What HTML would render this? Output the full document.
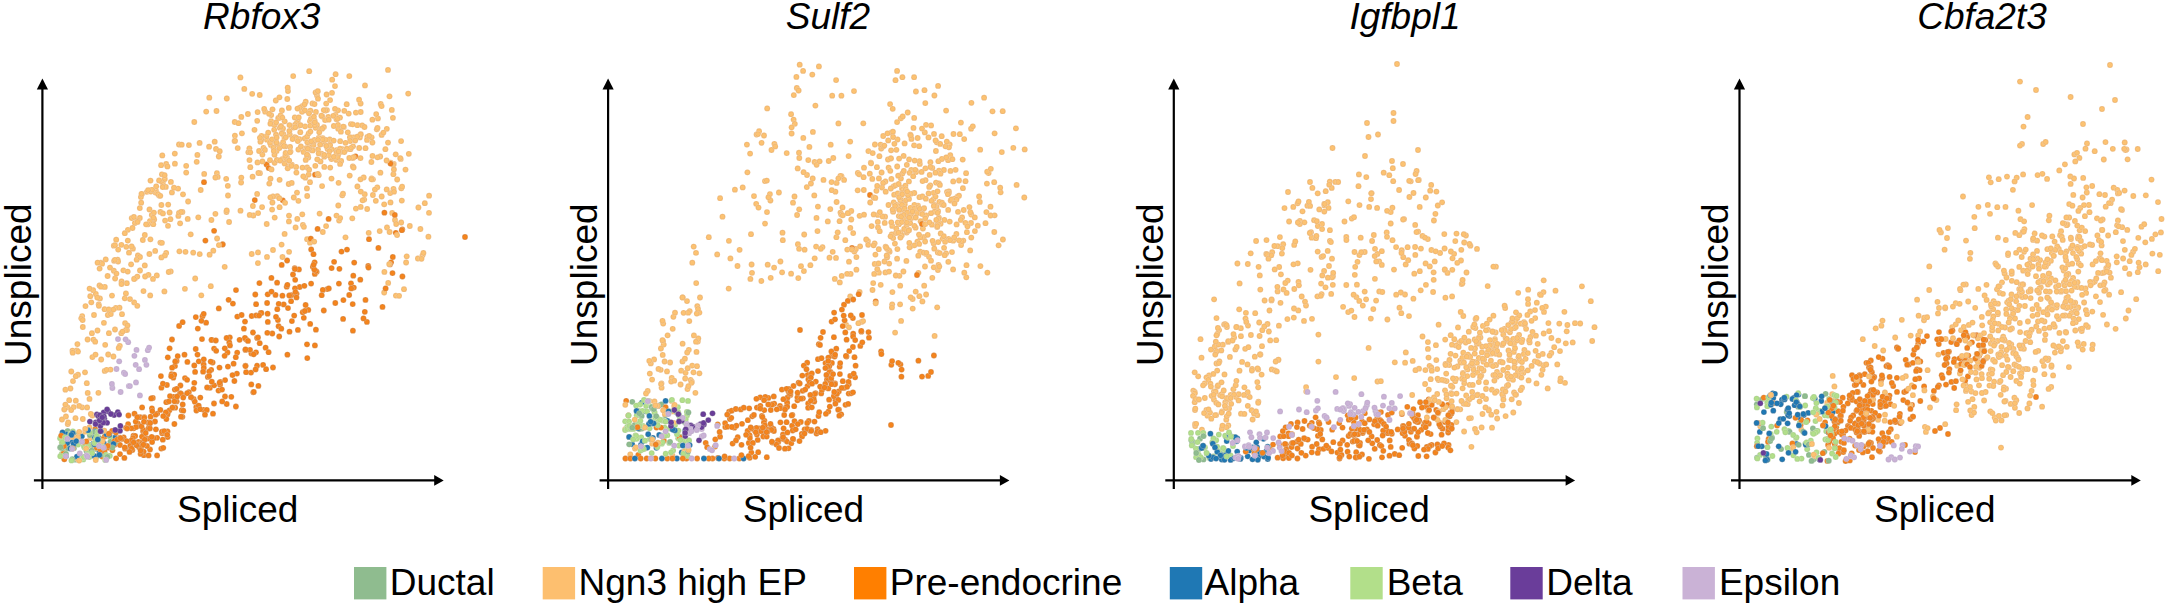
<!DOCTYPE html>
<html><head><meta charset="utf-8"><style>
html,body{margin:0;padding:0;background:#fff;width:2168px;height:606px;overflow:hidden}
svg{display:block}
text{font-family:"Liberation Sans",Arial,sans-serif;font-size:37px;fill:#000}
text.t{font-style:italic}
circle{r:2.9px;stroke:#fff;stroke-opacity:.55;stroke-width:.5px}
.D{fill:url(#gD)}.N{fill:url(#gN)}.P{fill:url(#gP)}.A{fill:url(#gA)}.B{fill:url(#gB)}.T{fill:url(#gT)}.E{fill:url(#gE)}
</style></head><body>
<svg width="2168" height="606" viewBox="0 0 2168 606">
<defs><radialGradient id="gD"><stop offset="0" stop-color="#8fbc8f"/><stop offset=".55" stop-color="#8fbc8f"/><stop offset="1" stop-color="#76a577"/></radialGradient><radialGradient id="gN"><stop offset="0" stop-color="#fcc272"/><stop offset=".55" stop-color="#fcc272"/><stop offset="1" stop-color="#e5a152"/></radialGradient><radialGradient id="gP"><stop offset="0" stop-color="#f5841c"/><stop offset=".55" stop-color="#f5841c"/><stop offset="1" stop-color="#cf6a12"/></radialGradient><radialGradient id="gA"><stop offset="0" stop-color="#1f78b4"/><stop offset=".55" stop-color="#1f78b4"/><stop offset="1" stop-color="#175d8c"/></radialGradient><radialGradient id="gB"><stop offset="0" stop-color="#b2df8a"/><stop offset=".55" stop-color="#b2df8a"/><stop offset="1" stop-color="#97c472"/></radialGradient><radialGradient id="gT"><stop offset="0" stop-color="#6a3d9a"/><stop offset=".55" stop-color="#6a3d9a"/><stop offset="1" stop-color="#52307a"/></radialGradient><radialGradient id="gE"><stop offset="0" stop-color="#cab2d6"/><stop offset=".55" stop-color="#cab2d6"/><stop offset="1" stop-color="#b098bf"/></radialGradient></defs>
<g><circle class="N" cx="284.5" cy="138.1" r="2.9"/>
<circle class="B" cx="1820.3" cy="410.8" r="2.9"/>
<circle class="P" cx="166.3" cy="402.2" r="2.9"/>
<circle class="A" cx="1782.0" cy="399.6" r="2.9"/>
<circle class="N" cx="2067.4" cy="224.5" r="2.9"/>
<circle class="N" cx="818.9" cy="66.4" r="2.9"/>
<circle class="P" cx="1448.6" cy="445.0" r="2.9"/>
<circle class="N" cx="281.9" cy="110.5" r="2.9"/>
<circle class="P" cx="786.6" cy="422.2" r="2.9"/>
<circle class="P" cx="800.0" cy="330.0" r="2.9"/>
<circle class="N" cx="835.4" cy="191.7" r="2.9"/>
<circle class="N" cx="904.7" cy="204.2" r="2.9"/>
<circle class="N" cx="1493.2" cy="341.8" r="2.9"/>
<circle class="N" cx="1480.4" cy="337.4" r="2.9"/>
<circle class="N" cx="2078.4" cy="236.5" r="2.9"/>
<circle class="N" cx="1425.1" cy="384.0" r="2.9"/>
<circle class="B" cx="661.8" cy="443.7" r="2.9"/>
<circle class="N" cx="1490.9" cy="364.5" r="2.9"/>
<circle class="N" cx="892.2" cy="225.9" r="2.9"/>
<circle class="P" cx="214.1" cy="230.8" r="2.9"/>
<circle class="N" cx="1957.2" cy="365.7" r="2.9"/>
<circle class="N" cx="699.4" cy="312.6" r="2.9"/>
<circle class="N" cx="1993.1" cy="359.9" r="2.9"/>
<circle class="N" cx="288.3" cy="166.1" r="2.9"/>
<circle class="N" cx="910.3" cy="134.7" r="2.9"/>
<circle class="N" cx="2068.2" cy="264.4" r="2.9"/>
<circle class="P" cx="717.9" cy="457.9" r="2.9"/>
<circle class="B" cx="657.1" cy="421.7" r="2.9"/>
<circle class="N" cx="348.7" cy="113.6" r="2.9"/>
<circle class="N" cx="127.0" cy="330.1" r="2.9"/>
<circle class="N" cx="1497.2" cy="418.5" r="2.9"/>
<circle class="N" cx="889.6" cy="251.7" r="2.9"/>
<circle class="N" cx="2027.7" cy="369.2" r="2.9"/>
<circle class="N" cx="934.0" cy="133.9" r="2.9"/>
<circle class="N" cx="338.2" cy="128.8" r="2.9"/>
<circle class="N" cx="2113.7" cy="187.7" r="2.9"/>
<circle class="N" cx="693.7" cy="246.6" r="2.9"/>
<circle class="N" cx="274.6" cy="162.8" r="2.9"/>
<circle class="N" cx="1250.7" cy="253.3" r="2.9"/>
<circle class="N" cx="1343.1" cy="306.8" r="2.9"/>
<circle class="N" cx="171.9" cy="192.4" r="2.9"/>
<circle class="P" cx="810.2" cy="376.5" r="2.9"/>
<circle class="N" cx="687.0" cy="301.1" r="2.9"/>
<circle class="P" cx="870.0" cy="195.0" r="2.9"/>
<circle class="N" cx="2006.2" cy="415.1" r="2.9"/>
<circle class="N" cx="897.1" cy="258.7" r="2.9"/>
<circle class="N" cx="1986.3" cy="358.3" r="2.9"/>
<circle class="N" cx="1971.6" cy="415.1" r="2.9"/>
<circle class="B" cx="96.0" cy="458.0" r="2.9"/>
<circle class="P" cx="768.4" cy="397.9" r="2.9"/>
<circle class="N" cx="2053.9" cy="305.7" r="2.9"/>
<circle class="N" cx="2058.8" cy="248.9" r="2.9"/>
<circle class="N" cx="2051.4" cy="366.8" r="2.9"/>
<circle class="N" cx="1324.5" cy="205.4" r="2.9"/>
<circle class="P" cx="1352.7" cy="441.6" r="2.9"/>
<circle class="N" cx="911.3" cy="170.0" r="2.9"/>
<circle class="N" cx="2005.5" cy="401.0" r="2.9"/>
<circle class="N" cx="916.0" cy="170.8" r="2.9"/>
<circle class="N" cx="1420.7" cy="290.3" r="2.9"/>
<circle class="P" cx="212.6" cy="362.5" r="2.9"/>
<circle class="N" cx="1392.4" cy="207.7" r="2.9"/>
<circle class="N" cx="2048.8" cy="220.3" r="2.9"/>
<circle class="N" cx="315.4" cy="123.6" r="2.9"/>
<circle class="N" cx="917.4" cy="241.6" r="2.9"/>
<circle class="N" cx="115.1" cy="278.5" r="2.9"/>
<circle class="N" cx="1229.1" cy="408.3" r="2.9"/>
<circle class="N" cx="1228.2" cy="341.9" r="2.9"/>
<circle class="N" cx="2064.7" cy="306.8" r="2.9"/>
<circle class="N" cx="797.1" cy="215.0" r="2.9"/>
<circle class="N" cx="1878.1" cy="419.8" r="2.9"/>
<circle class="N" cx="924.0" cy="236.8" r="2.9"/>
<circle class="P" cx="835.9" cy="398.0" r="2.9"/>
<circle class="N" cx="942.0" cy="204.4" r="2.9"/>
<circle class="N" cx="1526.1" cy="328.8" r="2.9"/>
<circle class="N" cx="170.7" cy="271.4" r="2.9"/>
<circle class="P" cx="97.5" cy="433.5" r="2.9"/>
<circle class="N" cx="320.2" cy="129.2" r="2.9"/>
<circle class="B" cx="625.2" cy="421.3" r="2.9"/>
<circle class="N" cx="2074.9" cy="221.0" r="2.9"/>
<circle class="N" cx="1501.0" cy="361.6" r="2.9"/>
<circle class="N" cx="2015.3" cy="232.9" r="2.9"/>
<circle class="N" cx="1984.6" cy="295.4" r="2.9"/>
<circle class="N" cx="2011.3" cy="344.5" r="2.9"/>
<circle class="A" cx="1237.3" cy="438.3" r="2.9"/>
<circle class="A" cx="87.4" cy="451.5" r="2.9"/>
<circle class="P" cx="139.2" cy="425.5" r="2.9"/>
<circle class="N" cx="2076.9" cy="309.0" r="2.9"/>
<circle class="N" cx="2108.1" cy="235.5" r="2.9"/>
<circle class="B" cx="61.8" cy="442.4" r="2.9"/>
<circle class="P" cx="176.7" cy="401.4" r="2.9"/>
<circle class="P" cx="836.3" cy="348.7" r="2.9"/>
<circle class="P" cx="1964.6" cy="337.2" r="2.9"/>
<circle class="N" cx="252.2" cy="93.8" r="2.9"/>
<circle class="P" cx="1377.3" cy="418.1" r="2.9"/>
<circle class="N" cx="275.8" cy="100.5" r="2.9"/>
<circle class="N" cx="2126.5" cy="149.4" r="2.9"/>
<circle class="D" cx="1798.1" cy="406.7" r="2.9"/>
<circle class="N" cx="1209.1" cy="375.4" r="2.9"/>
<circle class="N" cx="2028.3" cy="332.6" r="2.9"/>
<circle class="P" cx="391.1" cy="262.3" r="2.9"/>
<circle class="N" cx="1374.9" cy="278.8" r="2.9"/>
<circle class="N" cx="380.2" cy="156.5" r="2.9"/>
<circle class="P" cx="852.9" cy="318.1" r="2.9"/>
<circle class="N" cx="1446.6" cy="381.1" r="2.9"/>
<circle class="N" cx="187.7" cy="218.9" r="2.9"/>
<circle class="P" cx="729.1" cy="411.7" r="2.9"/>
<circle class="N" cx="360.6" cy="103.5" r="2.9"/>
<circle class="P" cx="143.8" cy="455.2" r="2.9"/>
<circle class="P" cx="102.2" cy="456.6" r="2.9"/>
<circle class="B" cx="1205.0" cy="447.4" r="2.9"/>
<circle class="P" cx="1836.3" cy="427.2" r="2.9"/>
<circle class="N" cx="1472.8" cy="366.2" r="2.9"/>
<circle class="N" cx="2101.9" cy="229.9" r="2.9"/>
<circle class="N" cx="1508.0" cy="367.6" r="2.9"/>
<circle class="P" cx="1437.4" cy="444.5" r="2.9"/>
<circle class="N" cx="389.5" cy="96.3" r="2.9"/>
<circle class="N" cx="1464.1" cy="431.5" r="2.9"/>
<circle class="N" cx="1564.4" cy="311.8" r="2.9"/>
<circle class="B" cx="688.7" cy="433.1" r="2.9"/>
<circle class="N" cx="2020.5" cy="219.2" r="2.9"/>
<circle class="N" cx="277.3" cy="196.2" r="2.9"/>
<circle class="N" cx="313.5" cy="145.0" r="2.9"/>
<circle class="N" cx="2020.8" cy="284.6" r="2.9"/>
<circle class="P" cx="168.1" cy="412.1" r="2.9"/>
<circle class="P" cx="133.7" cy="428.3" r="2.9"/>
<circle class="N" cx="2078.2" cy="307.4" r="2.9"/>
<circle class="N" cx="2080.2" cy="208.0" r="2.9"/>
<circle class="N" cx="1930.0" cy="407.5" r="2.9"/>
<circle class="P" cx="169.4" cy="410.3" r="2.9"/>
<circle class="N" cx="2102.0" cy="273.1" r="2.9"/>
<circle class="N" cx="1206.5" cy="377.3" r="2.9"/>
<circle class="B" cx="1784.5" cy="429.2" r="2.9"/>
<circle class="N" cx="125.9" cy="330.0" r="2.9"/>
<circle class="N" cx="861.5" cy="321.9" r="2.9"/>
<circle class="N" cx="770.7" cy="277.8" r="2.9"/>
<circle class="A" cx="1789.3" cy="416.1" r="2.9"/>
<circle class="N" cx="1408.2" cy="260.2" r="2.9"/>
<circle class="A" cx="1221.8" cy="459.6" r="2.9"/>
<circle class="P" cx="209.9" cy="387.8" r="2.9"/>
<circle class="N" cx="1416.6" cy="171.0" r="2.9"/>
<circle class="P" cx="283.7" cy="304.4" r="2.9"/>
<circle class="D" cx="684.9" cy="422.2" r="2.9"/>
<circle class="N" cx="1222.0" cy="411.5" r="2.9"/>
<circle class="N" cx="822.5" cy="247.1" r="2.9"/>
<circle class="B" cx="1767.5" cy="447.2" r="2.9"/>
<circle class="N" cx="2002.0" cy="282.3" r="2.9"/>
<circle class="N" cx="2051.9" cy="253.2" r="2.9"/>
<circle class="N" cx="1927.6" cy="370.2" r="2.9"/>
<circle class="P" cx="165.6" cy="433.4" r="2.9"/>
<circle class="P" cx="1867.2" cy="405.6" r="2.9"/>
<circle class="N" cx="1456.4" cy="422.1" r="2.9"/>
<circle class="P" cx="138.7" cy="444.4" r="2.9"/>
<circle class="N" cx="903.6" cy="155.9" r="2.9"/>
<circle class="N" cx="888.2" cy="140.4" r="2.9"/>
<circle class="N" cx="377.9" cy="118.4" r="2.9"/>
<circle class="P" cx="1355.6" cy="417.4" r="2.9"/>
<circle class="N" cx="2073.7" cy="318.6" r="2.9"/>
<circle class="N" cx="673.4" cy="316.8" r="2.9"/>
<circle class="D" cx="91.2" cy="453.9" r="2.9"/>
<circle class="N" cx="1457.4" cy="366.5" r="2.9"/>
<circle class="N" cx="1233.4" cy="389.2" r="2.9"/>
<circle class="P" cx="188.9" cy="392.1" r="2.9"/>
<circle class="N" cx="1213.9" cy="399.5" r="2.9"/>
<circle class="N" cx="1516.1" cy="394.6" r="2.9"/>
<circle class="N" cx="2065.0" cy="303.3" r="2.9"/>
<circle class="P" cx="756.9" cy="407.6" r="2.9"/>
<circle class="N" cx="1925.9" cy="431.9" r="2.9"/>
<circle class="N" cx="360.2" cy="135.0" r="2.9"/>
<circle class="P" cx="167.6" cy="437.0" r="2.9"/>
<circle class="N" cx="82.2" cy="407.3" r="2.9"/>
<circle class="N" cx="1955.7" cy="303.1" r="2.9"/>
<circle class="N" cx="964.2" cy="139.1" r="2.9"/>
<circle class="N" cx="186.2" cy="172.6" r="2.9"/>
<circle class="D" cx="77.0" cy="458.6" r="2.9"/>
<circle class="P" cx="138.5" cy="441.9" r="2.9"/>
<circle class="A" cx="1814.8" cy="398.8" r="2.9"/>
<circle class="N" cx="957.5" cy="196.7" r="2.9"/>
<circle class="N" cx="905.7" cy="200.3" r="2.9"/>
<circle class="P" cx="785.1" cy="439.7" r="2.9"/>
<circle class="P" cx="150.0" cy="449.5" r="2.9"/>
<circle class="P" cx="1290.1" cy="454.5" r="2.9"/>
<circle class="N" cx="2071.0" cy="239.1" r="2.9"/>
<circle class="B" cx="678.4" cy="430.6" r="2.9"/>
<circle class="N" cx="918.0" cy="205.6" r="2.9"/>
<circle class="A" cx="641.9" cy="402.6" r="2.9"/>
<circle class="N" cx="767.2" cy="108.4" r="2.9"/>
<circle class="B" cx="78.1" cy="444.6" r="2.9"/>
<circle class="P" cx="327.3" cy="289.1" r="2.9"/>
<circle class="P" cx="287.4" cy="354.7" r="2.9"/>
<circle class="N" cx="1511.4" cy="322.7" r="2.9"/>
<circle class="B" cx="1826.3" cy="431.2" r="2.9"/>
<circle class="N" cx="307.2" cy="196.0" r="2.9"/>
<circle class="P" cx="279.2" cy="336.5" r="2.9"/>
<circle class="N" cx="933.4" cy="199.1" r="2.9"/>
<circle class="N" cx="1937.5" cy="301.8" r="2.9"/>
<circle class="P" cx="1900.3" cy="423.0" r="2.9"/>
<circle class="P" cx="1379.8" cy="445.0" r="2.9"/>
<circle class="B" cx="643.2" cy="449.3" r="2.9"/>
<circle class="N" cx="160.4" cy="242.6" r="2.9"/>
<circle class="N" cx="249.4" cy="148.3" r="2.9"/>
<circle class="N" cx="867.9" cy="241.1" r="2.9"/>
<circle class="N" cx="2001.5" cy="420.4" r="2.9"/>
<circle class="N" cx="1479.6" cy="401.3" r="2.9"/>
<circle class="P" cx="1874.3" cy="376.9" r="2.9"/>
<circle class="B" cx="1832.1" cy="453.5" r="2.9"/>
<circle class="N" cx="156.8" cy="275.4" r="2.9"/>
<circle class="P" cx="1354.0" cy="422.6" r="2.9"/>
<circle class="B" cx="686.9" cy="411.9" r="2.9"/>
<circle class="N" cx="273.0" cy="196.5" r="2.9"/>
<circle class="N" cx="1403.3" cy="257.2" r="2.9"/>
<circle class="N" cx="911.2" cy="245.8" r="2.9"/>
<circle class="P" cx="1870.8" cy="360.5" r="2.9"/>
<circle class="P" cx="1358.1" cy="434.2" r="2.9"/>
<circle class="P" cx="392.8" cy="257.0" r="2.9"/>
<circle class="N" cx="1418.8" cy="421.8" r="2.9"/>
<circle class="N" cx="248.4" cy="152.2" r="2.9"/>
<circle class="A" cx="115.2" cy="437.5" r="2.9"/>
<circle class="N" cx="336.5" cy="150.1" r="2.9"/>
<circle class="P" cx="193.6" cy="399.0" r="2.9"/>
<circle class="N" cx="936.8" cy="142.3" r="2.9"/>
<circle class="N" cx="273.0" cy="250.0" r="2.9"/>
<circle class="N" cx="1939.0" cy="308.0" r="2.9"/>
<circle class="N" cx="274.2" cy="129.8" r="2.9"/>
<circle class="N" cx="139.8" cy="218.0" r="2.9"/>
<circle class="N" cx="307.1" cy="167.4" r="2.9"/>
<circle class="B" cx="678.9" cy="445.6" r="2.9"/>
<circle class="P" cx="1403.5" cy="428.0" r="2.9"/>
<circle class="P" cx="1302.6" cy="429.0" r="2.9"/>
<circle class="P" cx="1860.7" cy="431.9" r="2.9"/>
<circle class="N" cx="946.1" cy="253.4" r="2.9"/>
<circle class="B" cx="655.2" cy="417.5" r="2.9"/>
<circle class="N" cx="2013.5" cy="348.9" r="2.9"/>
<circle class="N" cx="923.0" cy="237.3" r="2.9"/>
<circle class="N" cx="2075.8" cy="310.3" r="2.9"/>
<circle class="N" cx="1983.0" cy="362.6" r="2.9"/>
<circle class="D" cx="642.0" cy="428.5" r="2.9"/>
<circle class="N" cx="1918.2" cy="335.4" r="2.9"/>
<circle class="P" cx="143.7" cy="441.3" r="2.9"/>
<circle class="P" cx="311.1" cy="283.6" r="2.9"/>
<circle class="P" cx="638.3" cy="454.9" r="2.9"/>
<circle class="N" cx="936.5" cy="206.9" r="2.9"/>
<circle class="P" cx="175.0" cy="366.1" r="2.9"/>
<circle class="B" cx="657.0" cy="417.3" r="2.9"/>
<circle class="N" cx="1513.3" cy="412.5" r="2.9"/>
<circle class="N" cx="2075.3" cy="330.5" r="2.9"/>
<circle class="N" cx="696.2" cy="283.1" r="2.9"/>
<circle class="N" cx="241.9" cy="133.3" r="2.9"/>
<circle class="P" cx="267.7" cy="294.3" r="2.9"/>
<circle class="N" cx="1193.3" cy="390.6" r="2.9"/>
<circle class="N" cx="1002.7" cy="111.2" r="2.9"/>
<circle class="P" cx="821.2" cy="393.4" r="2.9"/>
<circle class="P" cx="142.5" cy="441.8" r="2.9"/>
<circle class="P" cx="1845.6" cy="461.0" r="2.9"/>
<circle class="A" cx="1796.4" cy="443.8" r="2.9"/>
<circle class="N" cx="134.9" cy="223.0" r="2.9"/>
<circle class="N" cx="1386.7" cy="232.4" r="2.9"/>
<circle class="N" cx="878.0" cy="227.4" r="2.9"/>
<circle class="P" cx="114.5" cy="444.7" r="2.9"/>
<circle class="N" cx="2014.5" cy="364.4" r="2.9"/>
<circle class="P" cx="1940.2" cy="338.9" r="2.9"/>
<circle class="P" cx="312.8" cy="266.8" r="2.9"/>
<circle class="N" cx="67.7" cy="424.1" r="2.9"/>
<circle class="N" cx="1231.2" cy="403.8" r="2.9"/>
<circle class="N" cx="688.8" cy="349.8" r="2.9"/>
<circle class="N" cx="898.7" cy="224.2" r="2.9"/>
<circle class="B" cx="1760.1" cy="454.9" r="2.9"/>
<circle class="N" cx="1547.7" cy="388.4" r="2.9"/>
<circle class="P" cx="715.1" cy="446.5" r="2.9"/>
<circle class="D" cx="1786.7" cy="411.9" r="2.9"/>
<circle class="N" cx="830.3" cy="209.1" r="2.9"/>
<circle class="N" cx="890.8" cy="158.4" r="2.9"/>
<circle class="N" cx="121.3" cy="333.2" r="2.9"/>
<circle class="N" cx="1997.5" cy="341.0" r="2.9"/>
<circle class="B" cx="641.2" cy="437.3" r="2.9"/>
<circle class="N" cx="1504.4" cy="328.8" r="2.9"/>
<circle class="N" cx="2069.2" cy="217.5" r="2.9"/>
<circle class="N" cx="319.6" cy="213.6" r="2.9"/>
<circle class="N" cx="2071.5" cy="312.8" r="2.9"/>
<circle class="P" cx="1423.7" cy="425.9" r="2.9"/>
<circle class="N" cx="312.5" cy="103.4" r="2.9"/>
<circle class="P" cx="1837.7" cy="422.3" r="2.9"/>
<circle class="N" cx="922.9" cy="228.5" r="2.9"/>
<circle class="N" cx="1442.1" cy="202.3" r="2.9"/>
<circle class="N" cx="1258.4" cy="401.6" r="2.9"/>
<circle class="P" cx="1428.8" cy="423.7" r="2.9"/>
<circle class="N" cx="278.9" cy="145.1" r="2.9"/>
<circle class="A" cx="658.4" cy="405.7" r="2.9"/>
<circle class="P" cx="140.1" cy="417.2" r="2.9"/>
<circle class="N" cx="756.2" cy="203.8" r="2.9"/>
<circle class="P" cx="1315.6" cy="417.3" r="2.9"/>
<circle class="N" cx="1432.5" cy="401.7" r="2.9"/>
<circle class="P" cx="180.4" cy="385.5" r="2.9"/>
<circle class="N" cx="2075.7" cy="322.2" r="2.9"/>
<circle class="N" cx="336.4" cy="159.9" r="2.9"/>
<circle class="B" cx="61.8" cy="453.8" r="2.9"/>
<circle class="N" cx="2011.4" cy="316.4" r="2.9"/>
<circle class="P" cx="1933.9" cy="390.9" r="2.9"/>
<circle class="N" cx="919.4" cy="296.2" r="2.9"/>
<circle class="A" cx="92.8" cy="443.8" r="2.9"/>
<circle class="A" cx="1759.8" cy="431.9" r="2.9"/>
<circle class="N" cx="1271.8" cy="369.4" r="2.9"/>
<circle class="P" cx="1834.6" cy="433.8" r="2.9"/>
<circle class="D" cx="1813.4" cy="459.6" r="2.9"/>
<circle class="A" cx="645.8" cy="411.3" r="2.9"/>
<circle class="A" cx="1240.8" cy="457.9" r="2.9"/>
<circle class="B" cx="90.1" cy="434.1" r="2.9"/>
<circle class="N" cx="2016.3" cy="365.7" r="2.9"/>
<circle class="D" cx="1798.6" cy="404.6" r="2.9"/>
<circle class="N" cx="1324.3" cy="211.6" r="2.9"/>
<circle class="D" cx="1200.0" cy="438.7" r="2.9"/>
<circle class="N" cx="672.4" cy="455.4" r="2.9"/>
<circle class="N" cx="2020.0" cy="295.6" r="2.9"/>
<circle class="N" cx="1565.8" cy="343.3" r="2.9"/>
<circle class="N" cx="349.3" cy="76.1" r="2.9"/>
<circle class="N" cx="1476.6" cy="432.3" r="2.9"/>
<circle class="N" cx="661.6" cy="387.7" r="2.9"/>
<circle class="P" cx="266.6" cy="164.5" r="2.9"/>
<circle class="N" cx="764.9" cy="181.1" r="2.9"/>
<circle class="N" cx="2042.4" cy="173.8" r="2.9"/>
<circle class="N" cx="289.8" cy="134.7" r="2.9"/>
<circle class="N" cx="134.2" cy="302.4" r="2.9"/>
<circle class="P" cx="1869.0" cy="431.3" r="2.9"/>
<circle class="N" cx="1929.3" cy="266.4" r="2.9"/>
<circle class="P" cx="900.4" cy="364.4" r="2.9"/>
<circle class="P" cx="797.5" cy="400.3" r="2.9"/>
<circle class="P" cx="257.0" cy="365.7" r="2.9"/>
<circle class="P" cx="823.3" cy="387.2" r="2.9"/>
<circle class="P" cx="395.8" cy="232.8" r="2.9"/>
<circle class="N" cx="900.2" cy="285.7" r="2.9"/>
<circle class="P" cx="807.7" cy="375.0" r="2.9"/>
<circle class="P" cx="1426.4" cy="406.7" r="2.9"/>
<circle class="N" cx="372.4" cy="142.5" r="2.9"/>
<circle class="N" cx="1194.7" cy="402.2" r="2.9"/>
<circle class="N" cx="1477.7" cy="394.6" r="2.9"/>
<circle class="N" cx="1496.2" cy="364.9" r="2.9"/>
<circle class="N" cx="284.7" cy="121.3" r="2.9"/>
<circle class="N" cx="1542.7" cy="353.9" r="2.9"/>
<circle class="N" cx="1505.0" cy="330.5" r="2.9"/>
<circle class="N" cx="1476.9" cy="343.5" r="2.9"/>
<circle class="N" cx="1528.1" cy="303.9" r="2.9"/>
<circle class="N" cx="654.1" cy="359.4" r="2.9"/>
<circle class="N" cx="1872.2" cy="418.5" r="2.9"/>
<circle class="P" cx="686.5" cy="458.5" r="2.9"/>
<circle class="N" cx="1422.5" cy="235.9" r="2.9"/>
<circle class="N" cx="2047.6" cy="309.2" r="2.9"/>
<circle class="N" cx="663.2" cy="323.6" r="2.9"/>
<circle class="N" cx="165.1" cy="220.6" r="2.9"/>
<circle class="B" cx="1824.8" cy="415.3" r="2.9"/>
<circle class="N" cx="857.7" cy="190.3" r="2.9"/>
<circle class="N" cx="1306.0" cy="305.5" r="2.9"/>
<circle class="P" cx="355.5" cy="156.3" r="2.9"/>
<circle class="N" cx="959.8" cy="134.2" r="2.9"/>
<circle class="N" cx="166.2" cy="164.0" r="2.9"/>
<circle class="P" cx="1833.8" cy="428.5" r="2.9"/>
<circle class="N" cx="833.3" cy="158.0" r="2.9"/>
<circle class="N" cx="687.2" cy="352.5" r="2.9"/>
<circle class="P" cx="922.0" cy="376.6" r="2.9"/>
<circle class="P" cx="835.1" cy="383.5" r="2.9"/>
<circle class="N" cx="1440.1" cy="253.0" r="2.9"/>
<circle class="N" cx="1329.9" cy="230.2" r="2.9"/>
<circle class="B" cx="1807.2" cy="449.2" r="2.9"/>
<circle class="N" cx="898.8" cy="216.1" r="2.9"/>
<circle class="N" cx="1321.1" cy="283.6" r="2.9"/>
<circle class="N" cx="1875.7" cy="328.3" r="2.9"/>
<circle class="N" cx="898.8" cy="224.2" r="2.9"/>
<circle class="N" cx="420.4" cy="229.0" r="2.9"/>
<circle class="A" cx="1773.3" cy="397.9" r="2.9"/>
<circle class="D" cx="104.1" cy="454.8" r="2.9"/>
<circle class="A" cx="1816.3" cy="430.9" r="2.9"/>
<circle class="P" cx="787.0" cy="441.6" r="2.9"/>
<circle class="N" cx="1998.5" cy="323.8" r="2.9"/>
<circle class="N" cx="2020.1" cy="332.1" r="2.9"/>
<circle class="B" cx="1804.8" cy="396.2" r="2.9"/>
<circle class="N" cx="1467.5" cy="369.4" r="2.9"/>
<circle class="N" cx="100.8" cy="262.7" r="2.9"/>
<circle class="N" cx="1508.1" cy="375.2" r="2.9"/>
<circle class="N" cx="1993.6" cy="301.1" r="2.9"/>
<circle class="N" cx="697.8" cy="341.6" r="2.9"/>
<circle class="N" cx="1228.3" cy="341.2" r="2.9"/>
<circle class="P" cx="194.8" cy="401.7" r="2.9"/>
<circle class="A" cx="1821.8" cy="411.7" r="2.9"/>
<circle class="N" cx="1428.5" cy="357.6" r="2.9"/>
<circle class="N" cx="298.2" cy="125.4" r="2.9"/>
<circle class="B" cx="662.0" cy="420.6" r="2.9"/>
<circle class="P" cx="852.9" cy="347.0" r="2.9"/>
<circle class="N" cx="913.5" cy="127.9" r="2.9"/>
<circle class="D" cx="632.3" cy="401.8" r="2.9"/>
<circle class="N" cx="966.3" cy="277.3" r="2.9"/>
<circle class="N" cx="2030.5" cy="258.7" r="2.9"/>
<circle class="P" cx="1428.7" cy="399.3" r="2.9"/>
<circle class="P" cx="1284.7" cy="456.1" r="2.9"/>
<circle class="N" cx="1986.6" cy="299.9" r="2.9"/>
<circle class="D" cx="639.4" cy="429.1" r="2.9"/>
<circle class="P" cx="1348.6" cy="436.0" r="2.9"/>
<circle class="A" cx="1226.2" cy="437.1" r="2.9"/>
<circle class="N" cx="1514.8" cy="363.1" r="2.9"/>
<circle class="P" cx="1319.0" cy="449.2" r="2.9"/>
<circle class="P" cx="268.7" cy="168.1" r="2.9"/>
<circle class="N" cx="287.0" cy="157.3" r="2.9"/>
<circle class="N" cx="252.6" cy="176.7" r="2.9"/>
<circle class="N" cx="906.5" cy="225.8" r="2.9"/>
<circle class="N" cx="350.4" cy="149.2" r="2.9"/>
<circle class="N" cx="322.3" cy="116.5" r="2.9"/>
<circle class="N" cx="1944.6" cy="249.7" r="2.9"/>
<circle class="P" cx="1872.0" cy="419.6" r="2.9"/>
<circle class="N" cx="254.5" cy="129.8" r="2.9"/>
<circle class="P" cx="1877.2" cy="392.4" r="2.9"/>
<circle class="N" cx="274.7" cy="217.6" r="2.9"/>
<circle class="P" cx="1312.1" cy="446.7" r="2.9"/>
<circle class="N" cx="630.3" cy="454.4" r="2.9"/>
<circle class="P" cx="232.9" cy="303.6" r="2.9"/>
<circle class="N" cx="1494.9" cy="339.1" r="2.9"/>
<circle class="N" cx="1559.3" cy="323.6" r="2.9"/>
<circle class="N" cx="680.6" cy="384.5" r="2.9"/>
<circle class="N" cx="305.3" cy="177.7" r="2.9"/>
<circle class="N" cx="1969.9" cy="258.8" r="2.9"/>
<circle class="P" cx="1320.8" cy="430.0" r="2.9"/>
<circle class="N" cx="113.8" cy="270.7" r="2.9"/>
<circle class="P" cx="107.4" cy="447.7" r="2.9"/>
<circle class="N" cx="2069.2" cy="204.1" r="2.9"/>
<circle class="N" cx="2063.9" cy="282.5" r="2.9"/>
<circle class="P" cx="881.1" cy="351.4" r="2.9"/>
<circle class="N" cx="2049.3" cy="307.7" r="2.9"/>
<circle class="N" cx="911.5" cy="218.1" r="2.9"/>
<circle class="B" cx="1812.8" cy="433.0" r="2.9"/>
<circle class="N" cx="288.9" cy="221.4" r="2.9"/>
<circle class="N" cx="1222.8" cy="344.7" r="2.9"/>
<circle class="P" cx="836.0" cy="399.5" r="2.9"/>
<circle class="P" cx="826.9" cy="379.7" r="2.9"/>
<circle class="P" cx="1889.6" cy="376.9" r="2.9"/>
<circle class="N" cx="196.7" cy="161.8" r="2.9"/>
<circle class="N" cx="1873.2" cy="399.5" r="2.9"/>
<circle class="N" cx="1495.5" cy="365.2" r="2.9"/>
<circle class="P" cx="206.1" cy="322.7" r="2.9"/>
<circle class="N" cx="2125.5" cy="150.0" r="2.9"/>
<circle class="B" cx="1812.8" cy="398.1" r="2.9"/>
<circle class="N" cx="1532.5" cy="332.0" r="2.9"/>
<circle class="N" cx="1228.3" cy="425.5" r="2.9"/>
<circle class="B" cx="1816.6" cy="409.9" r="2.9"/>
<circle class="N" cx="2145.7" cy="264.4" r="2.9"/>
<circle class="P" cx="1871.4" cy="410.8" r="2.9"/>
<circle class="N" cx="1459.2" cy="342.7" r="2.9"/>
<circle class="P" cx="1841.3" cy="441.8" r="2.9"/>
<circle class="N" cx="1979.4" cy="367.8" r="2.9"/>
<circle class="N" cx="1885.0" cy="414.7" r="2.9"/>
<circle class="N" cx="99.9" cy="298.4" r="2.9"/>
<circle class="A" cx="1798.5" cy="394.4" r="2.9"/>
<circle class="N" cx="814.3" cy="195.4" r="2.9"/>
<circle class="P" cx="1448.0" cy="405.0" r="2.9"/>
<circle class="A" cx="1249.2" cy="450.6" r="2.9"/>
<circle class="N" cx="253.4" cy="215.5" r="2.9"/>
<circle class="A" cx="652.0" cy="423.5" r="2.9"/>
<circle class="P" cx="211.6" cy="340.0" r="2.9"/>
<circle class="N" cx="926.2" cy="215.5" r="2.9"/>
<circle class="N" cx="381.7" cy="196.5" r="2.9"/>
<circle class="N" cx="2073.9" cy="305.6" r="2.9"/>
<circle class="N" cx="1974.3" cy="216.8" r="2.9"/>
<circle class="N" cx="1508.7" cy="341.5" r="2.9"/>
<circle class="N" cx="2017.5" cy="357.5" r="2.9"/>
<circle class="N" cx="900.6" cy="232.4" r="2.9"/>
<circle class="N" cx="759.1" cy="131.2" r="2.9"/>
<circle class="N" cx="276.6" cy="151.0" r="2.9"/>
<circle class="N" cx="1477.0" cy="248.9" r="2.9"/>
<circle class="N" cx="1226.9" cy="327.0" r="2.9"/>
<circle class="B" cx="1771.3" cy="426.6" r="2.9"/>
<circle class="N" cx="937.9" cy="270.0" r="2.9"/>
<circle class="P" cx="1879.9" cy="451.6" r="2.9"/>
<circle class="N" cx="1280.5" cy="302.8" r="2.9"/>
<circle class="N" cx="1503.1" cy="396.1" r="2.9"/>
<circle class="P" cx="341.5" cy="251.6" r="2.9"/>
<circle class="N" cx="149.4" cy="254.0" r="2.9"/>
<circle class="N" cx="2048.4" cy="358.6" r="2.9"/>
<circle class="P" cx="1860.8" cy="408.8" r="2.9"/>
<circle class="N" cx="1986.5" cy="284.8" r="2.9"/>
<circle class="P" cx="251.4" cy="353.4" r="2.9"/>
<circle class="P" cx="1311.8" cy="422.8" r="2.9"/>
<circle class="P" cx="830.6" cy="371.9" r="2.9"/>
<circle class="N" cx="882.0" cy="187.5" r="2.9"/>
<circle class="N" cx="1917.1" cy="299.7" r="2.9"/>
<circle class="N" cx="932.0" cy="224.7" r="2.9"/>
<circle class="N" cx="2038.4" cy="264.4" r="2.9"/>
<circle class="N" cx="119.8" cy="345.8" r="2.9"/>
<circle class="B" cx="1230.6" cy="455.5" r="2.9"/>
<circle class="N" cx="919.5" cy="197.2" r="2.9"/>
<circle class="N" cx="353.6" cy="137.3" r="2.9"/>
<circle class="P" cx="366.9" cy="321.9" r="2.9"/>
<circle class="N" cx="806.8" cy="187.1" r="2.9"/>
<circle class="B" cx="1831.4" cy="434.0" r="2.9"/>
<circle class="N" cx="1311.7" cy="237.7" r="2.9"/>
<circle class="P" cx="1841.2" cy="449.7" r="2.9"/>
<circle class="P" cx="1286.4" cy="448.8" r="2.9"/>
<circle class="N" cx="2115.6" cy="328.8" r="2.9"/>
<circle class="N" cx="904.1" cy="218.5" r="2.9"/>
<circle class="N" cx="1473.3" cy="395.8" r="2.9"/>
<circle class="N" cx="791.6" cy="133.5" r="2.9"/>
<circle class="N" cx="2023.2" cy="284.4" r="2.9"/>
<circle class="N" cx="288.0" cy="91.1" r="2.9"/>
<circle class="P" cx="1829.2" cy="403.8" r="2.9"/>
<circle class="N" cx="104.8" cy="286.9" r="2.9"/>
<circle class="N" cx="984.1" cy="97.7" r="2.9"/>
<circle class="N" cx="2103.1" cy="314.8" r="2.9"/>
<circle class="A" cx="1796.9" cy="402.2" r="2.9"/>
<circle class="N" cx="1508.5" cy="350.5" r="2.9"/>
<circle class="N" cx="889.2" cy="263.6" r="2.9"/>
<circle class="N" cx="670.1" cy="362.5" r="2.9"/>
<circle class="P" cx="1388.0" cy="414.9" r="2.9"/>
<circle class="N" cx="1405.1" cy="362.7" r="2.9"/>
<circle class="P" cx="251.0" cy="372.6" r="2.9"/>
<circle class="N" cx="299.5" cy="139.1" r="2.9"/>
<circle class="P" cx="258.4" cy="385.9" r="2.9"/>
<circle class="N" cx="625.2" cy="429.2" r="2.9"/>
<circle class="N" cx="1464.6" cy="403.7" r="2.9"/>
<circle class="P" cx="891.3" cy="364.8" r="2.9"/>
<circle class="P" cx="211.6" cy="339.8" r="2.9"/>
<circle class="N" cx="1474.7" cy="339.5" r="2.9"/>
<circle class="N" cx="302.3" cy="106.2" r="2.9"/>
<circle class="N" cx="2159.8" cy="254.8" r="2.9"/>
<circle class="P" cx="136.9" cy="444.6" r="2.9"/>
<circle class="N" cx="180.1" cy="223.3" r="2.9"/>
<circle class="N" cx="266.9" cy="139.7" r="2.9"/>
<circle class="N" cx="1945.2" cy="308.3" r="2.9"/>
<circle class="N" cx="127.9" cy="229.8" r="2.9"/>
<circle class="N" cx="952.0" cy="252.1" r="2.9"/>
<circle class="N" cx="381.6" cy="134.9" r="2.9"/>
<circle class="D" cx="75.6" cy="439.1" r="2.9"/>
<circle class="P" cx="1827.4" cy="460.9" r="2.9"/>
<circle class="N" cx="287.3" cy="99.0" r="2.9"/>
<circle class="P" cx="1800.7" cy="424.8" r="2.9"/>
<circle class="P" cx="1940.0" cy="428.0" r="2.9"/>
<circle class="N" cx="1981.5" cy="349.9" r="2.9"/>
<circle class="N" cx="2002.1" cy="365.2" r="2.9"/>
<circle class="N" cx="1377.1" cy="207.9" r="2.9"/>
<circle class="N" cx="1467.7" cy="404.2" r="2.9"/>
<circle class="N" cx="1375.0" cy="248.8" r="2.9"/>
<circle class="N" cx="771.5" cy="150.0" r="2.9"/>
<circle class="N" cx="926.1" cy="294.5" r="2.9"/>
<circle class="P" cx="655.4" cy="458.5" r="2.9"/>
<circle class="N" cx="1965.4" cy="384.7" r="2.9"/>
<circle class="N" cx="2057.2" cy="246.4" r="2.9"/>
<circle class="N" cx="1515.7" cy="321.9" r="2.9"/>
<circle class="N" cx="914.3" cy="193.0" r="2.9"/>
<circle class="N" cx="1435.9" cy="345.2" r="2.9"/>
<circle class="P" cx="1861.4" cy="405.2" r="2.9"/>
<circle class="N" cx="947.0" cy="191.8" r="2.9"/>
<circle class="N" cx="854.4" cy="251.5" r="2.9"/>
<circle class="A" cx="1240.3" cy="458.9" r="2.9"/>
<circle class="P" cx="162.1" cy="433.3" r="2.9"/>
<circle class="B" cx="646.2" cy="406.1" r="2.9"/>
<circle class="N" cx="2077.5" cy="287.0" r="2.9"/>
<circle class="A" cx="656.5" cy="447.8" r="2.9"/>
<circle class="N" cx="1299.9" cy="221.0" r="2.9"/>
<circle class="N" cx="1304.0" cy="320.9" r="2.9"/>
<circle class="N" cx="209.6" cy="254.7" r="2.9"/>
<circle class="P" cx="802.9" cy="398.3" r="2.9"/>
<circle class="P" cx="1852.0" cy="375.2" r="2.9"/>
<circle class="N" cx="2036.0" cy="276.2" r="2.9"/>
<circle class="N" cx="914.4" cy="204.8" r="2.9"/>
<circle class="N" cx="1239.2" cy="309.3" r="2.9"/>
<circle class="N" cx="1248.3" cy="395.8" r="2.9"/>
<circle class="P" cx="1450.5" cy="429.1" r="2.9"/>
<circle class="A" cx="67.9" cy="431.4" r="2.9"/>
<circle class="P" cx="291.6" cy="295.1" r="2.9"/>
<circle class="P" cx="830.0" cy="364.0" r="2.9"/>
<circle class="N" cx="2032.6" cy="315.8" r="2.9"/>
<circle class="N" cx="956.4" cy="234.0" r="2.9"/>
<circle class="N" cx="850.2" cy="296.5" r="2.9"/>
<circle class="N" cx="2059.3" cy="170.4" r="2.9"/>
<circle class="N" cx="146.9" cy="191.8" r="2.9"/>
<circle class="N" cx="1535.2" cy="318.1" r="2.9"/>
<circle class="P" cx="277.9" cy="320.0" r="2.9"/>
<circle class="N" cx="1491.9" cy="345.3" r="2.9"/>
<circle class="N" cx="1760.3" cy="426.2" r="2.9"/>
<circle class="N" cx="910.4" cy="207.8" r="2.9"/>
<circle class="N" cx="1414.3" cy="273.7" r="2.9"/>
<circle class="N" cx="914.2" cy="117.9" r="2.9"/>
<circle class="N" cx="154.2" cy="219.5" r="2.9"/>
<circle class="B" cx="638.5" cy="411.0" r="2.9"/>
<circle class="N" cx="906.6" cy="231.9" r="2.9"/>
<circle class="N" cx="266.5" cy="136.1" r="2.9"/>
<circle class="N" cx="2011.5" cy="294.5" r="2.9"/>
<circle class="P" cx="402.3" cy="229.4" r="2.9"/>
<circle class="P" cx="1976.8" cy="335.1" r="2.9"/>
<circle class="P" cx="123.7" cy="437.5" r="2.9"/>
<circle class="P" cx="712.5" cy="458.5" r="2.9"/>
<circle class="N" cx="257.5" cy="162.4" r="2.9"/>
<circle class="P" cx="814.3" cy="401.5" r="2.9"/>
<circle class="P" cx="1291.0" cy="423.9" r="2.9"/>
<circle class="N" cx="1989.5" cy="385.6" r="2.9"/>
<circle class="P" cx="786.8" cy="401.6" r="2.9"/>
<circle class="N" cx="782.8" cy="240.2" r="2.9"/>
<circle class="N" cx="1990.8" cy="343.5" r="2.9"/>
<circle class="A" cx="68.7" cy="437.0" r="2.9"/>
<circle class="N" cx="1235.4" cy="349.4" r="2.9"/>
<circle class="B" cx="636.7" cy="415.4" r="2.9"/>
<circle class="P" cx="798.6" cy="382.7" r="2.9"/>
<circle class="N" cx="2044.4" cy="328.6" r="2.9"/>
<circle class="N" cx="919.8" cy="163.9" r="2.9"/>
<circle class="B" cx="1805.2" cy="405.5" r="2.9"/>
<circle class="N" cx="890.1" cy="104.1" r="2.9"/>
<circle class="N" cx="1952.9" cy="306.6" r="2.9"/>
<circle class="P" cx="1450.5" cy="412.6" r="2.9"/>
<circle class="P" cx="1768.6" cy="439.0" r="2.9"/>
<circle class="N" cx="938.4" cy="161.2" r="2.9"/>
<circle class="B" cx="642.4" cy="410.9" r="2.9"/>
<circle class="N" cx="340.2" cy="141.2" r="2.9"/>
<circle class="N" cx="902.0" cy="188.0" r="2.9"/>
<circle class="N" cx="1204.7" cy="383.4" r="2.9"/>
<circle class="P" cx="88.5" cy="451.9" r="2.9"/>
<circle class="N" cx="104.6" cy="309.2" r="2.9"/>
<circle class="N" cx="891.2" cy="132.6" r="2.9"/>
<circle class="A" cx="1237.2" cy="451.6" r="2.9"/>
<circle class="N" cx="305.1" cy="126.3" r="2.9"/>
<circle class="N" cx="850.6" cy="273.9" r="2.9"/>
<circle class="N" cx="1393.2" cy="181.2" r="2.9"/>
<circle class="N" cx="1518.4" cy="338.3" r="2.9"/>
<circle class="N" cx="141.9" cy="194.1" r="2.9"/>
<circle class="N" cx="122.0" cy="314.2" r="2.9"/>
<circle class="N" cx="1362.8" cy="305.6" r="2.9"/>
<circle class="A" cx="1246.2" cy="449.6" r="2.9"/>
<circle class="N" cx="249.5" cy="160.1" r="2.9"/>
<circle class="N" cx="336.5" cy="119.3" r="2.9"/>
<circle class="B" cx="1825.4" cy="439.5" r="2.9"/>
<circle class="N" cx="1420.9" cy="248.6" r="2.9"/>
<circle class="P" cx="1910.3" cy="419.1" r="2.9"/>
<circle class="N" cx="308.6" cy="174.6" r="2.9"/>
<circle class="N" cx="1332.8" cy="284.8" r="2.9"/>
<circle class="N" cx="894.9" cy="243.6" r="2.9"/>
<circle class="N" cx="2141.5" cy="226.7" r="2.9"/>
<circle class="P" cx="1868.0" cy="428.6" r="2.9"/>
<circle class="N" cx="2082.6" cy="197.5" r="2.9"/>
<circle class="N" cx="786.7" cy="153.1" r="2.9"/>
<circle class="B" cx="1788.9" cy="450.8" r="2.9"/>
<circle class="N" cx="179.0" cy="144.5" r="2.9"/>
<circle class="P" cx="1913.3" cy="354.6" r="2.9"/>
<circle class="N" cx="2033.1" cy="254.4" r="2.9"/>
<circle class="N" cx="836.6" cy="202.0" r="2.9"/>
<circle class="N" cx="2129.7" cy="261.2" r="2.9"/>
<circle class="P" cx="260.8" cy="313.0" r="2.9"/>
<circle class="P" cx="1405.0" cy="435.8" r="2.9"/>
<circle class="P" cx="741.5" cy="444.8" r="2.9"/>
<circle class="A" cx="638.6" cy="426.1" r="2.9"/>
<circle class="N" cx="1901.6" cy="421.8" r="2.9"/>
<circle class="N" cx="1534.8" cy="361.3" r="2.9"/>
<circle class="N" cx="97.5" cy="330.5" r="2.9"/>
<circle class="N" cx="136.7" cy="259.7" r="2.9"/>
<circle class="N" cx="179.4" cy="251.3" r="2.9"/>
<circle class="P" cx="133.5" cy="435.7" r="2.9"/>
<circle class="B" cx="1816.5" cy="452.5" r="2.9"/>
<circle class="B" cx="1762.6" cy="398.9" r="2.9"/>
<circle class="N" cx="700.0" cy="297.5" r="2.9"/>
<circle class="A" cx="1236.7" cy="441.3" r="2.9"/>
<circle class="P" cx="808.2" cy="403.5" r="2.9"/>
<circle class="B" cx="83.8" cy="446.1" r="2.9"/>
<circle class="N" cx="401.1" cy="141.1" r="2.9"/>
<circle class="A" cx="1780.7" cy="403.0" r="2.9"/>
<circle class="N" cx="893.6" cy="186.3" r="2.9"/>
<circle class="B" cx="657.4" cy="447.1" r="2.9"/>
<circle class="N" cx="912.6" cy="299.0" r="2.9"/>
<circle class="P" cx="169.6" cy="348.3" r="2.9"/>
<circle class="N" cx="2027.6" cy="117.0" r="2.9"/>
<circle class="N" cx="2099.3" cy="258.4" r="2.9"/>
<circle class="N" cx="2047.8" cy="360.0" r="2.9"/>
<circle class="N" cx="878.9" cy="272.7" r="2.9"/>
<circle class="N" cx="1881.4" cy="325.7" r="2.9"/>
<circle class="N" cx="2059.4" cy="332.9" r="2.9"/>
<circle class="N" cx="2015.7" cy="310.2" r="2.9"/>
<circle class="N" cx="1465.8" cy="342.5" r="2.9"/>
<circle class="N" cx="262.4" cy="161.4" r="2.9"/>
<circle class="B" cx="1805.3" cy="421.8" r="2.9"/>
<circle class="P" cx="226.7" cy="404.0" r="2.9"/>
<circle class="N" cx="2040.7" cy="299.1" r="2.9"/>
<circle class="A" cx="1226.7" cy="441.1" r="2.9"/>
<circle class="N" cx="127.8" cy="240.6" r="2.9"/>
<circle class="N" cx="371.4" cy="162.0" r="2.9"/>
<circle class="P" cx="255.6" cy="369.4" r="2.9"/>
<circle class="A" cx="1215.4" cy="440.6" r="2.9"/>
<circle class="P" cx="1904.2" cy="392.1" r="2.9"/>
<circle class="P" cx="1394.7" cy="453.9" r="2.9"/>
<circle class="A" cx="1257.1" cy="447.3" r="2.9"/>
<circle class="P" cx="1872.4" cy="431.8" r="2.9"/>
<circle class="N" cx="1217.4" cy="386.5" r="2.9"/>
<circle class="A" cx="93.9" cy="448.9" r="2.9"/>
<circle class="N" cx="2025.9" cy="369.0" r="2.9"/>
<circle class="P" cx="135.2" cy="435.9" r="2.9"/>
<circle class="N" cx="227.8" cy="185.8" r="2.9"/>
<circle class="P" cx="1844.0" cy="442.9" r="2.9"/>
<circle class="D" cx="661.9" cy="435.6" r="2.9"/>
<circle class="D" cx="1760.2" cy="400.2" r="2.9"/>
<circle class="N" cx="2074.4" cy="154.4" r="2.9"/>
<circle class="B" cx="629.6" cy="437.2" r="2.9"/>
<circle class="P" cx="784.2" cy="415.0" r="2.9"/>
<circle class="B" cx="1227.8" cy="437.5" r="2.9"/>
<circle class="N" cx="2092.1" cy="245.0" r="2.9"/>
<circle class="N" cx="1466.2" cy="395.4" r="2.9"/>
<circle class="N" cx="1978.4" cy="206.8" r="2.9"/>
<circle class="N" cx="1249.7" cy="397.1" r="2.9"/>
<circle class="N" cx="1956.1" cy="410.2" r="2.9"/>
<circle class="N" cx="1952.2" cy="327.1" r="2.9"/>
<circle class="A" cx="1803.8" cy="415.1" r="2.9"/>
<circle class="N" cx="355.9" cy="112.6" r="2.9"/>
<circle class="P" cx="1442.5" cy="428.7" r="2.9"/>
<circle class="N" cx="294.8" cy="137.2" r="2.9"/>
<circle class="B" cx="105.2" cy="460.1" r="2.9"/>
<circle class="N" cx="872.5" cy="290.0" r="2.9"/>
<circle class="B" cx="649.6" cy="428.3" r="2.9"/>
<circle class="N" cx="998.6" cy="245.3" r="2.9"/>
<circle class="N" cx="82.2" cy="316.1" r="2.9"/>
<circle class="N" cx="979.1" cy="196.4" r="2.9"/>
<circle class="N" cx="1379.2" cy="261.3" r="2.9"/>
<circle class="N" cx="1322.0" cy="224.0" r="2.9"/>
<circle class="P" cx="120.0" cy="437.6" r="2.9"/>
<circle class="N" cx="954.0" cy="239.0" r="2.9"/>
<circle class="P" cx="1897.0" cy="391.9" r="2.9"/>
<circle class="P" cx="853.2" cy="333.7" r="2.9"/>
<circle class="B" cx="1837.6" cy="422.9" r="2.9"/>
<circle class="P" cx="289.3" cy="295.5" r="2.9"/>
<circle class="P" cx="771.3" cy="427.2" r="2.9"/>
<circle class="N" cx="2014.4" cy="397.7" r="2.9"/>
<circle class="N" cx="796.8" cy="88.0" r="2.9"/>
<circle class="N" cx="1506.9" cy="386.0" r="2.9"/>
<circle class="N" cx="1936.4" cy="400.1" r="2.9"/>
<circle class="N" cx="307.1" cy="239.2" r="2.9"/>
<circle class="N" cx="994.6" cy="215.3" r="2.9"/>
<circle class="N" cx="1370.8" cy="318.6" r="2.9"/>
<circle class="P" cx="85.6" cy="444.3" r="2.9"/>
<circle class="N" cx="1513.8" cy="344.1" r="2.9"/>
<circle class="N" cx="2105.0" cy="195.0" r="2.9"/>
<circle class="N" cx="1311.0" cy="232.2" r="2.9"/>
<circle class="B" cx="678.2" cy="438.3" r="2.9"/>
<circle class="N" cx="195.2" cy="278.5" r="2.9"/>
<circle class="N" cx="2014.9" cy="407.8" r="2.9"/>
<circle class="N" cx="1454.4" cy="367.6" r="2.9"/>
<circle class="N" cx="98.4" cy="392.8" r="2.9"/>
<circle class="N" cx="896.4" cy="149.8" r="2.9"/>
<circle class="N" cx="1242.1" cy="361.9" r="2.9"/>
<circle class="P" cx="1435.4" cy="452.5" r="2.9"/>
<circle class="P" cx="308.3" cy="309.9" r="2.9"/>
<circle class="N" cx="1543.5" cy="365.3" r="2.9"/>
<circle class="P" cx="792.4" cy="414.8" r="2.9"/>
<circle class="N" cx="939.0" cy="170.6" r="2.9"/>
<circle class="N" cx="1981.6" cy="374.1" r="2.9"/>
<circle class="N" cx="1509.3" cy="359.9" r="2.9"/>
<circle class="N" cx="1280.9" cy="274.3" r="2.9"/>
<circle class="N" cx="241.1" cy="182.5" r="2.9"/>
<circle class="N" cx="1364.7" cy="252.0" r="2.9"/>
<circle class="N" cx="893.7" cy="202.3" r="2.9"/>
<circle class="N" cx="161.4" cy="205.0" r="2.9"/>
<circle class="B" cx="1233.3" cy="437.0" r="2.9"/>
<circle class="N" cx="939.3" cy="201.9" r="2.9"/>
<circle class="P" cx="303.8" cy="317.8" r="2.9"/>
<circle class="P" cx="167.5" cy="414.5" r="2.9"/>
<circle class="N" cx="2040.8" cy="280.6" r="2.9"/>
<circle class="N" cx="1998.0" cy="266.5" r="2.9"/>
<circle class="N" cx="1404.1" cy="219.1" r="2.9"/>
<circle class="N" cx="1960.4" cy="290.2" r="2.9"/>
<circle class="P" cx="1368.9" cy="458.8" r="2.9"/>
<circle class="P" cx="1849.8" cy="398.5" r="2.9"/>
<circle class="N" cx="1299.8" cy="224.1" r="2.9"/>
<circle class="N" cx="2097.0" cy="218.3" r="2.9"/>
<circle class="N" cx="130.0" cy="299.1" r="2.9"/>
<circle class="N" cx="888.6" cy="167.7" r="2.9"/>
<circle class="N" cx="2000.6" cy="355.7" r="2.9"/>
<circle class="P" cx="759.1" cy="428.4" r="2.9"/>
<circle class="N" cx="915.6" cy="227.7" r="2.9"/>
<circle class="N" cx="332.0" cy="92.8" r="2.9"/>
<circle class="P" cx="861.4" cy="331.7" r="2.9"/>
<circle class="P" cx="1323.5" cy="448.8" r="2.9"/>
<circle class="P" cx="1391.8" cy="433.8" r="2.9"/>
<circle class="N" cx="1430.7" cy="379.2" r="2.9"/>
<circle class="P" cx="1946.6" cy="363.3" r="2.9"/>
<circle class="P" cx="813.7" cy="398.7" r="2.9"/>
<circle class="P" cx="794.2" cy="406.2" r="2.9"/>
<circle class="N" cx="108.7" cy="309.5" r="2.9"/>
<circle class="N" cx="1407.6" cy="247.2" r="2.9"/>
<circle class="N" cx="69.2" cy="400.2" r="2.9"/>
<circle class="N" cx="915.7" cy="291.6" r="2.9"/>
<circle class="P" cx="1364.8" cy="413.2" r="2.9"/>
<circle class="N" cx="1468.3" cy="399.9" r="2.9"/>
<circle class="N" cx="894.9" cy="208.0" r="2.9"/>
<circle class="P" cx="282.8" cy="200.3" r="2.9"/>
<circle class="N" cx="936.0" cy="182.6" r="2.9"/>
<circle class="A" cx="1222.3" cy="450.0" r="2.9"/>
<circle class="N" cx="930.4" cy="162.2" r="2.9"/>
<circle class="N" cx="1793.1" cy="448.4" r="2.9"/>
<circle class="P" cx="1897.9" cy="348.8" r="2.9"/>
<circle class="N" cx="1436.3" cy="360.1" r="2.9"/>
<circle class="N" cx="213.3" cy="250.7" r="2.9"/>
<circle class="P" cx="1863.1" cy="419.5" r="2.9"/>
<circle class="N" cx="397.1" cy="235.1" r="2.9"/>
<circle class="D" cx="1808.9" cy="454.9" r="2.9"/>
<circle class="P" cx="148.1" cy="438.6" r="2.9"/>
<circle class="N" cx="1410.7" cy="181.3" r="2.9"/>
<circle class="P" cx="1444.0" cy="443.3" r="2.9"/>
<circle class="N" cx="291.8" cy="164.7" r="2.9"/>
<circle class="B" cx="98.9" cy="437.6" r="2.9"/>
<circle class="N" cx="282.2" cy="159.1" r="2.9"/>
<circle class="N" cx="132.9" cy="248.7" r="2.9"/>
<circle class="N" cx="2077.5" cy="246.9" r="2.9"/>
<circle class="N" cx="1016.6" cy="184.9" r="2.9"/>
<circle class="N" cx="1544.0" cy="311.9" r="2.9"/>
<circle class="N" cx="922.4" cy="196.5" r="2.9"/>
<circle class="N" cx="2074.6" cy="286.7" r="2.9"/>
<circle class="N" cx="2116.8" cy="262.3" r="2.9"/>
<circle class="A" cx="648.9" cy="423.9" r="2.9"/>
<circle class="N" cx="988.6" cy="173.1" r="2.9"/>
<circle class="N" cx="962.7" cy="159.6" r="2.9"/>
<circle class="N" cx="2086.8" cy="192.5" r="2.9"/>
<circle class="N" cx="1348.2" cy="312.1" r="2.9"/>
<circle class="P" cx="1847.9" cy="426.0" r="2.9"/>
<circle class="P" cx="1951.2" cy="342.1" r="2.9"/>
<circle class="P" cx="236.9" cy="373.6" r="2.9"/>
<circle class="P" cx="116.1" cy="458.3" r="2.9"/>
<circle class="N" cx="963.3" cy="240.6" r="2.9"/>
<circle class="N" cx="1489.6" cy="319.6" r="2.9"/>
<circle class="N" cx="1455.2" cy="381.2" r="2.9"/>
<circle class="P" cx="737.7" cy="437.2" r="2.9"/>
<circle class="P" cx="210.7" cy="361.6" r="2.9"/>
<circle class="P" cx="91.5" cy="435.3" r="2.9"/>
<circle class="P" cx="171.6" cy="374.2" r="2.9"/>
<circle class="P" cx="1283.1" cy="458.3" r="2.9"/>
<circle class="N" cx="151.7" cy="190.0" r="2.9"/>
<circle class="N" cx="1251.6" cy="410.2" r="2.9"/>
<circle class="N" cx="2094.8" cy="281.6" r="2.9"/>
<circle class="N" cx="359.8" cy="137.4" r="2.9"/>
<circle class="P" cx="365.5" cy="299.9" r="2.9"/>
<circle class="N" cx="263.5" cy="147.8" r="2.9"/>
<circle class="N" cx="720.1" cy="198.2" r="2.9"/>
<circle class="N" cx="929.7" cy="174.9" r="2.9"/>
<circle class="N" cx="2117.3" cy="189.8" r="2.9"/>
<circle class="N" cx="685.2" cy="378.5" r="2.9"/>
<circle class="N" cx="971.3" cy="237.6" r="2.9"/>
<circle class="P" cx="1867.7" cy="451.2" r="2.9"/>
<circle class="N" cx="377.3" cy="187.3" r="2.9"/>
<circle class="N" cx="287.7" cy="168.3" r="2.9"/>
<circle class="N" cx="338.3" cy="205.5" r="2.9"/>
<circle class="P" cx="1286.0" cy="444.3" r="2.9"/>
<circle class="P" cx="1895.5" cy="422.0" r="2.9"/>
<circle class="N" cx="1245.2" cy="348.8" r="2.9"/>
<circle class="N" cx="1494.8" cy="340.3" r="2.9"/>
<circle class="N" cx="897.5" cy="139.5" r="2.9"/>
<circle class="P" cx="783.0" cy="434.5" r="2.9"/>
<circle class="N" cx="1252.1" cy="368.9" r="2.9"/>
<circle class="B" cx="663.2" cy="420.4" r="2.9"/>
<circle class="P" cx="715.3" cy="439.3" r="2.9"/>
<circle class="N" cx="1466.5" cy="272.5" r="2.9"/>
<circle class="P" cx="847.8" cy="300.9" r="2.9"/>
<circle class="N" cx="234.7" cy="122.0" r="2.9"/>
<circle class="B" cx="669.3" cy="442.9" r="2.9"/>
<circle class="N" cx="663.1" cy="341.2" r="2.9"/>
<circle class="P" cx="343.1" cy="318.9" r="2.9"/>
<circle class="P" cx="1965.2" cy="380.6" r="2.9"/>
<circle class="P" cx="144.3" cy="417.2" r="2.9"/>
<circle class="N" cx="2062.9" cy="341.1" r="2.9"/>
<circle class="N" cx="1298.3" cy="310.4" r="2.9"/>
<circle class="A" cx="1259.9" cy="452.8" r="2.9"/>
<circle class="N" cx="2092.7" cy="344.7" r="2.9"/>
<circle class="D" cx="636.5" cy="427.7" r="2.9"/>
<circle class="P" cx="1410.9" cy="431.8" r="2.9"/>
<circle class="B" cx="67.8" cy="447.2" r="2.9"/>
<circle class="P" cx="1377.7" cy="420.2" r="2.9"/>
<circle class="N" cx="153.3" cy="224.2" r="2.9"/>
<circle class="N" cx="1240.8" cy="328.2" r="2.9"/>
<circle class="N" cx="1491.5" cy="353.7" r="2.9"/>
<circle class="P" cx="1452.5" cy="408.6" r="2.9"/>
<circle class="B" cx="1756.6" cy="398.7" r="2.9"/>
<circle class="N" cx="317.0" cy="95.4" r="2.9"/>
<circle class="N" cx="650.8" cy="363.4" r="2.9"/>
<circle class="N" cx="342.3" cy="195.3" r="2.9"/>
<circle class="N" cx="863.1" cy="321.1" r="2.9"/>
<circle class="N" cx="1258.2" cy="387.3" r="2.9"/>
<circle class="A" cx="1794.6" cy="405.2" r="2.9"/>
<circle class="N" cx="869.8" cy="173.7" r="2.9"/>
<circle class="N" cx="1268.9" cy="331.5" r="2.9"/>
<circle class="N" cx="377.5" cy="157.3" r="2.9"/>
<circle class="P" cx="147.0" cy="446.0" r="2.9"/>
<circle class="N" cx="1479.4" cy="368.1" r="2.9"/>
<circle class="P" cx="1286.3" cy="449.5" r="2.9"/>
<circle class="P" cx="1297.5" cy="448.5" r="2.9"/>
<circle class="N" cx="2048.8" cy="298.8" r="2.9"/>
<circle class="P" cx="749.7" cy="457.8" r="2.9"/>
<circle class="N" cx="2122.2" cy="227.2" r="2.9"/>
<circle class="A" cx="1226.1" cy="453.2" r="2.9"/>
<circle class="N" cx="1985.6" cy="392.0" r="2.9"/>
<circle class="N" cx="816.1" cy="246.6" r="2.9"/>
<circle class="P" cx="237.3" cy="316.6" r="2.9"/>
<circle class="N" cx="926.2" cy="254.1" r="2.9"/>
<circle class="P" cx="1863.4" cy="446.5" r="2.9"/>
<circle class="N" cx="1277.6" cy="291.4" r="2.9"/>
<circle class="N" cx="877.9" cy="214.9" r="2.9"/>
<circle class="N" cx="289.1" cy="251.8" r="2.9"/>
<circle class="P" cx="1865.5" cy="429.7" r="2.9"/>
<circle class="P" cx="778.3" cy="441.9" r="2.9"/>
<circle class="N" cx="2145.3" cy="242.3" r="2.9"/>
<circle class="N" cx="1372.1" cy="241.0" r="2.9"/>
<circle class="N" cx="986.4" cy="212.1" r="2.9"/>
<circle class="N" cx="1389.3" cy="175.2" r="2.9"/>
<circle class="P" cx="818.5" cy="416.0" r="2.9"/>
<circle class="N" cx="696.0" cy="252.9" r="2.9"/>
<circle class="N" cx="920.2" cy="251.6" r="2.9"/>
<circle class="N" cx="305.7" cy="101.7" r="2.9"/>
<circle class="P" cx="157.2" cy="413.6" r="2.9"/>
<circle class="N" cx="1514.4" cy="328.2" r="2.9"/>
<circle class="N" cx="1970.4" cy="252.8" r="2.9"/>
<circle class="P" cx="1865.4" cy="409.2" r="2.9"/>
<circle class="N" cx="935.5" cy="196.6" r="2.9"/>
<circle class="N" cx="1518.5" cy="357.3" r="2.9"/>
<circle class="N" cx="770.4" cy="200.5" r="2.9"/>
<circle class="P" cx="203.5" cy="409.8" r="2.9"/>
<circle class="N" cx="304.8" cy="138.4" r="2.9"/>
<circle class="N" cx="2100.5" cy="253.3" r="2.9"/>
<circle class="P" cx="731.7" cy="410.7" r="2.9"/>
<circle class="N" cx="140.0" cy="270.5" r="2.9"/>
<circle class="P" cx="1878.7" cy="450.6" r="2.9"/>
<circle class="B" cx="81.8" cy="435.7" r="2.9"/>
<circle class="N" cx="848.6" cy="213.1" r="2.9"/>
<circle class="N" cx="131.7" cy="218.1" r="2.9"/>
<circle class="P" cx="1337.4" cy="452.6" r="2.9"/>
<circle class="N" cx="649.3" cy="360.8" r="2.9"/>
<circle class="P" cx="1918.2" cy="343.8" r="2.9"/>
<circle class="P" cx="797.4" cy="397.3" r="2.9"/>
<circle class="P" cx="1880.4" cy="407.0" r="2.9"/>
<circle class="N" cx="2026.3" cy="333.1" r="2.9"/>
<circle class="P" cx="125.1" cy="448.7" r="2.9"/>
<circle class="N" cx="216.9" cy="173.1" r="2.9"/>
<circle class="P" cx="1310.5" cy="425.7" r="2.9"/>
<circle class="P" cx="844.4" cy="387.8" r="2.9"/>
<circle class="N" cx="1924.9" cy="426.8" r="2.9"/>
<circle class="N" cx="2078.0" cy="238.5" r="2.9"/>
<circle class="P" cx="352.9" cy="330.7" r="2.9"/>
<circle class="N" cx="78.0" cy="374.7" r="2.9"/>
<circle class="P" cx="1952.5" cy="330.6" r="2.9"/>
<circle class="N" cx="367.4" cy="136.9" r="2.9"/>
<circle class="N" cx="1271.5" cy="300.4" r="2.9"/>
<circle class="N" cx="2006.5" cy="277.5" r="2.9"/>
<circle class="N" cx="902.4" cy="189.6" r="2.9"/>
<circle class="P" cx="1971.9" cy="342.3" r="2.9"/>
<circle class="N" cx="1983.2" cy="345.6" r="2.9"/>
<circle class="P" cx="825.3" cy="384.0" r="2.9"/>
<circle class="N" cx="279.8" cy="127.7" r="2.9"/>
<circle class="N" cx="1452.4" cy="386.8" r="2.9"/>
<circle class="N" cx="1475.4" cy="328.0" r="2.9"/>
<circle class="P" cx="1297.6" cy="422.5" r="2.9"/>
<circle class="N" cx="934.5" cy="205.0" r="2.9"/>
<circle class="N" cx="139.8" cy="208.1" r="2.9"/>
<circle class="A" cx="1819.2" cy="458.9" r="2.9"/>
<circle class="N" cx="1472.4" cy="361.7" r="2.9"/>
<circle class="N" cx="1217.9" cy="385.5" r="2.9"/>
<circle class="N" cx="2040.1" cy="260.1" r="2.9"/>
<circle class="N" cx="2000.7" cy="394.8" r="2.9"/>
<circle class="P" cx="1883.2" cy="398.4" r="2.9"/>
<circle class="P" cx="1448.2" cy="432.5" r="2.9"/>
<circle class="P" cx="1879.8" cy="442.5" r="2.9"/>
<circle class="N" cx="1982.2" cy="325.3" r="2.9"/>
<circle class="N" cx="914.3" cy="245.3" r="2.9"/>
<circle class="P" cx="1915.0" cy="452.0" r="2.9"/>
<circle class="P" cx="251.7" cy="316.0" r="2.9"/>
<circle class="P" cx="772.4" cy="442.5" r="2.9"/>
<circle class="N" cx="829.5" cy="257.7" r="2.9"/>
<circle class="P" cx="392.5" cy="273.1" r="2.9"/>
<circle class="N" cx="310.0" cy="242.7" r="2.9"/>
<circle class="N" cx="1523.1" cy="372.8" r="2.9"/>
<circle class="N" cx="400.7" cy="158.9" r="2.9"/>
<circle class="P" cx="1905.7" cy="359.8" r="2.9"/>
<circle class="N" cx="328.3" cy="117.0" r="2.9"/>
<circle class="N" cx="1984.4" cy="350.4" r="2.9"/>
<circle class="N" cx="240.5" cy="210.7" r="2.9"/>
<circle class="D" cx="1828.8" cy="460.7" r="2.9"/>
<circle class="B" cx="60.1" cy="438.2" r="2.9"/>
<circle class="N" cx="1456.0" cy="345.4" r="2.9"/>
<circle class="N" cx="324.5" cy="155.5" r="2.9"/>
<circle class="N" cx="879.7" cy="231.2" r="2.9"/>
<circle class="P" cx="839.9" cy="374.1" r="2.9"/>
<circle class="N" cx="1522.0" cy="387.7" r="2.9"/>
<circle class="P" cx="253.0" cy="332.5" r="2.9"/>
<circle class="N" cx="2044.4" cy="236.6" r="2.9"/>
<circle class="P" cx="839.7" cy="366.7" r="2.9"/>
<circle class="N" cx="856.4" cy="257.1" r="2.9"/>
<circle class="P" cx="1839.4" cy="451.9" r="2.9"/>
<circle class="P" cx="1863.4" cy="384.9" r="2.9"/>
<circle class="B" cx="1793.4" cy="455.3" r="2.9"/>
<circle class="P" cx="402.4" cy="276.5" r="2.9"/>
<circle class="N" cx="1470.9" cy="418.1" r="2.9"/>
<circle class="P" cx="1347.7" cy="415.3" r="2.9"/>
<circle class="N" cx="1415.2" cy="224.9" r="2.9"/>
<circle class="N" cx="1959.9" cy="373.5" r="2.9"/>
<circle class="N" cx="933.8" cy="205.9" r="2.9"/>
<circle class="N" cx="761.6" cy="142.8" r="2.9"/>
<circle class="N" cx="1477.5" cy="372.7" r="2.9"/>
<circle class="N" cx="1538.5" cy="355.7" r="2.9"/>
<circle class="N" cx="343.8" cy="126.9" r="2.9"/>
<circle class="D" cx="73.9" cy="448.2" r="2.9"/>
<circle class="N" cx="2075.2" cy="302.7" r="2.9"/>
<circle class="P" cx="793.5" cy="386.0" r="2.9"/>
<circle class="A" cx="99.4" cy="438.8" r="2.9"/>
<circle class="P" cx="196.2" cy="407.1" r="2.9"/>
<circle class="P" cx="310.8" cy="238.7" r="2.9"/>
<circle class="P" cx="1864.1" cy="423.5" r="2.9"/>
<circle class="N" cx="1419.0" cy="368.7" r="2.9"/>
<circle class="N" cx="104.7" cy="370.9" r="2.9"/>
<circle class="P" cx="1889.5" cy="395.6" r="2.9"/>
<circle class="P" cx="1317.3" cy="429.2" r="2.9"/>
<circle class="N" cx="2064.9" cy="164.3" r="2.9"/>
<circle class="N" cx="660.7" cy="369.8" r="2.9"/>
<circle class="P" cx="835.4" cy="400.0" r="2.9"/>
<circle class="P" cx="315.1" cy="174.7" r="2.9"/>
<circle class="A" cx="1835.4" cy="419.3" r="2.9"/>
<circle class="N" cx="948.1" cy="160.2" r="2.9"/>
<circle class="N" cx="1999.5" cy="286.3" r="2.9"/>
<circle class="P" cx="1449.2" cy="427.5" r="2.9"/>
<circle class="N" cx="1214.1" cy="349.2" r="2.9"/>
<circle class="P" cx="1863.9" cy="419.5" r="2.9"/>
<circle class="P" cx="831.9" cy="355.7" r="2.9"/>
<circle class="A" cx="1772.8" cy="393.5" r="2.9"/>
<circle class="P" cx="275.5" cy="294.9" r="2.9"/>
<circle class="P" cx="351.0" cy="283.3" r="2.9"/>
<circle class="N" cx="251.7" cy="254.0" r="2.9"/>
<circle class="N" cx="368.7" cy="232.8" r="2.9"/>
<circle class="P" cx="1847.7" cy="403.4" r="2.9"/>
<circle class="N" cx="954.6" cy="198.6" r="2.9"/>
<circle class="N" cx="335.5" cy="114.8" r="2.9"/>
<circle class="P" cx="144.8" cy="438.1" r="2.9"/>
<circle class="P" cx="1938.8" cy="344.0" r="2.9"/>
<circle class="N" cx="367.0" cy="139.9" r="2.9"/>
<circle class="N" cx="1464.3" cy="383.2" r="2.9"/>
<circle class="N" cx="940.5" cy="173.7" r="2.9"/>
<circle class="P" cx="246.1" cy="372.2" r="2.9"/>
<circle class="N" cx="390.2" cy="193.1" r="2.9"/>
<circle class="N" cx="340.0" cy="117.6" r="2.9"/>
<circle class="N" cx="878.9" cy="178.4" r="2.9"/>
<circle class="N" cx="961.1" cy="245.0" r="2.9"/>
<circle class="N" cx="1230.7" cy="394.8" r="2.9"/>
<circle class="P" cx="256.3" cy="315.4" r="2.9"/>
<circle class="P" cx="804.6" cy="429.3" r="2.9"/>
<circle class="N" cx="840.5" cy="212.6" r="2.9"/>
<circle class="N" cx="1415.6" cy="174.0" r="2.9"/>
<circle class="N" cx="376.2" cy="114.1" r="2.9"/>
<circle class="N" cx="2024.1" cy="251.8" r="2.9"/>
<circle class="P" cx="1885.1" cy="406.1" r="2.9"/>
<circle class="N" cx="338.0" cy="124.9" r="2.9"/>
<circle class="N" cx="940.7" cy="233.4" r="2.9"/>
<circle class="B" cx="664.6" cy="427.7" r="2.9"/>
<circle class="N" cx="2043.2" cy="144.0" r="2.9"/>
<circle class="B" cx="1224.1" cy="449.8" r="2.9"/>
<circle class="N" cx="1247.7" cy="392.1" r="2.9"/>
<circle class="A" cx="1821.3" cy="401.0" r="2.9"/>
<circle class="N" cx="1999.8" cy="292.9" r="2.9"/>
<circle class="N" cx="276.8" cy="160.0" r="2.9"/>
<circle class="N" cx="1997.0" cy="289.3" r="2.9"/>
<circle class="N" cx="75.8" cy="400.7" r="2.9"/>
<circle class="N" cx="2023.2" cy="270.7" r="2.9"/>
<circle class="N" cx="1317.4" cy="296.3" r="2.9"/>
<circle class="N" cx="870.8" cy="162.6" r="2.9"/>
<circle class="P" cx="349.2" cy="295.0" r="2.9"/>
<circle class="P" cx="1834.8" cy="444.2" r="2.9"/>
<circle class="N" cx="2033.2" cy="380.7" r="2.9"/>
<circle class="N" cx="1194.7" cy="391.9" r="2.9"/>
<circle class="P" cx="254.8" cy="200.1" r="2.9"/>
<circle class="P" cx="104.8" cy="436.5" r="2.9"/>
<circle class="N" cx="1444.8" cy="269.8" r="2.9"/>
<circle class="P" cx="1960.6" cy="370.3" r="2.9"/>
<circle class="A" cx="1247.7" cy="456.3" r="2.9"/>
<circle class="P" cx="1409.6" cy="441.1" r="2.9"/>
<circle class="N" cx="164.4" cy="291.4" r="2.9"/>
<circle class="N" cx="1418.8" cy="180.0" r="2.9"/>
<circle class="N" cx="1460.3" cy="360.6" r="2.9"/>
<circle class="N" cx="971.1" cy="128.7" r="2.9"/>
<circle class="N" cx="960.9" cy="122.6" r="2.9"/>
<circle class="N" cx="658.5" cy="368.9" r="2.9"/>
<circle class="N" cx="2122.0" cy="210.0" r="2.9"/>
<circle class="D" cx="661.4" cy="404.5" r="2.9"/>
<circle class="N" cx="1971.4" cy="391.5" r="2.9"/>
<circle class="N" cx="2007.2" cy="302.3" r="2.9"/>
<circle class="N" cx="1439.6" cy="422.6" r="2.9"/>
<circle class="N" cx="1357.5" cy="261.8" r="2.9"/>
<circle class="N" cx="282.7" cy="133.5" r="2.9"/>
<circle class="N" cx="1486.0" cy="389.0" r="2.9"/>
<circle class="N" cx="2085.5" cy="288.5" r="2.9"/>
<circle class="P" cx="277.1" cy="282.7" r="2.9"/>
<circle class="N" cx="807.0" cy="175.0" r="2.9"/>
<circle class="N" cx="1254.8" cy="356.7" r="2.9"/>
<circle class="N" cx="1993.6" cy="341.2" r="2.9"/>
<circle class="A" cx="1267.7" cy="459.0" r="2.9"/>
<circle class="N" cx="296.4" cy="172.6" r="2.9"/>
<circle class="D" cx="1824.4" cy="451.8" r="2.9"/>
<circle class="N" cx="1523.6" cy="372.6" r="2.9"/>
<circle class="N" cx="2124.2" cy="148.8" r="2.9"/>
<circle class="N" cx="2105.7" cy="206.7" r="2.9"/>
<circle class="N" cx="315.6" cy="127.8" r="2.9"/>
<circle class="N" cx="2061.0" cy="291.7" r="2.9"/>
<circle class="N" cx="817.5" cy="231.1" r="2.9"/>
<circle class="N" cx="874.7" cy="263.9" r="2.9"/>
<circle class="N" cx="962.1" cy="217.5" r="2.9"/>
<circle class="P" cx="104.5" cy="451.5" r="2.9"/>
<circle class="N" cx="1515.8" cy="327.0" r="2.9"/>
<circle class="N" cx="809.4" cy="146.9" r="2.9"/>
<circle class="D" cx="101.5" cy="442.9" r="2.9"/>
<circle class="N" cx="162.3" cy="155.4" r="2.9"/>
<circle class="N" cx="1463.0" cy="372.8" r="2.9"/>
<circle class="P" cx="765.3" cy="396.9" r="2.9"/>
<circle class="N" cx="854.0" cy="91.1" r="2.9"/>
<circle class="N" cx="2001.2" cy="352.4" r="2.9"/>
<circle class="N" cx="380.7" cy="104.0" r="2.9"/>
<circle class="N" cx="1200.5" cy="339.2" r="2.9"/>
<circle class="N" cx="1990.7" cy="369.4" r="2.9"/>
<circle class="P" cx="246.2" cy="339.5" r="2.9"/>
<circle class="P" cx="831.4" cy="351.5" r="2.9"/>
<circle class="N" cx="2100.6" cy="258.8" r="2.9"/>
<circle class="N" cx="156.0" cy="191.0" r="2.9"/>
<circle class="N" cx="1972.5" cy="399.2" r="2.9"/>
<circle class="P" cx="1268.4" cy="449.6" r="2.9"/>
<circle class="N" cx="1463.3" cy="316.0" r="2.9"/>
<circle class="N" cx="2078.7" cy="345.9" r="2.9"/>
<circle class="P" cx="291.1" cy="301.2" r="2.9"/>
<circle class="A" cx="64.6" cy="455.0" r="2.9"/>
<circle class="N" cx="894.2" cy="194.7" r="2.9"/>
<circle class="D" cx="1756.8" cy="404.5" r="2.9"/>
<circle class="N" cx="1521.1" cy="373.6" r="2.9"/>
<circle class="N" cx="329.7" cy="139.5" r="2.9"/>
<circle class="N" cx="2038.4" cy="282.2" r="2.9"/>
<circle class="P" cx="1409.4" cy="443.7" r="2.9"/>
<circle class="N" cx="1517.4" cy="318.1" r="2.9"/>
<circle class="N" cx="888.5" cy="205.0" r="2.9"/>
<circle class="N" cx="906.8" cy="164.8" r="2.9"/>
<circle class="N" cx="2054.7" cy="326.7" r="2.9"/>
<circle class="P" cx="1279.7" cy="444.8" r="2.9"/>
<circle class="N" cx="1462.3" cy="357.8" r="2.9"/>
<circle class="N" cx="1354.8" cy="274.8" r="2.9"/>
<circle class="P" cx="196.4" cy="410.5" r="2.9"/>
<circle class="N" cx="2046.6" cy="281.5" r="2.9"/>
<circle class="P" cx="214.1" cy="348.6" r="2.9"/>
<circle class="B" cx="685.9" cy="455.2" r="2.9"/>
<circle class="N" cx="917.6" cy="138.0" r="2.9"/>
<circle class="P" cx="764.3" cy="410.1" r="2.9"/>
<circle class="P" cx="1861.1" cy="413.0" r="2.9"/>
<circle class="P" cx="102.3" cy="439.5" r="2.9"/>
<circle class="N" cx="2124.6" cy="190.6" r="2.9"/>
<circle class="N" cx="2020.0" cy="373.5" r="2.9"/>
<circle class="A" cx="651.7" cy="407.5" r="2.9"/>
<circle class="N" cx="948.9" cy="191.5" r="2.9"/>
<circle class="N" cx="925.1" cy="241.5" r="2.9"/>
<circle class="N" cx="919.4" cy="212.9" r="2.9"/>
<circle class="P" cx="175.2" cy="407.7" r="2.9"/>
<circle class="N" cx="1331.2" cy="293.9" r="2.9"/>
<circle class="N" cx="1539.9" cy="294.3" r="2.9"/>
<circle class="N" cx="319.9" cy="138.5" r="2.9"/>
<circle class="N" cx="395.9" cy="295.6" r="2.9"/>
<circle class="P" cx="161.3" cy="448.6" r="2.9"/>
<circle class="N" cx="2103.8" cy="159.5" r="2.9"/>
<circle class="N" cx="2004.6" cy="273.5" r="2.9"/>
<circle class="N" cx="1566.7" cy="331.3" r="2.9"/>
<circle class="D" cx="1203.5" cy="459.4" r="2.9"/>
<circle class="N" cx="2100.0" cy="302.1" r="2.9"/>
<circle class="N" cx="2033.1" cy="239.9" r="2.9"/>
<circle class="B" cx="685.2" cy="440.8" r="2.9"/>
<circle class="P" cx="764.4" cy="420.6" r="2.9"/>
<circle class="N" cx="137.7" cy="220.5" r="2.9"/>
<circle class="P" cx="773.5" cy="428.9" r="2.9"/>
<circle class="P" cx="831.9" cy="362.9" r="2.9"/>
<circle class="N" cx="742.7" cy="187.4" r="2.9"/>
<circle class="N" cx="1945.6" cy="339.0" r="2.9"/>
<circle class="N" cx="315.3" cy="165.8" r="2.9"/>
<circle class="N" cx="1840.9" cy="415.5" r="2.9"/>
<circle class="N" cx="174.8" cy="153.6" r="2.9"/>
<circle class="P" cx="1440.4" cy="426.4" r="2.9"/>
<circle class="N" cx="346.7" cy="104.2" r="2.9"/>
<circle class="P" cx="1839.3" cy="448.1" r="2.9"/>
<circle class="N" cx="971.3" cy="214.5" r="2.9"/>
<circle class="N" cx="2028.6" cy="291.6" r="2.9"/>
<circle class="N" cx="885.7" cy="191.7" r="2.9"/>
<circle class="N" cx="319.0" cy="153.4" r="2.9"/>
<circle class="N" cx="2066.5" cy="251.3" r="2.9"/>
<circle class="N" cx="283.0" cy="128.4" r="2.9"/>
<circle class="N" cx="1336.0" cy="377.1" r="2.9"/>
<circle class="N" cx="1281.9" cy="253.6" r="2.9"/>
<circle class="N" cx="876.9" cy="167.2" r="2.9"/>
<circle class="B" cx="686.2" cy="449.8" r="2.9"/>
<circle class="P" cx="625.4" cy="458.5" r="2.9"/>
<circle class="N" cx="274.5" cy="125.0" r="2.9"/>
<circle class="P" cx="314.9" cy="345.4" r="2.9"/>
<circle class="D" cx="1197.0" cy="450.7" r="2.9"/>
<circle class="N" cx="667.6" cy="335.3" r="2.9"/>
<circle class="N" cx="1933.0" cy="396.7" r="2.9"/>
<circle class="N" cx="897.1" cy="70.9" r="2.9"/>
<circle class="N" cx="181.7" cy="144.7" r="2.9"/>
<circle class="N" cx="385.4" cy="149.2" r="2.9"/>
<circle class="N" cx="1524.4" cy="350.0" r="2.9"/>
<circle class="D" cx="1825.6" cy="393.8" r="2.9"/>
<circle class="N" cx="1488.0" cy="329.8" r="2.9"/>
<circle class="P" cx="141.7" cy="445.6" r="2.9"/>
<circle class="N" cx="868.4" cy="151.1" r="2.9"/>
<circle class="A" cx="1266.4" cy="450.9" r="2.9"/>
<circle class="N" cx="2073.3" cy="194.9" r="2.9"/>
<circle class="P" cx="1356.2" cy="452.2" r="2.9"/>
<circle class="P" cx="802.3" cy="375.6" r="2.9"/>
<circle class="P" cx="1946.0" cy="384.6" r="2.9"/>
<circle class="N" cx="393.4" cy="174.2" r="2.9"/>
<circle class="N" cx="392.9" cy="117.8" r="2.9"/>
<circle class="N" cx="804.2" cy="234.5" r="2.9"/>
<circle class="N" cx="357.4" cy="125.2" r="2.9"/>
<circle class="N" cx="99.5" cy="285.5" r="2.9"/>
<circle class="N" cx="1502.3" cy="344.9" r="2.9"/>
<circle class="N" cx="1514.1" cy="392.4" r="2.9"/>
<circle class="N" cx="367.2" cy="209.0" r="2.9"/>
<circle class="N" cx="2102.3" cy="230.0" r="2.9"/>
<circle class="N" cx="850.2" cy="141.6" r="2.9"/>
<circle class="N" cx="910.8" cy="193.7" r="2.9"/>
<circle class="D" cx="74.8" cy="434.2" r="2.9"/>
<circle class="P" cx="1852.4" cy="399.9" r="2.9"/>
<circle class="N" cx="119.5" cy="307.7" r="2.9"/>
<circle class="P" cx="168.9" cy="401.4" r="2.9"/>
<circle class="N" cx="1321.6" cy="294.1" r="2.9"/>
<circle class="P" cx="1448.3" cy="429.9" r="2.9"/>
<circle class="N" cx="934.6" cy="335.9" r="2.9"/>
<circle class="N" cx="339.1" cy="220.6" r="2.9"/>
<circle class="N" cx="915.2" cy="211.1" r="2.9"/>
<circle class="N" cx="1542.6" cy="369.8" r="2.9"/>
<circle class="N" cx="297.3" cy="218.9" r="2.9"/>
<circle class="N" cx="918.3" cy="255.7" r="2.9"/>
<circle class="N" cx="302.9" cy="225.0" r="2.9"/>
<circle class="N" cx="299.2" cy="125.6" r="2.9"/>
<circle class="P" cx="1291.6" cy="447.0" r="2.9"/>
<circle class="N" cx="912.7" cy="308.6" r="2.9"/>
<circle class="N" cx="162.9" cy="183.1" r="2.9"/>
<circle class="D" cx="1198.9" cy="448.9" r="2.9"/>
<circle class="N" cx="314.6" cy="120.6" r="2.9"/>
<circle class="N" cx="1992.4" cy="369.8" r="2.9"/>
<circle class="N" cx="803.6" cy="172.2" r="2.9"/>
<circle class="N" cx="1968.1" cy="401.8" r="2.9"/>
<circle class="N" cx="2031.6" cy="329.7" r="2.9"/>
<circle class="N" cx="1834.4" cy="386.4" r="2.9"/>
<circle class="A" cx="1787.5" cy="409.5" r="2.9"/>
<circle class="N" cx="271.1" cy="121.1" r="2.9"/>
<circle class="P" cx="1924.1" cy="386.4" r="2.9"/>
<circle class="N" cx="1977.9" cy="338.3" r="2.9"/>
<circle class="N" cx="1329.9" cy="240.9" r="2.9"/>
<circle class="N" cx="649.5" cy="401.1" r="2.9"/>
<circle class="P" cx="263.1" cy="364.9" r="2.9"/>
<circle class="N" cx="1492.0" cy="427.7" r="2.9"/>
<circle class="N" cx="2112.1" cy="199.6" r="2.9"/>
<circle class="B" cx="1796.1" cy="438.1" r="2.9"/>
<circle class="N" cx="315.9" cy="111.9" r="2.9"/>
<circle class="P" cx="1358.8" cy="445.2" r="2.9"/>
<circle class="B" cx="64.2" cy="449.2" r="2.9"/>
<circle class="P" cx="1362.7" cy="433.1" r="2.9"/>
<circle class="P" cx="1905.0" cy="445.0" r="2.9"/>
<circle class="N" cx="1248.4" cy="347.2" r="2.9"/>
<circle class="P" cx="1967.9" cy="376.4" r="2.9"/>
<circle class="N" cx="841.2" cy="214.5" r="2.9"/>
<circle class="N" cx="2044.5" cy="321.5" r="2.9"/>
<circle class="P" cx="708.8" cy="458.5" r="2.9"/>
<circle class="N" cx="1392.0" cy="161.0" r="2.9"/>
<circle class="P" cx="1974.2" cy="335.4" r="2.9"/>
<circle class="P" cx="137.8" cy="423.5" r="2.9"/>
<circle class="N" cx="105.7" cy="259.4" r="2.9"/>
<circle class="N" cx="323.9" cy="127.1" r="2.9"/>
<circle class="N" cx="1387.0" cy="236.8" r="2.9"/>
<circle class="N" cx="1483.4" cy="361.7" r="2.9"/>
<circle class="N" cx="2079.7" cy="230.3" r="2.9"/>
<circle class="N" cx="318.0" cy="149.5" r="2.9"/>
<circle class="N" cx="270.8" cy="144.9" r="2.9"/>
<circle class="N" cx="1000.6" cy="192.3" r="2.9"/>
<circle class="N" cx="372.9" cy="179.3" r="2.9"/>
<circle class="N" cx="81.3" cy="318.3" r="2.9"/>
<circle class="N" cx="1438.6" cy="324.7" r="2.9"/>
<circle class="N" cx="404.0" cy="289.2" r="2.9"/>
<circle class="P" cx="206.8" cy="409.9" r="2.9"/>
<circle class="P" cx="276.0" cy="316.8" r="2.9"/>
<circle class="P" cx="314.6" cy="262.3" r="2.9"/>
<circle class="A" cx="106.5" cy="434.2" r="2.9"/>
<circle class="P" cx="1768.0" cy="441.8" r="2.9"/>
<circle class="N" cx="326.2" cy="103.6" r="2.9"/>
<circle class="P" cx="1961.1" cy="363.9" r="2.9"/>
<circle class="N" cx="2047.0" cy="277.9" r="2.9"/>
<circle class="B" cx="687.0" cy="415.6" r="2.9"/>
<circle class="B" cx="650.8" cy="421.5" r="2.9"/>
<circle class="N" cx="2028.7" cy="269.4" r="2.9"/>
<circle class="N" cx="2070.6" cy="307.0" r="2.9"/>
<circle class="N" cx="1515.3" cy="394.7" r="2.9"/>
<circle class="N" cx="901.6" cy="215.8" r="2.9"/>
<circle class="N" cx="90.3" cy="296.2" r="2.9"/>
<circle class="N" cx="1283.5" cy="289.4" r="2.9"/>
<circle class="B" cx="1203.6" cy="435.9" r="2.9"/>
<circle class="P" cx="1328.3" cy="448.0" r="2.9"/>
<circle class="N" cx="1229.9" cy="356.9" r="2.9"/>
<circle class="P" cx="725.3" cy="427.0" r="2.9"/>
<circle class="N" cx="257.9" cy="263.1" r="2.9"/>
<circle class="N" cx="1519.1" cy="335.0" r="2.9"/>
<circle class="P" cx="1431.6" cy="444.9" r="2.9"/>
<circle class="P" cx="233.6" cy="363.7" r="2.9"/>
<circle class="N" cx="961.8" cy="241.2" r="2.9"/>
<circle class="N" cx="1488.4" cy="347.6" r="2.9"/>
<circle class="N" cx="1551.3" cy="352.9" r="2.9"/>
<circle class="N" cx="919.2" cy="243.9" r="2.9"/>
<circle class="N" cx="2024.9" cy="306.0" r="2.9"/>
<circle class="N" cx="1236.5" cy="327.2" r="2.9"/>
<circle class="N" cx="1974.3" cy="406.9" r="2.9"/>
<circle class="N" cx="155.5" cy="192.4" r="2.9"/>
<circle class="P" cx="1305.2" cy="439.1" r="2.9"/>
<circle class="N" cx="1259.2" cy="322.5" r="2.9"/>
<circle class="N" cx="104.3" cy="430.7" r="2.9"/>
<circle class="N" cx="320.5" cy="161.4" r="2.9"/>
<circle class="B" cx="1767.3" cy="402.4" r="2.9"/>
<circle class="A" cx="640.9" cy="444.9" r="2.9"/>
<circle class="N" cx="2011.7" cy="273.8" r="2.9"/>
<circle class="N" cx="113.8" cy="245.7" r="2.9"/>
<circle class="N" cx="2019.2" cy="289.1" r="2.9"/>
<circle class="P" cx="203.6" cy="364.4" r="2.9"/>
<circle class="N" cx="2139.5" cy="267.2" r="2.9"/>
<circle class="P" cx="142.1" cy="407.4" r="2.9"/>
<circle class="N" cx="342.5" cy="149.1" r="2.9"/>
<circle class="N" cx="1344.5" cy="221.5" r="2.9"/>
<circle class="N" cx="960.8" cy="219.9" r="2.9"/>
<circle class="N" cx="2116.7" cy="256.3" r="2.9"/>
<circle class="N" cx="1379.3" cy="291.4" r="2.9"/>
<circle class="N" cx="682.6" cy="343.7" r="2.9"/>
<circle class="P" cx="735.8" cy="409.0" r="2.9"/>
<circle class="N" cx="1201.9" cy="429.7" r="2.9"/>
<circle class="P" cx="1843.1" cy="434.5" r="2.9"/>
<circle class="N" cx="307.0" cy="155.8" r="2.9"/>
<circle class="N" cx="2048.0" cy="284.4" r="2.9"/>
<circle class="N" cx="67.5" cy="407.3" r="2.9"/>
<circle class="N" cx="663.7" cy="344.6" r="2.9"/>
<circle class="N" cx="283.5" cy="134.3" r="2.9"/>
<circle class="N" cx="324.3" cy="166.9" r="2.9"/>
<circle class="N" cx="393.8" cy="164.0" r="2.9"/>
<circle class="P" cx="817.5" cy="429.1" r="2.9"/>
<circle class="N" cx="65.9" cy="416.5" r="2.9"/>
<circle class="N" cx="1462.6" cy="388.3" r="2.9"/>
<circle class="P" cx="197.5" cy="354.6" r="2.9"/>
<circle class="N" cx="118.2" cy="249.6" r="2.9"/>
<circle class="P" cx="214.0" cy="403.5" r="2.9"/>
<circle class="P" cx="353.3" cy="275.7" r="2.9"/>
<circle class="P" cx="205.0" cy="414.7" r="2.9"/>
<circle class="P" cx="1981.6" cy="365.9" r="2.9"/>
<circle class="N" cx="1258.2" cy="369.4" r="2.9"/>
<circle class="P" cx="198.7" cy="405.7" r="2.9"/>
<circle class="P" cx="1979.2" cy="355.4" r="2.9"/>
<circle class="P" cx="1857.8" cy="392.0" r="2.9"/>
<circle class="N" cx="2027.5" cy="408.4" r="2.9"/>
<circle class="P" cx="1317.7" cy="452.9" r="2.9"/>
<circle class="P" cx="821.9" cy="389.9" r="2.9"/>
<circle class="P" cx="133.0" cy="438.1" r="2.9"/>
<circle class="N" cx="2084.1" cy="302.5" r="2.9"/>
<circle class="N" cx="911.5" cy="138.9" r="2.9"/>
<circle class="N" cx="1355.2" cy="266.8" r="2.9"/>
<circle class="N" cx="87.6" cy="339.5" r="2.9"/>
<circle class="N" cx="1431.4" cy="250.0" r="2.9"/>
<circle class="A" cx="1263.9" cy="456.5" r="2.9"/>
<circle class="N" cx="878.5" cy="263.4" r="2.9"/>
<circle class="N" cx="2066.5" cy="297.8" r="2.9"/>
<circle class="P" cx="656.5" cy="427.6" r="2.9"/>
<circle class="N" cx="327.6" cy="148.9" r="2.9"/>
<circle class="N" cx="1510.6" cy="340.8" r="2.9"/>
<circle class="N" cx="1224.5" cy="374.4" r="2.9"/>
<circle class="P" cx="790.4" cy="394.9" r="2.9"/>
<circle class="N" cx="1277.8" cy="246.2" r="2.9"/>
<circle class="P" cx="1439.3" cy="424.2" r="2.9"/>
<circle class="P" cx="245.5" cy="349.9" r="2.9"/>
<circle class="B" cx="94.9" cy="435.0" r="2.9"/>
<circle class="N" cx="2051.1" cy="302.4" r="2.9"/>
<circle class="N" cx="226.5" cy="212.0" r="2.9"/>
<circle class="P" cx="1292.0" cy="443.1" r="2.9"/>
<circle class="N" cx="929.0" cy="256.8" r="2.9"/>
<circle class="N" cx="2027.1" cy="270.7" r="2.9"/>
<circle class="P" cx="95.2" cy="429.1" r="2.9"/>
<circle class="N" cx="728.9" cy="240.8" r="2.9"/>
<circle class="N" cx="140.9" cy="197.1" r="2.9"/>
<circle class="N" cx="168.2" cy="204.6" r="2.9"/>
<circle class="P" cx="801.8" cy="433.8" r="2.9"/>
<circle class="N" cx="1473.5" cy="369.4" r="2.9"/>
<circle class="P" cx="316.7" cy="271.8" r="2.9"/>
<circle class="N" cx="217.1" cy="238.5" r="2.9"/>
<circle class="P" cx="816.5" cy="433.6" r="2.9"/>
<circle class="P" cx="63.6" cy="453.2" r="2.9"/>
<circle class="P" cx="1288.9" cy="458.0" r="2.9"/>
<circle class="P" cx="734.4" cy="427.7" r="2.9"/>
<circle class="N" cx="211.4" cy="220.0" r="2.9"/>
<circle class="N" cx="938.9" cy="183.5" r="2.9"/>
<circle class="N" cx="1415.3" cy="254.9" r="2.9"/>
<circle class="P" cx="142.0" cy="443.6" r="2.9"/>
<circle class="N" cx="306.2" cy="148.2" r="2.9"/>
<circle class="P" cx="272.3" cy="333.5" r="2.9"/>
<circle class="N" cx="338.0" cy="110.3" r="2.9"/>
<circle class="N" cx="278.3" cy="118.2" r="2.9"/>
<circle class="N" cx="311.7" cy="150.2" r="2.9"/>
<circle class="N" cx="966.5" cy="265.2" r="2.9"/>
<circle class="P" cx="1881.6" cy="440.8" r="2.9"/>
<circle class="P" cx="1434.7" cy="418.1" r="2.9"/>
<circle class="P" cx="287.1" cy="260.5" r="2.9"/>
<circle class="N" cx="832.2" cy="95.7" r="2.9"/>
<circle class="P" cx="205.4" cy="240.6" r="2.9"/>
<circle class="N" cx="1328.5" cy="207.9" r="2.9"/>
<circle class="N" cx="1429.8" cy="266.4" r="2.9"/>
<circle class="B" cx="1787.5" cy="447.9" r="2.9"/>
<circle class="N" cx="728.7" cy="288.6" r="2.9"/>
<circle class="N" cx="937.2" cy="227.1" r="2.9"/>
<circle class="N" cx="257.6" cy="112.1" r="2.9"/>
<circle class="P" cx="848.7" cy="384.3" r="2.9"/>
<circle class="B" cx="1805.4" cy="443.6" r="2.9"/>
<circle class="P" cx="788.5" cy="391.4" r="2.9"/>
<circle class="N" cx="1324.1" cy="270.9" r="2.9"/>
<circle class="N" cx="150.8" cy="191.6" r="2.9"/>
<circle class="P" cx="1856.6" cy="401.6" r="2.9"/>
<circle class="N" cx="244.3" cy="88.9" r="2.9"/>
<circle class="N" cx="2078.8" cy="263.4" r="2.9"/>
<circle class="B" cx="1203.3" cy="432.8" r="2.9"/>
<circle class="B" cx="679.7" cy="436.4" r="2.9"/>
<circle class="D" cx="75.5" cy="459.7" r="2.9"/>
<circle class="P" cx="139.0" cy="447.3" r="2.9"/>
<circle class="N" cx="1545.8" cy="306.6" r="2.9"/>
<circle class="N" cx="1445.4" cy="297.7" r="2.9"/>
<circle class="N" cx="739.6" cy="249.8" r="2.9"/>
<circle class="N" cx="390.7" cy="162.6" r="2.9"/>
<circle class="N" cx="322.8" cy="138.1" r="2.9"/>
<circle class="N" cx="1963.0" cy="196.5" r="2.9"/>
<circle class="P" cx="1899.9" cy="413.8" r="2.9"/>
<circle class="N" cx="326.9" cy="110.1" r="2.9"/>
<circle class="N" cx="1543.6" cy="365.5" r="2.9"/>
<circle class="P" cx="1863.9" cy="425.7" r="2.9"/>
<circle class="N" cx="151.8" cy="214.9" r="2.9"/>
<circle class="N" cx="1490.0" cy="340.1" r="2.9"/>
<circle class="N" cx="949.6" cy="144.5" r="2.9"/>
<circle class="P" cx="120.0" cy="445.0" r="2.9"/>
<circle class="N" cx="1452.0" cy="344.7" r="2.9"/>
<circle class="N" cx="857.8" cy="172.9" r="2.9"/>
<circle class="P" cx="1285.5" cy="451.7" r="2.9"/>
<circle class="P" cx="1853.4" cy="379.0" r="2.9"/>
<circle class="N" cx="1381.8" cy="264.9" r="2.9"/>
<circle class="N" cx="1194.8" cy="393.3" r="2.9"/>
<circle class="N" cx="149.9" cy="221.1" r="2.9"/>
<circle class="N" cx="2061.1" cy="231.2" r="2.9"/>
<circle class="N" cx="2009.1" cy="343.0" r="2.9"/>
<circle class="P" cx="754.7" cy="430.5" r="2.9"/>
<circle class="P" cx="1890.5" cy="404.2" r="2.9"/>
<circle class="P" cx="829.4" cy="371.8" r="2.9"/>
<circle class="N" cx="422.5" cy="255.3" r="2.9"/>
<circle class="N" cx="345.5" cy="237.3" r="2.9"/>
<circle class="N" cx="1446.6" cy="398.3" r="2.9"/>
<circle class="P" cx="787.6" cy="397.5" r="2.9"/>
<circle class="P" cx="663.8" cy="440.7" r="2.9"/>
<circle class="P" cx="848.7" cy="393.6" r="2.9"/>
<circle class="P" cx="128.1" cy="425.9" r="2.9"/>
<circle class="P" cx="860.3" cy="345.9" r="2.9"/>
<circle class="N" cx="259.7" cy="95.0" r="2.9"/>
<circle class="N" cx="297.0" cy="192.6" r="2.9"/>
<circle class="N" cx="85.5" cy="306.1" r="2.9"/>
<circle class="N" cx="309.2" cy="147.0" r="2.9"/>
<circle class="P" cx="1381.4" cy="446.1" r="2.9"/>
<circle class="N" cx="693.9" cy="335.4" r="2.9"/>
<circle class="P" cx="1862.8" cy="452.4" r="2.9"/>
<circle class="N" cx="2086.4" cy="187.3" r="2.9"/>
<circle class="N" cx="1827.3" cy="402.7" r="2.9"/>
<circle class="P" cx="1348.8" cy="419.7" r="2.9"/>
<circle class="N" cx="2029.4" cy="403.4" r="2.9"/>
<circle class="N" cx="1997.7" cy="314.2" r="2.9"/>
<circle class="P" cx="1291.6" cy="434.2" r="2.9"/>
<circle class="N" cx="2086.1" cy="292.9" r="2.9"/>
<circle class="N" cx="1236.2" cy="397.1" r="2.9"/>
<circle class="N" cx="1207.5" cy="415.7" r="2.9"/>
<circle class="N" cx="68.2" cy="422.4" r="2.9"/>
<circle class="P" cx="782.4" cy="437.7" r="2.9"/>
<circle class="N" cx="906.4" cy="260.9" r="2.9"/>
<circle class="N" cx="2006.0" cy="388.7" r="2.9"/>
<circle class="N" cx="841.5" cy="176.2" r="2.9"/>
<circle class="N" cx="923.0" cy="209.3" r="2.9"/>
<circle class="N" cx="2019.8" cy="323.0" r="2.9"/>
<circle class="N" cx="1531.6" cy="320.8" r="2.9"/>
<circle class="N" cx="1331.7" cy="187.9" r="2.9"/>
<circle class="N" cx="871.1" cy="163.3" r="2.9"/>
<circle class="N" cx="2092.6" cy="264.4" r="2.9"/>
<circle class="N" cx="2066.7" cy="225.2" r="2.9"/>
<circle class="P" cx="1305.7" cy="455.6" r="2.9"/>
<circle class="N" cx="938.9" cy="217.7" r="2.9"/>
<circle class="N" cx="2085.9" cy="310.2" r="2.9"/>
<circle class="N" cx="1469.6" cy="384.8" r="2.9"/>
<circle class="N" cx="1989.1" cy="312.3" r="2.9"/>
<circle class="N" cx="842.8" cy="215.3" r="2.9"/>
<circle class="N" cx="2110.6" cy="203.2" r="2.9"/>
<circle class="P" cx="1362.8" cy="431.8" r="2.9"/>
<circle class="N" cx="2014.2" cy="309.9" r="2.9"/>
<circle class="N" cx="1332.9" cy="276.5" r="2.9"/>
<circle class="N" cx="933.6" cy="192.8" r="2.9"/>
<circle class="P" cx="190.9" cy="397.2" r="2.9"/>
<circle class="P" cx="115.1" cy="431.0" r="2.9"/>
<circle class="B" cx="687.5" cy="455.8" r="2.9"/>
<circle class="P" cx="780.0" cy="405.9" r="2.9"/>
<circle class="N" cx="2097.4" cy="235.4" r="2.9"/>
<circle class="A" cx="659.2" cy="434.9" r="2.9"/>
<circle class="N" cx="1451.2" cy="393.2" r="2.9"/>
<circle class="B" cx="649.7" cy="439.1" r="2.9"/>
<circle class="N" cx="89.5" cy="427.5" r="2.9"/>
<circle class="N" cx="110.5" cy="369.6" r="2.9"/>
<circle class="N" cx="846.2" cy="325.0" r="2.9"/>
<circle class="D" cx="67.5" cy="431.1" r="2.9"/>
<circle class="N" cx="1524.0" cy="322.2" r="2.9"/>
<circle class="P" cx="1430.6" cy="434.1" r="2.9"/>
<circle class="B" cx="637.6" cy="427.7" r="2.9"/>
<circle class="N" cx="318.0" cy="98.7" r="2.9"/>
<circle class="B" cx="83.3" cy="459.4" r="2.9"/>
<circle class="N" cx="909.6" cy="247.3" r="2.9"/>
<circle class="N" cx="76.9" cy="350.4" r="2.9"/>
<circle class="D" cx="641.7" cy="416.0" r="2.9"/>
<circle class="P" cx="1881.0" cy="380.6" r="2.9"/>
<circle class="P" cx="1871.5" cy="390.3" r="2.9"/>
<circle class="N" cx="758.5" cy="207.6" r="2.9"/>
<circle class="N" cx="2060.1" cy="235.2" r="2.9"/>
<circle class="N" cx="288.7" cy="184.0" r="2.9"/>
<circle class="N" cx="1989.1" cy="374.5" r="2.9"/>
<circle class="P" cx="818.8" cy="344.2" r="2.9"/>
<circle class="A" cx="1774.9" cy="393.8" r="2.9"/>
<circle class="N" cx="1478.7" cy="343.5" r="2.9"/>
<circle class="P" cx="751.4" cy="452.6" r="2.9"/>
<circle class="N" cx="2034.9" cy="368.9" r="2.9"/>
<circle class="P" cx="1871.3" cy="390.5" r="2.9"/>
<circle class="N" cx="966.9" cy="232.2" r="2.9"/>
<circle class="N" cx="258.1" cy="213.1" r="2.9"/>
<circle class="P" cx="1871.0" cy="443.0" r="2.9"/>
<circle class="N" cx="2030.5" cy="289.4" r="2.9"/>
<circle class="P" cx="225.0" cy="396.5" r="2.9"/>
<circle class="N" cx="899.4" cy="275.8" r="2.9"/>
<circle class="D" cx="634.7" cy="424.9" r="2.9"/>
<circle class="P" cx="851.1" cy="393.3" r="2.9"/>
<circle class="N" cx="429.0" cy="212.8" r="2.9"/>
<circle class="N" cx="915.9" cy="91.5" r="2.9"/>
<circle class="P" cx="1866.4" cy="362.8" r="2.9"/>
<circle class="N" cx="1965.8" cy="284.4" r="2.9"/>
<circle class="P" cx="854.5" cy="357.2" r="2.9"/>
<circle class="P" cx="322.8" cy="289.9" r="2.9"/>
<circle class="N" cx="178.4" cy="215.9" r="2.9"/>
<circle class="P" cx="855.6" cy="365.7" r="2.9"/>
<circle class="P" cx="1300.8" cy="443.9" r="2.9"/>
<circle class="P" cx="1419.1" cy="420.4" r="2.9"/>
<circle class="A" cx="1228.3" cy="450.9" r="2.9"/>
<circle class="N" cx="1428.3" cy="410.7" r="2.9"/>
<circle class="P" cx="136.8" cy="426.6" r="2.9"/>
<circle class="D" cx="679.3" cy="415.5" r="2.9"/>
<circle class="P" cx="97.2" cy="431.9" r="2.9"/>
<circle class="N" cx="943.9" cy="170.0" r="2.9"/>
<circle class="P" cx="844.0" cy="304.7" r="2.9"/>
<circle class="A" cx="681.7" cy="452.5" r="2.9"/>
<circle class="P" cx="1254.4" cy="453.4" r="2.9"/>
<circle class="N" cx="985.5" cy="223.2" r="2.9"/>
<circle class="N" cx="953.2" cy="240.7" r="2.9"/>
<circle class="P" cx="148.4" cy="422.4" r="2.9"/>
<circle class="P" cx="131.1" cy="448.6" r="2.9"/>
<circle class="N" cx="199.7" cy="254.1" r="2.9"/>
<circle class="N" cx="318.7" cy="175.2" r="2.9"/>
<circle class="N" cx="270.4" cy="197.3" r="2.9"/>
<circle class="N" cx="1332.0" cy="258.7" r="2.9"/>
<circle class="N" cx="900.9" cy="178.6" r="2.9"/>
<circle class="N" cx="1881.0" cy="384.0" r="2.9"/>
<circle class="P" cx="1339.5" cy="458.5" r="2.9"/>
<circle class="A" cx="95.1" cy="431.5" r="2.9"/>
<circle class="N" cx="2050.9" cy="260.8" r="2.9"/>
<circle class="P" cx="742.0" cy="423.8" r="2.9"/>
<circle class="N" cx="1470.7" cy="365.2" r="2.9"/>
<circle class="P" cx="1882.3" cy="377.7" r="2.9"/>
<circle class="P" cx="1838.0" cy="411.2" r="2.9"/>
<circle class="B" cx="1218.6" cy="451.4" r="2.9"/>
<circle class="P" cx="764.6" cy="429.5" r="2.9"/>
<circle class="N" cx="692.2" cy="365.6" r="2.9"/>
<circle class="N" cx="1456.5" cy="233.6" r="2.9"/>
<circle class="N" cx="1289.1" cy="221.5" r="2.9"/>
<circle class="N" cx="1312.4" cy="187.9" r="2.9"/>
<circle class="N" cx="90.4" cy="438.0" r="2.9"/>
<circle class="P" cx="1938.9" cy="385.3" r="2.9"/>
<circle class="P" cx="1328.5" cy="422.0" r="2.9"/>
<circle class="N" cx="279.4" cy="148.0" r="2.9"/>
<circle class="N" cx="2081.7" cy="331.0" r="2.9"/>
<circle class="N" cx="1462.8" cy="373.8" r="2.9"/>
<circle class="N" cx="210.8" cy="286.2" r="2.9"/>
<circle class="N" cx="1024.7" cy="149.4" r="2.9"/>
<circle class="N" cx="98.7" cy="304.5" r="2.9"/>
<circle class="N" cx="1238.7" cy="394.2" r="2.9"/>
<circle class="P" cx="839.0" cy="409.7" r="2.9"/>
<circle class="N" cx="2037.3" cy="258.3" r="2.9"/>
<circle class="N" cx="2038.8" cy="309.1" r="2.9"/>
<circle class="N" cx="1284.5" cy="208.1" r="2.9"/>
<circle class="P" cx="1426.6" cy="456.3" r="2.9"/>
<circle class="N" cx="105.2" cy="344.8" r="2.9"/>
<circle class="P" cx="1854.8" cy="426.7" r="2.9"/>
<circle class="N" cx="1322.3" cy="275.4" r="2.9"/>
<circle class="N" cx="987.2" cy="171.7" r="2.9"/>
<circle class="N" cx="384.4" cy="271.9" r="2.9"/>
<circle class="P" cx="157.1" cy="437.8" r="2.9"/>
<circle class="P" cx="167.5" cy="431.4" r="2.9"/>
<circle class="B" cx="679.8" cy="419.6" r="2.9"/>
<circle class="B" cx="1829.1" cy="398.9" r="2.9"/>
<circle class="N" cx="165.8" cy="186.9" r="2.9"/>
<circle class="N" cx="765.0" cy="223.6" r="2.9"/>
<circle class="P" cx="1912.7" cy="416.7" r="2.9"/>
<circle class="P" cx="1825.1" cy="422.3" r="2.9"/>
<circle class="P" cx="183.7" cy="395.5" r="2.9"/>
<circle class="P" cx="1985.4" cy="339.9" r="2.9"/>
<circle class="N" cx="690.6" cy="380.0" r="2.9"/>
<circle class="N" cx="1460.7" cy="311.9" r="2.9"/>
<circle class="N" cx="2070.6" cy="97.0" r="2.9"/>
<circle class="N" cx="1475.0" cy="348.5" r="2.9"/>
<circle class="N" cx="2016.7" cy="177.6" r="2.9"/>
<circle class="P" cx="214.1" cy="385.3" r="2.9"/>
<circle class="N" cx="1387.4" cy="319.5" r="2.9"/>
<circle class="P" cx="1854.7" cy="385.1" r="2.9"/>
<circle class="B" cx="1761.1" cy="423.9" r="2.9"/>
<circle class="N" cx="2117.9" cy="220.5" r="2.9"/>
<circle class="N" cx="1500.1" cy="361.8" r="2.9"/>
<circle class="N" cx="1224.2" cy="324.5" r="2.9"/>
<circle class="N" cx="125.1" cy="323.1" r="2.9"/>
<circle class="N" cx="2056.6" cy="347.2" r="2.9"/>
<circle class="N" cx="1318.4" cy="361.6" r="2.9"/>
<circle class="P" cx="1896.9" cy="347.5" r="2.9"/>
<circle class="P" cx="1822.8" cy="453.2" r="2.9"/>
<circle class="N" cx="1999.6" cy="382.0" r="2.9"/>
<circle class="P" cx="1438.1" cy="448.4" r="2.9"/>
<circle class="A" cx="685.3" cy="430.2" r="2.9"/>
<circle class="P" cx="1421.9" cy="407.5" r="2.9"/>
<circle class="P" cx="257.0" cy="337.9" r="2.9"/>
<circle class="D" cx="1770.2" cy="441.1" r="2.9"/>
<circle class="N" cx="265.2" cy="111.7" r="2.9"/>
<circle class="N" cx="1198.2" cy="376.3" r="2.9"/>
<circle class="N" cx="349.9" cy="137.2" r="2.9"/>
<circle class="P" cx="789.6" cy="394.1" r="2.9"/>
<circle class="N" cx="797.9" cy="244.2" r="2.9"/>
<circle class="N" cx="1427.8" cy="239.1" r="2.9"/>
<circle class="N" cx="1977.8" cy="362.0" r="2.9"/>
<circle class="A" cx="1832.9" cy="418.5" r="2.9"/>
<circle class="N" cx="682.5" cy="361.4" r="2.9"/>
<circle class="N" cx="1841.0" cy="416.1" r="2.9"/>
<circle class="P" cx="1431.7" cy="404.9" r="2.9"/>
<circle class="N" cx="931.0" cy="260.7" r="2.9"/>
<circle class="N" cx="909.8" cy="215.8" r="2.9"/>
<circle class="N" cx="2137.7" cy="149.0" r="2.9"/>
<circle class="N" cx="307.1" cy="136.7" r="2.9"/>
<circle class="N" cx="1491.9" cy="389.7" r="2.9"/>
<circle class="N" cx="834.8" cy="278.9" r="2.9"/>
<circle class="N" cx="1415.5" cy="370.2" r="2.9"/>
<circle class="N" cx="2023.9" cy="348.8" r="2.9"/>
<circle class="N" cx="1317.8" cy="226.1" r="2.9"/>
<circle class="N" cx="1530.2" cy="311.5" r="2.9"/>
<circle class="P" cx="271.4" cy="277.9" r="2.9"/>
<circle class="A" cx="1262.4" cy="453.2" r="2.9"/>
<circle class="N" cx="372.5" cy="155.9" r="2.9"/>
<circle class="N" cx="1460.7" cy="362.7" r="2.9"/>
<circle class="N" cx="2022.3" cy="297.0" r="2.9"/>
<circle class="N" cx="1460.2" cy="409.3" r="2.9"/>
<circle class="N" cx="261.4" cy="139.9" r="2.9"/>
<circle class="P" cx="1401.9" cy="414.0" r="2.9"/>
<circle class="P" cx="172.1" cy="367.7" r="2.9"/>
<circle class="P" cx="1840.4" cy="416.2" r="2.9"/>
<circle class="N" cx="1510.7" cy="360.2" r="2.9"/>
<circle class="N" cx="379.7" cy="231.1" r="2.9"/>
<circle class="N" cx="870.2" cy="202.5" r="2.9"/>
<circle class="N" cx="1528.2" cy="289.7" r="2.9"/>
<circle class="P" cx="1914.3" cy="349.8" r="2.9"/>
<circle class="N" cx="267.0" cy="256.9" r="2.9"/>
<circle class="N" cx="684.4" cy="451.3" r="2.9"/>
<circle class="P" cx="1956.6" cy="343.2" r="2.9"/>
<circle class="D" cx="1805.0" cy="396.2" r="2.9"/>
<circle class="N" cx="1324.3" cy="203.8" r="2.9"/>
<circle class="B" cx="88.4" cy="444.3" r="2.9"/>
<circle class="N" cx="1998.3" cy="354.4" r="2.9"/>
<circle class="P" cx="173.3" cy="377.7" r="2.9"/>
<circle class="N" cx="1461.7" cy="284.0" r="2.9"/>
<circle class="P" cx="770.8" cy="410.0" r="2.9"/>
<circle class="N" cx="883.2" cy="136.0" r="2.9"/>
<circle class="N" cx="2077.5" cy="282.2" r="2.9"/>
<circle class="N" cx="885.4" cy="181.5" r="2.9"/>
<circle class="N" cx="2115.8" cy="232.2" r="2.9"/>
<circle class="P" cx="1380.3" cy="420.1" r="2.9"/>
<circle class="P" cx="295.2" cy="279.8" r="2.9"/>
<circle class="N" cx="1963.6" cy="385.5" r="2.9"/>
<circle class="N" cx="1549.6" cy="355.6" r="2.9"/>
<circle class="A" cx="652.9" cy="437.9" r="2.9"/>
<circle class="N" cx="1201.5" cy="357.7" r="2.9"/>
<circle class="N" cx="1425.0" cy="237.6" r="2.9"/>
<circle class="P" cx="828.3" cy="388.4" r="2.9"/>
<circle class="N" cx="2011.8" cy="280.8" r="2.9"/>
<circle class="N" cx="274.5" cy="154.7" r="2.9"/>
<circle class="N" cx="909.0" cy="198.9" r="2.9"/>
<circle class="P" cx="1309.7" cy="425.4" r="2.9"/>
<circle class="D" cx="94.9" cy="432.1" r="2.9"/>
<circle class="P" cx="1848.6" cy="426.9" r="2.9"/>
<circle class="N" cx="1437.2" cy="369.1" r="2.9"/>
<circle class="N" cx="75.5" cy="418.2" r="2.9"/>
<circle class="N" cx="948.9" cy="147.3" r="2.9"/>
<circle class="N" cx="303.3" cy="176.3" r="2.9"/>
<circle class="N" cx="1549.1" cy="331.2" r="2.9"/>
<circle class="P" cx="1842.7" cy="397.7" r="2.9"/>
<circle class="P" cx="817.4" cy="431.7" r="2.9"/>
<circle class="A" cx="92.6" cy="445.5" r="2.9"/>
<circle class="N" cx="1486.7" cy="352.8" r="2.9"/>
<circle class="N" cx="895.8" cy="233.1" r="2.9"/>
<circle class="P" cx="732.6" cy="443.6" r="2.9"/>
<circle class="P" cx="1941.7" cy="375.2" r="2.9"/>
<circle class="N" cx="106.6" cy="369.8" r="2.9"/>
<circle class="N" cx="1405.0" cy="294.5" r="2.9"/>
<circle class="N" cx="823.5" cy="179.9" r="2.9"/>
<circle class="N" cx="808.3" cy="160.1" r="2.9"/>
<circle class="N" cx="312.7" cy="150.4" r="2.9"/>
<circle class="N" cx="1474.9" cy="361.9" r="2.9"/>
<circle class="P" cx="1887.6" cy="365.1" r="2.9"/>
<circle class="N" cx="392.2" cy="212.9" r="2.9"/>
<circle class="N" cx="1279.9" cy="237.1" r="2.9"/>
<circle class="P" cx="152.8" cy="398.0" r="2.9"/>
<circle class="P" cx="781.9" cy="389.6" r="2.9"/>
<circle class="N" cx="1970.3" cy="410.5" r="2.9"/>
<circle class="P" cx="811.2" cy="429.8" r="2.9"/>
<circle class="N" cx="1216.2" cy="415.1" r="2.9"/>
<circle class="P" cx="1949.0" cy="351.6" r="2.9"/>
<circle class="N" cx="289.0" cy="215.6" r="2.9"/>
<circle class="N" cx="1401.7" cy="250.2" r="2.9"/>
<circle class="N" cx="2051.5" cy="365.4" r="2.9"/>
<circle class="N" cx="902.2" cy="209.6" r="2.9"/>
<circle class="N" cx="1377.5" cy="381.5" r="2.9"/>
<circle class="N" cx="1473.2" cy="327.0" r="2.9"/>
<circle class="B" cx="1198.6" cy="454.7" r="2.9"/>
<circle class="N" cx="2068.9" cy="367.1" r="2.9"/>
<circle class="P" cx="1857.1" cy="391.9" r="2.9"/>
<circle class="P" cx="1362.0" cy="421.4" r="2.9"/>
<circle class="P" cx="1893.2" cy="386.0" r="2.9"/>
<circle class="B" cx="1770.2" cy="403.7" r="2.9"/>
<circle class="P" cx="1425.0" cy="422.6" r="2.9"/>
<circle class="P" cx="760.2" cy="397.3" r="2.9"/>
<circle class="N" cx="803.3" cy="137.9" r="2.9"/>
<circle class="P" cx="1304.5" cy="421.0" r="2.9"/>
<circle class="N" cx="652.2" cy="443.7" r="2.9"/>
<circle class="B" cx="1801.5" cy="458.6" r="2.9"/>
<circle class="P" cx="166.4" cy="419.0" r="2.9"/>
<circle class="P" cx="331.6" cy="268.1" r="2.9"/>
<circle class="N" cx="1430.2" cy="190.7" r="2.9"/>
<circle class="N" cx="1535.6" cy="350.8" r="2.9"/>
<circle class="N" cx="1901.8" cy="319.8" r="2.9"/>
<circle class="N" cx="896.5" cy="204.9" r="2.9"/>
<circle class="P" cx="739.3" cy="458.5" r="2.9"/>
<circle class="N" cx="885.6" cy="246.6" r="2.9"/>
<circle class="P" cx="862.3" cy="342.3" r="2.9"/>
<circle class="N" cx="948.2" cy="209.9" r="2.9"/>
<circle class="B" cx="1216.2" cy="440.2" r="2.9"/>
<circle class="N" cx="2053.1" cy="375.4" r="2.9"/>
<circle class="P" cx="1849.7" cy="438.7" r="2.9"/>
<circle class="N" cx="791.1" cy="273.7" r="2.9"/>
<circle class="N" cx="890.3" cy="170.8" r="2.9"/>
<circle class="P" cx="1868.7" cy="417.3" r="2.9"/>
<circle class="N" cx="2020.0" cy="81.6" r="2.9"/>
<circle class="P" cx="347.0" cy="249.6" r="2.9"/>
<circle class="N" cx="906.7" cy="232.5" r="2.9"/>
<circle class="N" cx="1332.0" cy="277.3" r="2.9"/>
<circle class="B" cx="109.1" cy="433.6" r="2.9"/>
<circle class="N" cx="916.9" cy="213.0" r="2.9"/>
<circle class="N" cx="1317.7" cy="251.6" r="2.9"/>
<circle class="N" cx="2066.7" cy="308.0" r="2.9"/>
<circle class="N" cx="754.0" cy="196.1" r="2.9"/>
<circle class="N" cx="1496.9" cy="376.7" r="2.9"/>
<circle class="N" cx="2023.1" cy="174.4" r="2.9"/>
<circle class="A" cx="1788.5" cy="452.8" r="2.9"/>
<circle class="N" cx="91.9" cy="333.2" r="2.9"/>
<circle class="N" cx="842.5" cy="207.4" r="2.9"/>
<circle class="N" cx="1418.2" cy="180.2" r="2.9"/>
<circle class="N" cx="1502.9" cy="389.4" r="2.9"/>
<circle class="N" cx="2042.0" cy="235.5" r="2.9"/>
<circle class="N" cx="1959.6" cy="303.8" r="2.9"/>
<circle class="N" cx="1455.3" cy="241.1" r="2.9"/>
<circle class="N" cx="1257.3" cy="382.1" r="2.9"/>
<circle class="N" cx="1469.8" cy="399.1" r="2.9"/>
<circle class="N" cx="814.6" cy="162.0" r="2.9"/>
<circle class="N" cx="908.4" cy="216.5" r="2.9"/>
<circle class="B" cx="669.8" cy="428.6" r="2.9"/>
<circle class="N" cx="302.0" cy="111.8" r="2.9"/>
<circle class="N" cx="1449.2" cy="365.0" r="2.9"/>
<circle class="N" cx="2138.6" cy="262.6" r="2.9"/>
<circle class="N" cx="1462.0" cy="378.7" r="2.9"/>
<circle class="N" cx="1548.4" cy="323.1" r="2.9"/>
<circle class="N" cx="2008.7" cy="367.5" r="2.9"/>
<circle class="N" cx="899.1" cy="158.6" r="2.9"/>
<circle class="P" cx="1356.7" cy="428.0" r="2.9"/>
<circle class="N" cx="309.2" cy="71.2" r="2.9"/>
<circle class="N" cx="1507.4" cy="373.6" r="2.9"/>
<circle class="P" cx="267.8" cy="321.9" r="2.9"/>
<circle class="N" cx="137.3" cy="305.8" r="2.9"/>
<circle class="D" cx="1781.1" cy="449.1" r="2.9"/>
<circle class="N" cx="2049.2" cy="273.6" r="2.9"/>
<circle class="N" cx="391.8" cy="109.9" r="2.9"/>
<circle class="N" cx="1503.4" cy="343.5" r="2.9"/>
<circle class="N" cx="2004.7" cy="340.6" r="2.9"/>
<circle class="B" cx="1797.3" cy="458.9" r="2.9"/>
<circle class="B" cx="1827.5" cy="438.9" r="2.9"/>
<circle class="P" cx="1403.0" cy="425.9" r="2.9"/>
<circle class="N" cx="2022.5" cy="284.5" r="2.9"/>
<circle class="N" cx="1260.4" cy="354.5" r="2.9"/>
<circle class="P" cx="1307.7" cy="439.6" r="2.9"/>
<circle class="P" cx="1859.0" cy="450.1" r="2.9"/>
<circle class="N" cx="1267.5" cy="324.0" r="2.9"/>
<circle class="N" cx="241.3" cy="116.9" r="2.9"/>
<circle class="B" cx="1810.8" cy="440.7" r="2.9"/>
<circle class="P" cx="1857.7" cy="428.1" r="2.9"/>
<circle class="N" cx="906.6" cy="212.7" r="2.9"/>
<circle class="N" cx="1507.5" cy="376.6" r="2.9"/>
<circle class="N" cx="1226.5" cy="427.3" r="2.9"/>
<circle class="N" cx="2109.1" cy="294.7" r="2.9"/>
<circle class="N" cx="937.5" cy="191.3" r="2.9"/>
<circle class="N" cx="1502.6" cy="405.4" r="2.9"/>
<circle class="N" cx="322.8" cy="232.0" r="2.9"/>
<circle class="P" cx="202.5" cy="316.2" r="2.9"/>
<circle class="B" cx="625.2" cy="430.1" r="2.9"/>
<circle class="P" cx="1968.3" cy="355.6" r="2.9"/>
<circle class="P" cx="172.8" cy="407.4" r="2.9"/>
<circle class="N" cx="2137.8" cy="272.2" r="2.9"/>
<circle class="N" cx="1329.0" cy="266.0" r="2.9"/>
<circle class="P" cx="1814.5" cy="433.1" r="2.9"/>
<circle class="P" cx="161.4" cy="387.7" r="2.9"/>
<circle class="N" cx="1351.8" cy="218.6" r="2.9"/>
<circle class="P" cx="203.7" cy="313.8" r="2.9"/>
<circle class="N" cx="1520.6" cy="390.1" r="2.9"/>
<circle class="N" cx="1969.4" cy="344.0" r="2.9"/>
<circle class="N" cx="1288.0" cy="192.0" r="2.9"/>
<circle class="N" cx="931.1" cy="125.4" r="2.9"/>
<circle class="N" cx="124.8" cy="298.3" r="2.9"/>
<circle class="D" cx="670.1" cy="442.0" r="2.9"/>
<circle class="N" cx="1321.6" cy="256.9" r="2.9"/>
<circle class="N" cx="384.2" cy="292.5" r="2.9"/>
<circle class="P" cx="1387.7" cy="433.2" r="2.9"/>
<circle class="D" cx="1192.7" cy="441.6" r="2.9"/>
<circle class="P" cx="855.1" cy="377.3" r="2.9"/>
<circle class="P" cx="1253.5" cy="448.9" r="2.9"/>
<circle class="P" cx="831.3" cy="380.7" r="2.9"/>
<circle class="P" cx="187.2" cy="393.2" r="2.9"/>
<circle class="P" cx="124.8" cy="447.4" r="2.9"/>
<circle class="P" cx="834.6" cy="356.5" r="2.9"/>
<circle class="N" cx="962.9" cy="188.2" r="2.9"/>
<circle class="N" cx="2025.6" cy="341.0" r="2.9"/>
<circle class="N" cx="2087.0" cy="143.4" r="2.9"/>
<circle class="P" cx="791.7" cy="415.4" r="2.9"/>
<circle class="N" cx="1495.2" cy="348.3" r="2.9"/>
<circle class="N" cx="331.5" cy="159.1" r="2.9"/>
<circle class="P" cx="1944.6" cy="365.0" r="2.9"/>
<circle class="N" cx="1417.0" cy="436.7" r="2.9"/>
<circle class="N" cx="893.2" cy="238.1" r="2.9"/>
<circle class="A" cx="1761.8" cy="446.3" r="2.9"/>
<circle class="N" cx="1461.3" cy="340.8" r="2.9"/>
<circle class="N" cx="932.3" cy="277.8" r="2.9"/>
<circle class="N" cx="2100.3" cy="285.3" r="2.9"/>
<circle class="N" cx="161.3" cy="181.3" r="2.9"/>
<circle class="N" cx="1496.7" cy="391.3" r="2.9"/>
<circle class="P" cx="729.9" cy="419.0" r="2.9"/>
<circle class="P" cx="763.0" cy="430.9" r="2.9"/>
<circle class="N" cx="217.7" cy="176.9" r="2.9"/>
<circle class="N" cx="2145.8" cy="195.3" r="2.9"/>
<circle class="N" cx="101.0" cy="286.7" r="2.9"/>
<circle class="B" cx="1788.7" cy="430.9" r="2.9"/>
<circle class="N" cx="2019.7" cy="293.3" r="2.9"/>
<circle class="N" cx="2004.4" cy="401.5" r="2.9"/>
<circle class="P" cx="802.1" cy="436.4" r="2.9"/>
<circle class="B" cx="1757.4" cy="438.4" r="2.9"/>
<circle class="N" cx="1517.3" cy="369.1" r="2.9"/>
<circle class="N" cx="87.1" cy="407.4" r="2.9"/>
<circle class="N" cx="375.8" cy="200.8" r="2.9"/>
<circle class="N" cx="682.7" cy="297.4" r="2.9"/>
<circle class="P" cx="1856.4" cy="410.8" r="2.9"/>
<circle class="P" cx="830.6" cy="381.1" r="2.9"/>
<circle class="N" cx="926.0" cy="124.8" r="2.9"/>
<circle class="N" cx="252.9" cy="206.0" r="2.9"/>
<circle class="P" cx="1342.5" cy="427.6" r="2.9"/>
<circle class="N" cx="270.0" cy="160.2" r="2.9"/>
<circle class="P" cx="1763.8" cy="397.6" r="2.9"/>
<circle class="P" cx="1873.2" cy="418.2" r="2.9"/>
<circle class="N" cx="62.7" cy="436.6" r="2.9"/>
<circle class="N" cx="1358.9" cy="174.4" r="2.9"/>
<circle class="N" cx="964.3" cy="272.7" r="2.9"/>
<circle class="A" cx="1832.6" cy="412.2" r="2.9"/>
<circle class="P" cx="679.7" cy="437.5" r="2.9"/>
<circle class="P" cx="1436.2" cy="410.0" r="2.9"/>
<circle class="P" cx="382.5" cy="306.9" r="2.9"/>
<circle class="N" cx="156.2" cy="186.3" r="2.9"/>
<circle class="N" cx="338.3" cy="154.6" r="2.9"/>
<circle class="N" cx="950.7" cy="200.5" r="2.9"/>
<circle class="N" cx="300.3" cy="132.2" r="2.9"/>
<circle class="N" cx="143.5" cy="291.1" r="2.9"/>
<circle class="N" cx="2133.1" cy="251.7" r="2.9"/>
<circle class="N" cx="2019.3" cy="266.9" r="2.9"/>
<circle class="N" cx="1462.4" cy="283.3" r="2.9"/>
<circle class="A" cx="1271.4" cy="450.5" r="2.9"/>
<circle class="N" cx="1513.3" cy="338.9" r="2.9"/>
<circle class="N" cx="333.7" cy="140.6" r="2.9"/>
<circle class="N" cx="1539.3" cy="363.5" r="2.9"/>
<circle class="A" cx="1780.6" cy="404.3" r="2.9"/>
<circle class="N" cx="1216.9" cy="351.2" r="2.9"/>
<circle class="N" cx="204.2" cy="173.9" r="2.9"/>
<circle class="N" cx="1519.3" cy="315.3" r="2.9"/>
<circle class="P" cx="153.7" cy="438.2" r="2.9"/>
<circle class="N" cx="884.7" cy="222.9" r="2.9"/>
<circle class="D" cx="115.5" cy="442.0" r="2.9"/>
<circle class="N" cx="1193.0" cy="395.8" r="2.9"/>
<circle class="N" cx="428.4" cy="236.7" r="2.9"/>
<circle class="N" cx="898.2" cy="206.7" r="2.9"/>
<circle class="P" cx="162.0" cy="431.6" r="2.9"/>
<circle class="P" cx="755.2" cy="456.8" r="2.9"/>
<circle class="N" cx="1208.3" cy="379.8" r="2.9"/>
<circle class="P" cx="278.7" cy="303.8" r="2.9"/>
<circle class="P" cx="809.8" cy="377.7" r="2.9"/>
<circle class="N" cx="1470.4" cy="245.7" r="2.9"/>
<circle class="N" cx="897.7" cy="193.5" r="2.9"/>
<circle class="N" cx="1392.8" cy="168.2" r="2.9"/>
<circle class="N" cx="2072.2" cy="263.7" r="2.9"/>
<circle class="N" cx="321.6" cy="143.9" r="2.9"/>
<circle class="N" cx="291.7" cy="182.9" r="2.9"/>
<circle class="P" cx="176.3" cy="401.3" r="2.9"/>
<circle class="N" cx="1975.3" cy="358.7" r="2.9"/>
<circle class="N" cx="1422.5" cy="336.5" r="2.9"/>
<circle class="P" cx="1881.9" cy="375.5" r="2.9"/>
<circle class="B" cx="647.1" cy="411.6" r="2.9"/>
<circle class="N" cx="2096.3" cy="278.5" r="2.9"/>
<circle class="D" cx="1757.0" cy="457.7" r="2.9"/>
<circle class="N" cx="77.9" cy="459.3" r="2.9"/>
<circle class="P" cx="311.2" cy="249.5" r="2.9"/>
<circle class="B" cx="80.2" cy="456.3" r="2.9"/>
<circle class="P" cx="1416.9" cy="421.8" r="2.9"/>
<circle class="N" cx="1335.3" cy="181.9" r="2.9"/>
<circle class="B" cx="689.1" cy="440.3" r="2.9"/>
<circle class="N" cx="1994.7" cy="417.5" r="2.9"/>
<circle class="N" cx="110.0" cy="267.6" r="2.9"/>
<circle class="N" cx="938.1" cy="211.2" r="2.9"/>
<circle class="N" cx="2047.4" cy="249.2" r="2.9"/>
<circle class="N" cx="364.7" cy="194.2" r="2.9"/>
<circle class="N" cx="1513.9" cy="343.9" r="2.9"/>
<circle class="P" cx="1449.7" cy="416.3" r="2.9"/>
<circle class="P" cx="128.1" cy="424.1" r="2.9"/>
<circle class="N" cx="2048.0" cy="263.4" r="2.9"/>
<circle class="N" cx="178.1" cy="188.6" r="2.9"/>
<circle class="N" cx="1457.4" cy="409.0" r="2.9"/>
<circle class="P" cx="130.3" cy="445.5" r="2.9"/>
<circle class="N" cx="2045.9" cy="266.6" r="2.9"/>
<circle class="N" cx="1310.5" cy="269.8" r="2.9"/>
<circle class="B" cx="1200.7" cy="457.2" r="2.9"/>
<circle class="N" cx="2071.0" cy="248.2" r="2.9"/>
<circle class="P" cx="827.8" cy="378.0" r="2.9"/>
<circle class="N" cx="2063.7" cy="270.5" r="2.9"/>
<circle class="N" cx="1348.3" cy="201.3" r="2.9"/>
<circle class="P" cx="200.3" cy="397.6" r="2.9"/>
<circle class="N" cx="257.2" cy="120.8" r="2.9"/>
<circle class="P" cx="845.5" cy="404.8" r="2.9"/>
<circle class="N" cx="2043.2" cy="281.7" r="2.9"/>
<circle class="N" cx="1425.9" cy="284.8" r="2.9"/>
<circle class="P" cx="1949.4" cy="369.1" r="2.9"/>
<circle class="N" cx="159.1" cy="180.4" r="2.9"/>
<circle class="N" cx="1446.2" cy="373.6" r="2.9"/>
<circle class="N" cx="855.9" cy="248.9" r="2.9"/>
<circle class="N" cx="734.9" cy="189.7" r="2.9"/>
<circle class="N" cx="2104.5" cy="282.4" r="2.9"/>
<circle class="N" cx="397.2" cy="179.5" r="2.9"/>
<circle class="N" cx="924.1" cy="208.2" r="2.9"/>
<circle class="N" cx="222.6" cy="244.1" r="2.9"/>
<circle class="B" cx="1203.3" cy="448.2" r="2.9"/>
<circle class="B" cx="1832.4" cy="407.8" r="2.9"/>
<circle class="N" cx="330.7" cy="157.5" r="2.9"/>
<circle class="N" cx="1360.7" cy="237.7" r="2.9"/>
<circle class="N" cx="1465.9" cy="235.5" r="2.9"/>
<circle class="P" cx="1418.3" cy="456.0" r="2.9"/>
<circle class="N" cx="730.4" cy="258.4" r="2.9"/>
<circle class="N" cx="1013.3" cy="147.8" r="2.9"/>
<circle class="P" cx="289.5" cy="331.7" r="2.9"/>
<circle class="P" cx="1948.0" cy="434.0" r="2.9"/>
<circle class="N" cx="1427.5" cy="402.2" r="2.9"/>
<circle class="P" cx="1342.6" cy="440.4" r="2.9"/>
<circle class="N" cx="314.5" cy="104.1" r="2.9"/>
<circle class="N" cx="2061.6" cy="290.8" r="2.9"/>
<circle class="N" cx="1468.8" cy="331.7" r="2.9"/>
<circle class="P" cx="1965.1" cy="360.8" r="2.9"/>
<circle class="P" cx="227.5" cy="352.5" r="2.9"/>
<circle class="P" cx="725.1" cy="423.1" r="2.9"/>
<circle class="N" cx="671.7" cy="400.9" r="2.9"/>
<circle class="N" cx="1463.5" cy="403.5" r="2.9"/>
<circle class="P" cx="1839.0" cy="432.0" r="2.9"/>
<circle class="N" cx="1332.5" cy="148.0" r="2.9"/>
<circle class="N" cx="933.8" cy="267.3" r="2.9"/>
<circle class="N" cx="2115.0" cy="100.0" r="2.9"/>
<circle class="N" cx="2105.5" cy="289.9" r="2.9"/>
<circle class="P" cx="1859.5" cy="375.1" r="2.9"/>
<circle class="N" cx="891.1" cy="150.3" r="2.9"/>
<circle class="N" cx="2013.8" cy="352.2" r="2.9"/>
<circle class="N" cx="832.7" cy="251.8" r="2.9"/>
<circle class="N" cx="871.6" cy="226.1" r="2.9"/>
<circle class="P" cx="143.1" cy="431.5" r="2.9"/>
<circle class="N" cx="1980.5" cy="353.2" r="2.9"/>
<circle class="P" cx="756.4" cy="398.8" r="2.9"/>
<circle class="P" cx="740.8" cy="409.4" r="2.9"/>
<circle class="N" cx="863.3" cy="123.3" r="2.9"/>
<circle class="N" cx="1993.3" cy="386.0" r="2.9"/>
<circle class="N" cx="226.8" cy="98.5" r="2.9"/>
<circle class="P" cx="1890.3" cy="422.1" r="2.9"/>
<circle class="P" cx="846.6" cy="339.7" r="2.9"/>
<circle class="A" cx="94.7" cy="437.5" r="2.9"/>
<circle class="P" cx="1920.3" cy="361.4" r="2.9"/>
<circle class="N" cx="858.4" cy="323.2" r="2.9"/>
<circle class="B" cx="106.1" cy="455.0" r="2.9"/>
<circle class="A" cx="642.6" cy="441.3" r="2.9"/>
<circle class="N" cx="2024.4" cy="229.1" r="2.9"/>
<circle class="N" cx="1488.6" cy="409.4" r="2.9"/>
<circle class="N" cx="2047.3" cy="297.5" r="2.9"/>
<circle class="B" cx="1196.1" cy="457.2" r="2.9"/>
<circle class="N" cx="1259.6" cy="336.0" r="2.9"/>
<circle class="N" cx="2103.5" cy="284.9" r="2.9"/>
<circle class="P" cx="251.3" cy="384.4" r="2.9"/>
<circle class="N" cx="1995.4" cy="263.3" r="2.9"/>
<circle class="P" cx="834.8" cy="384.3" r="2.9"/>
<circle class="N" cx="970.2" cy="250.4" r="2.9"/>
<circle class="N" cx="645.1" cy="448.4" r="2.9"/>
<circle class="P" cx="1350.4" cy="434.0" r="2.9"/>
<circle class="B" cx="627.2" cy="426.9" r="2.9"/>
<circle class="N" cx="1456.1" cy="378.8" r="2.9"/>
<circle class="B" cx="640.1" cy="404.5" r="2.9"/>
<circle class="N" cx="1241.0" cy="413.7" r="2.9"/>
<circle class="N" cx="1307.4" cy="205.7" r="2.9"/>
<circle class="P" cx="820.0" cy="345.0" r="2.9"/>
<circle class="N" cx="1884.7" cy="420.7" r="2.9"/>
<circle class="N" cx="897.2" cy="166.5" r="2.9"/>
<circle class="N" cx="895.2" cy="208.3" r="2.9"/>
<circle class="N" cx="893.0" cy="211.3" r="2.9"/>
<circle class="N" cx="1518.0" cy="371.5" r="2.9"/>
<circle class="N" cx="1309.8" cy="233.0" r="2.9"/>
<circle class="N" cx="859.1" cy="174.3" r="2.9"/>
<circle class="N" cx="284.6" cy="233.9" r="2.9"/>
<circle class="P" cx="1451.4" cy="424.8" r="2.9"/>
<circle class="N" cx="959.0" cy="180.5" r="2.9"/>
<circle class="B" cx="1786.6" cy="396.7" r="2.9"/>
<circle class="P" cx="1882.3" cy="433.2" r="2.9"/>
<circle class="P" cx="1886.3" cy="441.8" r="2.9"/>
<circle class="B" cx="1768.5" cy="397.4" r="2.9"/>
<circle class="P" cx="294.7" cy="268.2" r="2.9"/>
<circle class="N" cx="1814.7" cy="456.1" r="2.9"/>
<circle class="N" cx="2005.8" cy="355.8" r="2.9"/>
<circle class="P" cx="1948.9" cy="372.6" r="2.9"/>
<circle class="P" cx="705.7" cy="442.8" r="2.9"/>
<circle class="B" cx="77.7" cy="437.0" r="2.9"/>
<circle class="A" cx="1258.2" cy="457.4" r="2.9"/>
<circle class="P" cx="1374.2" cy="424.3" r="2.9"/>
<circle class="N" cx="935.6" cy="140.4" r="2.9"/>
<circle class="A" cx="81.8" cy="436.3" r="2.9"/>
<circle class="P" cx="850.8" cy="315.4" r="2.9"/>
<circle class="N" cx="323.6" cy="141.6" r="2.9"/>
<circle class="N" cx="2104.0" cy="272.5" r="2.9"/>
<circle class="N" cx="958.0" cy="211.8" r="2.9"/>
<circle class="N" cx="296.1" cy="166.9" r="2.9"/>
<circle class="P" cx="831.3" cy="378.0" r="2.9"/>
<circle class="P" cx="1353.4" cy="435.1" r="2.9"/>
<circle class="P" cx="1429.8" cy="445.9" r="2.9"/>
<circle class="N" cx="1418.1" cy="231.6" r="2.9"/>
<circle class="P" cx="729.7" cy="458.5" r="2.9"/>
<circle class="P" cx="791.3" cy="443.3" r="2.9"/>
<circle class="P" cx="237.2" cy="352.6" r="2.9"/>
<circle class="N" cx="325.5" cy="110.5" r="2.9"/>
<circle class="N" cx="298.4" cy="149.5" r="2.9"/>
<circle class="N" cx="62.0" cy="419.5" r="2.9"/>
<circle class="P" cx="135.9" cy="427.1" r="2.9"/>
<circle class="N" cx="1543.5" cy="292.1" r="2.9"/>
<circle class="P" cx="176.6" cy="361.0" r="2.9"/>
<circle class="N" cx="360.8" cy="134.2" r="2.9"/>
<circle class="N" cx="1211.3" cy="418.7" r="2.9"/>
<circle class="P" cx="177.7" cy="356.1" r="2.9"/>
<circle class="N" cx="914.5" cy="208.6" r="2.9"/>
<circle class="N" cx="2036.3" cy="326.5" r="2.9"/>
<circle class="D" cx="1772.1" cy="437.7" r="2.9"/>
<circle class="P" cx="1358.6" cy="424.4" r="2.9"/>
<circle class="N" cx="935.9" cy="151.0" r="2.9"/>
<circle class="N" cx="1491.9" cy="351.0" r="2.9"/>
<circle class="N" cx="1445.0" cy="390.3" r="2.9"/>
<circle class="P" cx="640.7" cy="458.5" r="2.9"/>
<circle class="N" cx="1226.3" cy="419.7" r="2.9"/>
<circle class="N" cx="1503.3" cy="334.6" r="2.9"/>
<circle class="N" cx="889.0" cy="250.5" r="2.9"/>
<circle class="P" cx="1792.4" cy="443.4" r="2.9"/>
<circle class="P" cx="1858.9" cy="420.6" r="2.9"/>
<circle class="N" cx="1445.2" cy="339.6" r="2.9"/>
<circle class="N" cx="1429.6" cy="365.8" r="2.9"/>
<circle class="N" cx="2065.6" cy="331.8" r="2.9"/>
<circle class="N" cx="876.4" cy="190.8" r="2.9"/>
<circle class="B" cx="647.7" cy="402.0" r="2.9"/>
<circle class="B" cx="1222.8" cy="448.1" r="2.9"/>
<circle class="P" cx="810.8" cy="400.7" r="2.9"/>
<circle class="B" cx="1757.1" cy="442.8" r="2.9"/>
<circle class="P" cx="782.7" cy="438.8" r="2.9"/>
<circle class="P" cx="296.6" cy="293.8" r="2.9"/>
<circle class="N" cx="1961.1" cy="330.2" r="2.9"/>
<circle class="N" cx="1368.6" cy="347.9" r="2.9"/>
<circle class="B" cx="1195.9" cy="448.6" r="2.9"/>
<circle class="P" cx="736.4" cy="425.7" r="2.9"/>
<circle class="N" cx="1412.2" cy="395.0" r="2.9"/>
<circle class="P" cx="1296.9" cy="441.6" r="2.9"/>
<circle class="B" cx="638.1" cy="423.9" r="2.9"/>
<circle class="D" cx="89.8" cy="435.0" r="2.9"/>
<circle class="N" cx="1541.4" cy="374.8" r="2.9"/>
<circle class="N" cx="1435.7" cy="251.3" r="2.9"/>
<circle class="N" cx="2102.0" cy="109.0" r="2.9"/>
<circle class="N" cx="290.1" cy="147.0" r="2.9"/>
<circle class="P" cx="1391.8" cy="412.6" r="2.9"/>
<circle class="N" cx="1433.1" cy="292.0" r="2.9"/>
<circle class="N" cx="1356.9" cy="284.7" r="2.9"/>
<circle class="P" cx="838.3" cy="399.9" r="2.9"/>
<circle class="N" cx="909.2" cy="229.9" r="2.9"/>
<circle class="P" cx="1859.2" cy="435.9" r="2.9"/>
<circle class="B" cx="643.0" cy="426.0" r="2.9"/>
<circle class="P" cx="203.8" cy="367.9" r="2.9"/>
<circle class="N" cx="681.2" cy="370.7" r="2.9"/>
<circle class="N" cx="959.0" cy="240.3" r="2.9"/>
<circle class="N" cx="881.2" cy="148.5" r="2.9"/>
<circle class="P" cx="1837.7" cy="422.2" r="2.9"/>
<circle class="N" cx="942.0" cy="202.7" r="2.9"/>
<circle class="N" cx="2023.5" cy="126.6" r="2.9"/>
<circle class="N" cx="372.9" cy="195.0" r="2.9"/>
<circle class="N" cx="1482.5" cy="395.8" r="2.9"/>
<circle class="N" cx="1225.3" cy="402.2" r="2.9"/>
<circle class="N" cx="1962.5" cy="379.3" r="2.9"/>
<circle class="N" cx="1327.9" cy="277.7" r="2.9"/>
<circle class="P" cx="162.8" cy="439.7" r="2.9"/>
<circle class="N" cx="2020.9" cy="295.3" r="2.9"/>
<circle class="N" cx="2067.8" cy="307.1" r="2.9"/>
<circle class="N" cx="1911.8" cy="385.5" r="2.9"/>
<circle class="P" cx="881.4" cy="354.1" r="2.9"/>
<circle class="P" cx="1852.7" cy="392.8" r="2.9"/>
<circle class="P" cx="352.7" cy="304.1" r="2.9"/>
<circle class="A" cx="66.6" cy="434.3" r="2.9"/>
<circle class="P" cx="1966.8" cy="335.5" r="2.9"/>
<circle class="N" cx="1195.2" cy="426.0" r="2.9"/>
<circle class="N" cx="863.8" cy="190.0" r="2.9"/>
<circle class="N" cx="1917.5" cy="346.7" r="2.9"/>
<circle class="N" cx="1204.8" cy="398.0" r="2.9"/>
<circle class="N" cx="144.8" cy="265.4" r="2.9"/>
<circle class="N" cx="1409.0" cy="316.1" r="2.9"/>
<circle class="P" cx="1862.6" cy="404.6" r="2.9"/>
<circle class="N" cx="1505.6" cy="416.1" r="2.9"/>
<circle class="N" cx="1990.3" cy="411.3" r="2.9"/>
<circle class="N" cx="1278.9" cy="325.7" r="2.9"/>
<circle class="B" cx="84.5" cy="447.4" r="2.9"/>
<circle class="N" cx="793.8" cy="95.1" r="2.9"/>
<circle class="N" cx="793.0" cy="202.7" r="2.9"/>
<circle class="N" cx="216.0" cy="148.9" r="2.9"/>
<circle class="P" cx="778.0" cy="440.5" r="2.9"/>
<circle class="N" cx="791.1" cy="114.2" r="2.9"/>
<circle class="N" cx="1481.9" cy="352.4" r="2.9"/>
<circle class="N" cx="1466.0" cy="403.8" r="2.9"/>
<circle class="P" cx="787.2" cy="402.9" r="2.9"/>
<circle class="N" cx="660.9" cy="348.5" r="2.9"/>
<circle class="P" cx="197.8" cy="328.6" r="2.9"/>
<circle class="P" cx="1918.1" cy="340.0" r="2.9"/>
<circle class="B" cx="645.2" cy="448.0" r="2.9"/>
<circle class="N" cx="671.7" cy="377.9" r="2.9"/>
<circle class="N" cx="1793.2" cy="447.4" r="2.9"/>
<circle class="N" cx="2106.3" cy="268.1" r="2.9"/>
<circle class="N" cx="117.6" cy="259.6" r="2.9"/>
<circle class="P" cx="1853.2" cy="415.4" r="2.9"/>
<circle class="N" cx="1910.7" cy="335.6" r="2.9"/>
<circle class="B" cx="1770.7" cy="433.8" r="2.9"/>
<circle class="N" cx="1220.2" cy="395.2" r="2.9"/>
<circle class="B" cx="636.1" cy="405.6" r="2.9"/>
<circle class="N" cx="1519.0" cy="376.0" r="2.9"/>
<circle class="N" cx="1558.3" cy="340.6" r="2.9"/>
<circle class="P" cx="826.4" cy="374.9" r="2.9"/>
<circle class="N" cx="840.4" cy="175.8" r="2.9"/>
<circle class="P" cx="1888.9" cy="398.6" r="2.9"/>
<circle class="P" cx="788.5" cy="448.3" r="2.9"/>
<circle class="N" cx="689.7" cy="311.1" r="2.9"/>
<circle class="N" cx="401.2" cy="222.5" r="2.9"/>
<circle class="B" cx="63.4" cy="456.2" r="2.9"/>
<circle class="P" cx="757.7" cy="439.9" r="2.9"/>
<circle class="P" cx="1887.9" cy="438.5" r="2.9"/>
<circle class="A" cx="1256.3" cy="442.3" r="2.9"/>
<circle class="P" cx="195.1" cy="371.9" r="2.9"/>
<circle class="N" cx="717.2" cy="254.4" r="2.9"/>
<circle class="B" cx="667.3" cy="435.2" r="2.9"/>
<circle class="N" cx="2121.1" cy="209.2" r="2.9"/>
<circle class="N" cx="317.8" cy="173.8" r="2.9"/>
<circle class="N" cx="352.8" cy="166.4" r="2.9"/>
<circle class="N" cx="1238.6" cy="400.4" r="2.9"/>
<circle class="N" cx="352.9" cy="158.0" r="2.9"/>
<circle class="N" cx="1452.1" cy="296.4" r="2.9"/>
<circle class="P" cx="1374.7" cy="448.8" r="2.9"/>
<circle class="P" cx="310.2" cy="323.9" r="2.9"/>
<circle class="N" cx="1472.5" cy="363.8" r="2.9"/>
<circle class="N" cx="2123.0" cy="241.1" r="2.9"/>
<circle class="N" cx="662.7" cy="354.9" r="2.9"/>
<circle class="N" cx="940.6" cy="223.7" r="2.9"/>
<circle class="N" cx="2098.9" cy="240.2" r="2.9"/>
<circle class="N" cx="816.5" cy="217.9" r="2.9"/>
<circle class="N" cx="1491.3" cy="414.7" r="2.9"/>
<circle class="A" cx="1773.3" cy="410.7" r="2.9"/>
<circle class="A" cx="649.4" cy="415.9" r="2.9"/>
<circle class="P" cx="1923.4" cy="341.3" r="2.9"/>
<circle class="P" cx="172.0" cy="339.5" r="2.9"/>
<circle class="N" cx="1519.8" cy="360.5" r="2.9"/>
<circle class="N" cx="310.0" cy="121.2" r="2.9"/>
<circle class="N" cx="1981.9" cy="378.2" r="2.9"/>
<circle class="N" cx="1210.0" cy="412.6" r="2.9"/>
<circle class="N" cx="273.5" cy="147.7" r="2.9"/>
<circle class="N" cx="2070.3" cy="176.4" r="2.9"/>
<circle class="N" cx="1211.6" cy="395.8" r="2.9"/>
<circle class="N" cx="859.6" cy="215.8" r="2.9"/>
<circle class="N" cx="1592.2" cy="341.0" r="2.9"/>
<circle class="N" cx="141.2" cy="202.7" r="2.9"/>
<circle class="N" cx="1195.0" cy="410.1" r="2.9"/>
<circle class="N" cx="372.4" cy="119.7" r="2.9"/>
<circle class="N" cx="1333.2" cy="272.9" r="2.9"/>
<circle class="N" cx="1409.4" cy="197.0" r="2.9"/>
<circle class="P" cx="1879.0" cy="415.8" r="2.9"/>
<circle class="N" cx="2107.6" cy="267.4" r="2.9"/>
<circle class="N" cx="1236.4" cy="327.0" r="2.9"/>
<circle class="N" cx="799.0" cy="152.7" r="2.9"/>
<circle class="D" cx="1798.7" cy="444.8" r="2.9"/>
<circle class="P" cx="630.4" cy="458.5" r="2.9"/>
<circle class="P" cx="126.0" cy="427.8" r="2.9"/>
<circle class="N" cx="2029.3" cy="263.6" r="2.9"/>
<circle class="N" cx="2080.5" cy="329.1" r="2.9"/>
<circle class="N" cx="938.0" cy="223.6" r="2.9"/>
<circle class="N" cx="1216.5" cy="363.5" r="2.9"/>
<circle class="N" cx="1235.7" cy="385.2" r="2.9"/>
<circle class="P" cx="1978.9" cy="345.3" r="2.9"/>
<circle class="N" cx="85.1" cy="431.7" r="2.9"/>
<circle class="N" cx="285.1" cy="202.8" r="2.9"/>
<circle class="N" cx="2095.9" cy="296.3" r="2.9"/>
<circle class="N" cx="70.5" cy="435.6" r="2.9"/>
<circle class="N" cx="2051.1" cy="278.3" r="2.9"/>
<circle class="N" cx="901.7" cy="235.5" r="2.9"/>
<circle class="N" cx="115.0" cy="329.5" r="2.9"/>
<circle class="N" cx="2019.4" cy="249.7" r="2.9"/>
<circle class="N" cx="1472.2" cy="392.0" r="2.9"/>
<circle class="N" cx="386.8" cy="128.8" r="2.9"/>
<circle class="N" cx="1977.7" cy="356.9" r="2.9"/>
<circle class="P" cx="220.1" cy="384.7" r="2.9"/>
<circle class="N" cx="2037.1" cy="240.7" r="2.9"/>
<circle class="D" cx="1812.9" cy="428.5" r="2.9"/>
<circle class="P" cx="1407.3" cy="406.8" r="2.9"/>
<circle class="N" cx="2040.8" cy="287.3" r="2.9"/>
<circle class="P" cx="1298.7" cy="439.7" r="2.9"/>
<circle class="P" cx="222.7" cy="244.5" r="2.9"/>
<circle class="N" cx="928.5" cy="137.4" r="2.9"/>
<circle class="P" cx="385.6" cy="288.4" r="2.9"/>
<circle class="B" cx="627.2" cy="428.9" r="2.9"/>
<circle class="N" cx="945.5" cy="146.3" r="2.9"/>
<circle class="P" cx="773.9" cy="431.0" r="2.9"/>
<circle class="N" cx="1443.4" cy="409.2" r="2.9"/>
<circle class="N" cx="2043.9" cy="365.8" r="2.9"/>
<circle class="N" cx="938.1" cy="85.9" r="2.9"/>
<circle class="P" cx="1886.4" cy="366.1" r="2.9"/>
<circle class="P" cx="1408.9" cy="439.8" r="2.9"/>
<circle class="B" cx="1799.8" cy="422.6" r="2.9"/>
<circle class="N" cx="2044.4" cy="374.2" r="2.9"/>
<circle class="B" cx="683.4" cy="453.8" r="2.9"/>
<circle class="N" cx="2144.2" cy="224.2" r="2.9"/>
<circle class="P" cx="1873.3" cy="378.0" r="2.9"/>
<circle class="N" cx="262.4" cy="154.6" r="2.9"/>
<circle class="N" cx="756.6" cy="134.5" r="2.9"/>
<circle class="N" cx="1530.5" cy="336.9" r="2.9"/>
<circle class="N" cx="148.0" cy="224.3" r="2.9"/>
<circle class="P" cx="727.4" cy="426.7" r="2.9"/>
<circle class="N" cx="994.6" cy="133.3" r="2.9"/>
<circle class="P" cx="820.1" cy="386.6" r="2.9"/>
<circle class="N" cx="1495.9" cy="353.8" r="2.9"/>
<circle class="B" cx="651.7" cy="406.6" r="2.9"/>
<circle class="N" cx="1973.0" cy="335.1" r="2.9"/>
<circle class="N" cx="218.8" cy="156.5" r="2.9"/>
<circle class="N" cx="2106.7" cy="260.8" r="2.9"/>
<circle class="P" cx="808.8" cy="421.0" r="2.9"/>
<circle class="N" cx="2161.5" cy="219.0" r="2.9"/>
<circle class="P" cx="184.5" cy="354.7" r="2.9"/>
<circle class="N" cx="944.1" cy="247.8" r="2.9"/>
<circle class="N" cx="2003.9" cy="387.4" r="2.9"/>
<circle class="P" cx="314.8" cy="273.9" r="2.9"/>
<circle class="B" cx="109.9" cy="437.1" r="2.9"/>
<circle class="P" cx="1872.8" cy="404.0" r="2.9"/>
<circle class="P" cx="1864.5" cy="432.1" r="2.9"/>
<circle class="N" cx="360.5" cy="158.1" r="2.9"/>
<circle class="N" cx="2081.6" cy="287.9" r="2.9"/>
<circle class="P" cx="833.9" cy="337.2" r="2.9"/>
<circle class="B" cx="1834.5" cy="407.3" r="2.9"/>
<circle class="A" cx="103.8" cy="443.2" r="2.9"/>
<circle class="N" cx="859.6" cy="292.0" r="2.9"/>
<circle class="N" cx="209.3" cy="97.7" r="2.9"/>
<circle class="N" cx="190.7" cy="234.3" r="2.9"/>
<circle class="P" cx="891.0" cy="425.0" r="2.9"/>
<circle class="N" cx="284.6" cy="163.4" r="2.9"/>
<circle class="N" cx="297.7" cy="121.1" r="2.9"/>
<circle class="N" cx="1927.6" cy="428.1" r="2.9"/>
<circle class="N" cx="93.2" cy="290.2" r="2.9"/>
<circle class="P" cx="1372.3" cy="443.3" r="2.9"/>
<circle class="A" cx="1230.6" cy="459.9" r="2.9"/>
<circle class="N" cx="2076.1" cy="311.7" r="2.9"/>
<circle class="N" cx="1392.5" cy="240.2" r="2.9"/>
<circle class="N" cx="990.6" cy="215.5" r="2.9"/>
<circle class="P" cx="281.7" cy="264.9" r="2.9"/>
<circle class="A" cx="676.9" cy="458.5" r="2.9"/>
<circle class="P" cx="810.0" cy="430.5" r="2.9"/>
<circle class="P" cx="1448.2" cy="447.6" r="2.9"/>
<circle class="N" cx="1964.1" cy="365.1" r="2.9"/>
<circle class="N" cx="123.4" cy="270.3" r="2.9"/>
<circle class="P" cx="825.5" cy="363.1" r="2.9"/>
<circle class="N" cx="1244.4" cy="413.9" r="2.9"/>
<circle class="P" cx="1851.6" cy="397.4" r="2.9"/>
<circle class="N" cx="939.9" cy="184.9" r="2.9"/>
<circle class="N" cx="218.9" cy="245.1" r="2.9"/>
<circle class="D" cx="678.6" cy="414.7" r="2.9"/>
<circle class="N" cx="1403.1" cy="219.5" r="2.9"/>
<circle class="N" cx="170.4" cy="219.2" r="2.9"/>
<circle class="P" cx="218.8" cy="308.4" r="2.9"/>
<circle class="P" cx="1855.2" cy="445.5" r="2.9"/>
<circle class="P" cx="1836.2" cy="420.1" r="2.9"/>
<circle class="P" cx="731.9" cy="427.0" r="2.9"/>
<circle class="P" cx="256.0" cy="352.3" r="2.9"/>
<circle class="N" cx="974.9" cy="231.1" r="2.9"/>
<circle class="P" cx="179.1" cy="326.0" r="2.9"/>
<circle class="P" cx="756.4" cy="427.9" r="2.9"/>
<circle class="N" cx="2031.6" cy="390.9" r="2.9"/>
<circle class="N" cx="1227.4" cy="399.4" r="2.9"/>
<circle class="N" cx="931.5" cy="200.8" r="2.9"/>
<circle class="N" cx="1283.2" cy="244.2" r="2.9"/>
<circle class="B" cx="1813.9" cy="397.0" r="2.9"/>
<circle class="N" cx="1435.4" cy="213.8" r="2.9"/>
<circle class="N" cx="1393.5" cy="121.0" r="2.9"/>
<circle class="B" cx="1192.6" cy="444.9" r="2.9"/>
<circle class="N" cx="1419.7" cy="206.9" r="2.9"/>
<circle class="A" cx="1825.6" cy="426.1" r="2.9"/>
<circle class="P" cx="748.8" cy="442.9" r="2.9"/>
<circle class="P" cx="131.5" cy="440.4" r="2.9"/>
<circle class="B" cx="1798.2" cy="393.1" r="2.9"/>
<circle class="N" cx="1478.9" cy="337.6" r="2.9"/>
<circle class="N" cx="836.4" cy="237.2" r="2.9"/>
<circle class="N" cx="2073.1" cy="277.9" r="2.9"/>
<circle class="N" cx="1512.2" cy="321.6" r="2.9"/>
<circle class="N" cx="954.2" cy="237.4" r="2.9"/>
<circle class="B" cx="1800.0" cy="407.1" r="2.9"/>
<circle class="N" cx="1970.4" cy="360.7" r="2.9"/>
<circle class="N" cx="321.6" cy="153.7" r="2.9"/>
<circle class="N" cx="2030.2" cy="342.2" r="2.9"/>
<circle class="N" cx="296.6" cy="122.9" r="2.9"/>
<circle class="N" cx="1464.2" cy="242.5" r="2.9"/>
<circle class="P" cx="1840.1" cy="402.1" r="2.9"/>
<circle class="B" cx="1817.6" cy="430.9" r="2.9"/>
<circle class="N" cx="2058.6" cy="319.1" r="2.9"/>
<circle class="N" cx="1001.8" cy="152.1" r="2.9"/>
<circle class="P" cx="1360.0" cy="442.8" r="2.9"/>
<circle class="N" cx="330.1" cy="100.1" r="2.9"/>
<circle class="P" cx="250.0" cy="349.8" r="2.9"/>
<circle class="N" cx="2117.1" cy="225.3" r="2.9"/>
<circle class="P" cx="182.6" cy="322.2" r="2.9"/>
<circle class="P" cx="255.3" cy="294.5" r="2.9"/>
<circle class="P" cx="1870.1" cy="393.9" r="2.9"/>
<circle class="A" cx="1805.8" cy="444.7" r="2.9"/>
<circle class="N" cx="393.2" cy="164.8" r="2.9"/>
<circle class="N" cx="1520.8" cy="323.7" r="2.9"/>
<circle class="N" cx="1234.1" cy="337.5" r="2.9"/>
<circle class="P" cx="1355.3" cy="428.7" r="2.9"/>
<circle class="P" cx="143.7" cy="451.6" r="2.9"/>
<circle class="N" cx="352.3" cy="218.3" r="2.9"/>
<circle class="N" cx="909.1" cy="159.4" r="2.9"/>
<circle class="N" cx="2039.4" cy="288.5" r="2.9"/>
<circle class="N" cx="1998.9" cy="416.0" r="2.9"/>
<circle class="N" cx="930.3" cy="185.3" r="2.9"/>
<circle class="P" cx="181.8" cy="410.2" r="2.9"/>
<circle class="N" cx="799.3" cy="158.0" r="2.9"/>
<circle class="N" cx="884.5" cy="261.5" r="2.9"/>
<circle class="N" cx="1399.5" cy="307.7" r="2.9"/>
<circle class="N" cx="2016.7" cy="282.2" r="2.9"/>
<circle class="N" cx="1261.6" cy="374.6" r="2.9"/>
<circle class="P" cx="134.5" cy="413.7" r="2.9"/>
<circle class="P" cx="720.1" cy="436.7" r="2.9"/>
<circle class="P" cx="1855.7" cy="423.5" r="2.9"/>
<circle class="N" cx="1451.7" cy="394.0" r="2.9"/>
<circle class="N" cx="1518.2" cy="292.8" r="2.9"/>
<circle class="N" cx="2000.5" cy="380.8" r="2.9"/>
<circle class="N" cx="1567.4" cy="325.0" r="2.9"/>
<circle class="N" cx="1279.2" cy="267.0" r="2.9"/>
<circle class="N" cx="1998.7" cy="179.2" r="2.9"/>
<circle class="P" cx="141.7" cy="446.2" r="2.9"/>
<circle class="N" cx="335.6" cy="74.2" r="2.9"/>
<circle class="N" cx="2099.4" cy="194.2" r="2.9"/>
<circle class="N" cx="1274.4" cy="246.0" r="2.9"/>
<circle class="N" cx="778.9" cy="192.5" r="2.9"/>
<circle class="N" cx="1433.9" cy="220.5" r="2.9"/>
<circle class="N" cx="1412.7" cy="360.9" r="2.9"/>
<circle class="N" cx="950.3" cy="155.1" r="2.9"/>
<circle class="N" cx="64.3" cy="409.5" r="2.9"/>
<circle class="N" cx="925.4" cy="168.3" r="2.9"/>
<circle class="D" cx="1789.6" cy="431.9" r="2.9"/>
<circle class="N" cx="948.6" cy="239.0" r="2.9"/>
<circle class="A" cx="1221.9" cy="455.9" r="2.9"/>
<circle class="N" cx="1448.2" cy="362.8" r="2.9"/>
<circle class="N" cx="689.3" cy="321.1" r="2.9"/>
<circle class="N" cx="2077.0" cy="152.8" r="2.9"/>
<circle class="P" cx="1451.5" cy="413.6" r="2.9"/>
<circle class="N" cx="1469.1" cy="418.3" r="2.9"/>
<circle class="P" cx="222.2" cy="401.4" r="2.9"/>
<circle class="P" cx="1417.3" cy="446.0" r="2.9"/>
<circle class="N" cx="885.4" cy="272.4" r="2.9"/>
<circle class="P" cx="749.6" cy="435.2" r="2.9"/>
<circle class="N" cx="103.9" cy="322.8" r="2.9"/>
<circle class="N" cx="1306.1" cy="387.1" r="2.9"/>
<circle class="B" cx="1817.5" cy="413.1" r="2.9"/>
<circle class="N" cx="115.8" cy="307.8" r="2.9"/>
<circle class="N" cx="2013.3" cy="371.2" r="2.9"/>
<circle class="P" cx="315.9" cy="329.7" r="2.9"/>
<circle class="P" cx="131.2" cy="428.3" r="2.9"/>
<circle class="N" cx="338.6" cy="182.8" r="2.9"/>
<circle class="P" cx="825.6" cy="430.8" r="2.9"/>
<circle class="N" cx="1998.8" cy="357.0" r="2.9"/>
<circle class="B" cx="1209.5" cy="458.0" r="2.9"/>
<circle class="N" cx="1214.0" cy="391.5" r="2.9"/>
<circle class="N" cx="916.1" cy="172.0" r="2.9"/>
<circle class="P" cx="160.4" cy="409.9" r="2.9"/>
<circle class="N" cx="1514.3" cy="361.7" r="2.9"/>
<circle class="N" cx="1489.8" cy="345.3" r="2.9"/>
<circle class="N" cx="2049.4" cy="215.7" r="2.9"/>
<circle class="P" cx="1289.1" cy="452.9" r="2.9"/>
<circle class="N" cx="289.4" cy="131.0" r="2.9"/>
<circle class="N" cx="2016.2" cy="301.3" r="2.9"/>
<circle class="P" cx="1838.4" cy="453.7" r="2.9"/>
<circle class="P" cx="1868.4" cy="444.8" r="2.9"/>
<circle class="N" cx="2005.8" cy="240.0" r="2.9"/>
<circle class="N" cx="2155.4" cy="234.3" r="2.9"/>
<circle class="N" cx="299.9" cy="107.6" r="2.9"/>
<circle class="N" cx="1219.1" cy="330.1" r="2.9"/>
<circle class="N" cx="1924.4" cy="390.4" r="2.9"/>
<circle class="P" cx="1875.1" cy="412.9" r="2.9"/>
<circle class="N" cx="341.2" cy="161.0" r="2.9"/>
<circle class="N" cx="424.8" cy="203.2" r="2.9"/>
<circle class="N" cx="1471.1" cy="347.9" r="2.9"/>
<circle class="B" cx="1213.6" cy="456.5" r="2.9"/>
<circle class="B" cx="95.4" cy="439.7" r="2.9"/>
<circle class="N" cx="1373.3" cy="309.1" r="2.9"/>
<circle class="N" cx="1953.0" cy="338.2" r="2.9"/>
<circle class="P" cx="667.3" cy="458.5" r="2.9"/>
<circle class="P" cx="211.2" cy="369.8" r="2.9"/>
<circle class="P" cx="760.4" cy="405.8" r="2.9"/>
<circle class="N" cx="326.6" cy="94.5" r="2.9"/>
<circle class="N" cx="1413.5" cy="193.0" r="2.9"/>
<circle class="N" cx="260.4" cy="141.7" r="2.9"/>
<circle class="N" cx="1826.8" cy="406.2" r="2.9"/>
<circle class="A" cx="1795.6" cy="451.8" r="2.9"/>
<circle class="N" cx="308.3" cy="157.6" r="2.9"/>
<circle class="N" cx="900.4" cy="200.2" r="2.9"/>
<circle class="N" cx="924.8" cy="132.4" r="2.9"/>
<circle class="P" cx="1967.3" cy="337.3" r="2.9"/>
<circle class="N" cx="1294.2" cy="244.9" r="2.9"/>
<circle class="P" cx="235.8" cy="357.2" r="2.9"/>
<circle class="N" cx="1461.5" cy="401.0" r="2.9"/>
<circle class="N" cx="89.5" cy="398.9" r="2.9"/>
<circle class="N" cx="1995.8" cy="420.6" r="2.9"/>
<circle class="P" cx="267.1" cy="303.0" r="2.9"/>
<circle class="N" cx="1529.6" cy="342.4" r="2.9"/>
<circle class="N" cx="1221.6" cy="412.6" r="2.9"/>
<circle class="N" cx="298.4" cy="200.8" r="2.9"/>
<circle class="N" cx="1457.6" cy="409.3" r="2.9"/>
<circle class="A" cx="1252.7" cy="447.3" r="2.9"/>
<circle class="N" cx="1365.0" cy="156.0" r="2.9"/>
<circle class="N" cx="2007.9" cy="366.8" r="2.9"/>
<circle class="N" cx="1480.1" cy="377.5" r="2.9"/>
<circle class="A" cx="1202.8" cy="446.2" r="2.9"/>
<circle class="B" cx="1796.5" cy="437.3" r="2.9"/>
<circle class="P" cx="152.1" cy="442.0" r="2.9"/>
<circle class="N" cx="174.0" cy="187.7" r="2.9"/>
<circle class="B" cx="1756.9" cy="407.4" r="2.9"/>
<circle class="N" cx="1245.5" cy="318.6" r="2.9"/>
<circle class="P" cx="1777.1" cy="425.6" r="2.9"/>
<circle class="A" cx="1217.2" cy="451.8" r="2.9"/>
<circle class="A" cx="661.9" cy="458.5" r="2.9"/>
<circle class="P" cx="1882.5" cy="358.7" r="2.9"/>
<circle class="P" cx="1917.0" cy="369.5" r="2.9"/>
<circle class="N" cx="400.2" cy="158.1" r="2.9"/>
<circle class="P" cx="100.6" cy="445.2" r="2.9"/>
<circle class="B" cx="89.6" cy="432.4" r="2.9"/>
<circle class="N" cx="848.6" cy="156.1" r="2.9"/>
<circle class="N" cx="405.5" cy="169.6" r="2.9"/>
<circle class="N" cx="1801.4" cy="429.7" r="2.9"/>
<circle class="N" cx="287.1" cy="159.5" r="2.9"/>
<circle class="A" cx="1787.6" cy="423.3" r="2.9"/>
<circle class="P" cx="253.3" cy="392.3" r="2.9"/>
<circle class="A" cx="72.6" cy="441.8" r="2.9"/>
<circle class="N" cx="920.5" cy="237.4" r="2.9"/>
<circle class="P" cx="151.7" cy="436.9" r="2.9"/>
<circle class="N" cx="797.7" cy="168.4" r="2.9"/>
<circle class="N" cx="1437.2" cy="394.0" r="2.9"/>
<circle class="P" cx="819.2" cy="412.2" r="2.9"/>
<circle class="N" cx="116.2" cy="239.7" r="2.9"/>
<circle class="P" cx="174.2" cy="374.7" r="2.9"/>
<circle class="N" cx="1918.6" cy="315.7" r="2.9"/>
<circle class="N" cx="1214.8" cy="346.5" r="2.9"/>
<circle class="N" cx="2081.3" cy="248.0" r="2.9"/>
<circle class="P" cx="800.8" cy="422.0" r="2.9"/>
<circle class="N" cx="671.2" cy="381.6" r="2.9"/>
<circle class="P" cx="776.4" cy="444.6" r="2.9"/>
<circle class="P" cx="128.4" cy="415.5" r="2.9"/>
<circle class="B" cx="635.5" cy="435.5" r="2.9"/>
<circle class="N" cx="1453.0" cy="378.5" r="2.9"/>
<circle class="N" cx="333.8" cy="126.0" r="2.9"/>
<circle class="N" cx="1252.6" cy="419.5" r="2.9"/>
<circle class="N" cx="2044.9" cy="339.9" r="2.9"/>
<circle class="N" cx="1505.7" cy="338.5" r="2.9"/>
<circle class="P" cx="1301.4" cy="452.8" r="2.9"/>
<circle class="P" cx="852.0" cy="248.0" r="2.9"/>
<circle class="N" cx="910.7" cy="297.3" r="2.9"/>
<circle class="P" cx="1414.4" cy="448.5" r="2.9"/>
<circle class="N" cx="337.5" cy="118.8" r="2.9"/>
<circle class="N" cx="1974.0" cy="412.6" r="2.9"/>
<circle class="P" cx="135.7" cy="421.6" r="2.9"/>
<circle class="N" cx="1346.3" cy="237.0" r="2.9"/>
<circle class="B" cx="98.4" cy="432.1" r="2.9"/>
<circle class="P" cx="143.3" cy="430.0" r="2.9"/>
<circle class="N" cx="1493.1" cy="366.1" r="2.9"/>
<circle class="P" cx="799.7" cy="383.5" r="2.9"/>
<circle class="N" cx="1416.5" cy="232.1" r="2.9"/>
<circle class="N" cx="1269.5" cy="310.5" r="2.9"/>
<circle class="N" cx="2088.9" cy="205.0" r="2.9"/>
<circle class="N" cx="1508.8" cy="378.8" r="2.9"/>
<circle class="N" cx="972.8" cy="126.3" r="2.9"/>
<circle class="N" cx="2048.7" cy="273.7" r="2.9"/>
<circle class="N" cx="2066.1" cy="260.5" r="2.9"/>
<circle class="N" cx="406.1" cy="262.5" r="2.9"/>
<circle class="N" cx="2034.9" cy="370.1" r="2.9"/>
<circle class="N" cx="2049.8" cy="291.6" r="2.9"/>
<circle class="N" cx="966.1" cy="173.2" r="2.9"/>
<circle class="N" cx="1940.9" cy="232.4" r="2.9"/>
<circle class="N" cx="941.9" cy="159.0" r="2.9"/>
<circle class="P" cx="244.9" cy="337.9" r="2.9"/>
<circle class="N" cx="1445.6" cy="407.3" r="2.9"/>
<circle class="N" cx="880.6" cy="144.6" r="2.9"/>
<circle class="A" cx="743.6" cy="458.5" r="2.9"/>
<circle class="N" cx="1430.0" cy="399.8" r="2.9"/>
<circle class="N" cx="880.7" cy="284.8" r="2.9"/>
<circle class="N" cx="1905.8" cy="376.2" r="2.9"/>
<circle class="A" cx="1268.1" cy="457.7" r="2.9"/>
<circle class="N" cx="900.7" cy="197.1" r="2.9"/>
<circle class="N" cx="774.4" cy="143.8" r="2.9"/>
<circle class="P" cx="840.2" cy="363.1" r="2.9"/>
<circle class="B" cx="675.0" cy="425.1" r="2.9"/>
<circle class="N" cx="409.8" cy="226.0" r="2.9"/>
<circle class="N" cx="1444.2" cy="380.4" r="2.9"/>
<circle class="N" cx="268.2" cy="132.6" r="2.9"/>
<circle class="N" cx="801.0" cy="266.2" r="2.9"/>
<circle class="N" cx="1885.2" cy="395.2" r="2.9"/>
<circle class="N" cx="901.9" cy="204.7" r="2.9"/>
<circle class="P" cx="1963.4" cy="358.3" r="2.9"/>
<circle class="N" cx="2067.9" cy="297.0" r="2.9"/>
<circle class="P" cx="849.2" cy="351.1" r="2.9"/>
<circle class="P" cx="1388.1" cy="431.4" r="2.9"/>
<circle class="P" cx="307.0" cy="344.3" r="2.9"/>
<circle class="N" cx="383.4" cy="132.6" r="2.9"/>
<circle class="P" cx="1412.0" cy="443.3" r="2.9"/>
<circle class="N" cx="1286.6" cy="292.9" r="2.9"/>
<circle class="N" cx="922.3" cy="214.1" r="2.9"/>
<circle class="N" cx="2070.6" cy="183.9" r="2.9"/>
<circle class="P" cx="838.2" cy="409.7" r="2.9"/>
<circle class="N" cx="279.3" cy="198.2" r="2.9"/>
<circle class="P" cx="1954.2" cy="388.0" r="2.9"/>
<circle class="A" cx="99.0" cy="450.5" r="2.9"/>
<circle class="P" cx="807.2" cy="423.0" r="2.9"/>
<circle class="N" cx="970.4" cy="212.2" r="2.9"/>
<circle class="P" cx="160.9" cy="376.1" r="2.9"/>
<circle class="N" cx="923.7" cy="252.7" r="2.9"/>
<circle class="P" cx="747.8" cy="420.2" r="2.9"/>
<circle class="N" cx="937.8" cy="252.5" r="2.9"/>
<circle class="D" cx="68.0" cy="448.4" r="2.9"/>
<circle class="N" cx="1282.3" cy="248.1" r="2.9"/>
<circle class="N" cx="159.1" cy="195.6" r="2.9"/>
<circle class="P" cx="1983.5" cy="360.6" r="2.9"/>
<circle class="N" cx="363.7" cy="177.5" r="2.9"/>
<circle class="P" cx="1914.1" cy="386.8" r="2.9"/>
<circle class="N" cx="167.4" cy="166.4" r="2.9"/>
<circle class="N" cx="1418.0" cy="150.0" r="2.9"/>
<circle class="N" cx="310.4" cy="110.7" r="2.9"/>
<circle class="N" cx="893.2" cy="211.7" r="2.9"/>
<circle class="P" cx="183.3" cy="410.7" r="2.9"/>
<circle class="P" cx="1285.6" cy="427.4" r="2.9"/>
<circle class="P" cx="862.0" cy="315.0" r="2.9"/>
<circle class="P" cx="141.5" cy="426.3" r="2.9"/>
<circle class="P" cx="756.9" cy="434.6" r="2.9"/>
<circle class="N" cx="893.1" cy="137.0" r="2.9"/>
<circle class="N" cx="1239.5" cy="370.7" r="2.9"/>
<circle class="N" cx="395.0" cy="219.9" r="2.9"/>
<circle class="A" cx="632.2" cy="444.3" r="2.9"/>
<circle class="N" cx="1310.0" cy="182.0" r="2.9"/>
<circle class="P" cx="682.8" cy="458.5" r="2.9"/>
<circle class="P" cx="1354.6" cy="434.1" r="2.9"/>
<circle class="P" cx="1835.0" cy="400.9" r="2.9"/>
<circle class="A" cx="1757.1" cy="422.9" r="2.9"/>
<circle class="N" cx="161.4" cy="257.4" r="2.9"/>
<circle class="P" cx="901.6" cy="369.6" r="2.9"/>
<circle class="N" cx="2117.9" cy="193.4" r="2.9"/>
<circle class="N" cx="331.8" cy="149.3" r="2.9"/>
<circle class="P" cx="785.9" cy="407.4" r="2.9"/>
<circle class="D" cx="1192.2" cy="443.7" r="2.9"/>
<circle class="N" cx="347.8" cy="132.3" r="2.9"/>
<circle class="P" cx="195.7" cy="349.0" r="2.9"/>
<circle class="P" cx="707.2" cy="447.2" r="2.9"/>
<circle class="N" cx="1968.2" cy="301.5" r="2.9"/>
<circle class="B" cx="109.8" cy="455.8" r="2.9"/>
<circle class="P" cx="282.4" cy="295.7" r="2.9"/>
<circle class="P" cx="1954.5" cy="359.1" r="2.9"/>
<circle class="N" cx="1495.6" cy="332.5" r="2.9"/>
<circle class="N" cx="98.9" cy="305.8" r="2.9"/>
<circle class="N" cx="127.4" cy="325.5" r="2.9"/>
<circle class="N" cx="1394.8" cy="362.3" r="2.9"/>
<circle class="P" cx="225.1" cy="380.1" r="2.9"/>
<circle class="N" cx="344.3" cy="110.8" r="2.9"/>
<circle class="N" cx="2025.7" cy="249.6" r="2.9"/>
<circle class="P" cx="182.7" cy="404.4" r="2.9"/>
<circle class="N" cx="1287.7" cy="280.6" r="2.9"/>
<circle class="N" cx="1431.3" cy="367.5" r="2.9"/>
<circle class="P" cx="1288.5" cy="433.3" r="2.9"/>
<circle class="P" cx="165.8" cy="412.4" r="2.9"/>
<circle class="P" cx="294.2" cy="315.6" r="2.9"/>
<circle class="P" cx="150.6" cy="416.7" r="2.9"/>
<circle class="B" cx="688.9" cy="440.7" r="2.9"/>
<circle class="A" cx="1793.8" cy="397.8" r="2.9"/>
<circle class="N" cx="281.1" cy="125.8" r="2.9"/>
<circle class="N" cx="224.7" cy="266.8" r="2.9"/>
<circle class="P" cx="1341.5" cy="454.9" r="2.9"/>
<circle class="A" cx="1784.6" cy="399.4" r="2.9"/>
<circle class="N" cx="330.2" cy="167.6" r="2.9"/>
<circle class="N" cx="310.9" cy="118.9" r="2.9"/>
<circle class="P" cx="1317.9" cy="435.8" r="2.9"/>
<circle class="N" cx="1924.0" cy="320.3" r="2.9"/>
<circle class="N" cx="2009.9" cy="318.5" r="2.9"/>
<circle class="A" cx="73.6" cy="443.9" r="2.9"/>
<circle class="P" cx="203.1" cy="371.7" r="2.9"/>
<circle class="P" cx="1288.6" cy="436.2" r="2.9"/>
<circle class="N" cx="364.2" cy="199.6" r="2.9"/>
<circle class="N" cx="2012.9" cy="189.8" r="2.9"/>
<circle class="N" cx="161.9" cy="174.3" r="2.9"/>
<circle class="P" cx="628.4" cy="415.5" r="2.9"/>
<circle class="N" cx="1966.0" cy="240.6" r="2.9"/>
<circle class="N" cx="349.7" cy="175.6" r="2.9"/>
<circle class="N" cx="2003.7" cy="389.7" r="2.9"/>
<circle class="N" cx="1444.6" cy="248.5" r="2.9"/>
<circle class="N" cx="1210.4" cy="383.6" r="2.9"/>
<circle class="N" cx="1512.4" cy="318.5" r="2.9"/>
<circle class="N" cx="214.7" cy="141.7" r="2.9"/>
<circle class="N" cx="1516.0" cy="312.3" r="2.9"/>
<circle class="P" cx="1374.8" cy="421.2" r="2.9"/>
<circle class="N" cx="387.0" cy="227.5" r="2.9"/>
<circle class="N" cx="2008.7" cy="322.4" r="2.9"/>
<circle class="N" cx="847.1" cy="273.8" r="2.9"/>
<circle class="N" cx="2004.5" cy="415.3" r="2.9"/>
<circle class="P" cx="1383.3" cy="450.8" r="2.9"/>
<circle class="N" cx="314.0" cy="141.5" r="2.9"/>
<circle class="P" cx="783.4" cy="399.2" r="2.9"/>
<circle class="N" cx="1437.8" cy="205.5" r="2.9"/>
<circle class="N" cx="2089.9" cy="244.4" r="2.9"/>
<circle class="B" cx="671.9" cy="399.9" r="2.9"/>
<circle class="N" cx="1278.1" cy="360.1" r="2.9"/>
<circle class="N" cx="751.0" cy="234.2" r="2.9"/>
<circle class="P" cx="841.9" cy="309.6" r="2.9"/>
<circle class="N" cx="2053.4" cy="345.5" r="2.9"/>
<circle class="N" cx="851.3" cy="210.9" r="2.9"/>
<circle class="N" cx="1227.0" cy="398.0" r="2.9"/>
<circle class="N" cx="2002.9" cy="293.8" r="2.9"/>
<circle class="P" cx="828.3" cy="411.6" r="2.9"/>
<circle class="P" cx="1850.9" cy="427.9" r="2.9"/>
<circle class="N" cx="1266.3" cy="254.0" r="2.9"/>
<circle class="N" cx="657.8" cy="405.9" r="2.9"/>
<circle class="B" cx="95.7" cy="448.4" r="2.9"/>
<circle class="N" cx="279.6" cy="207.2" r="2.9"/>
<circle class="P" cx="848.5" cy="381.9" r="2.9"/>
<circle class="A" cx="88.1" cy="430.2" r="2.9"/>
<circle class="N" cx="313.9" cy="116.7" r="2.9"/>
<circle class="N" cx="393.5" cy="188.8" r="2.9"/>
<circle class="P" cx="672.4" cy="458.5" r="2.9"/>
<circle class="P" cx="155.0" cy="421.5" r="2.9"/>
<circle class="N" cx="896.3" cy="228.6" r="2.9"/>
<circle class="N" cx="2064.7" cy="285.5" r="2.9"/>
<circle class="P" cx="174.4" cy="424.0" r="2.9"/>
<circle class="N" cx="1991.9" cy="373.6" r="2.9"/>
<circle class="N" cx="92.4" cy="415.5" r="2.9"/>
<circle class="P" cx="180.0" cy="393.3" r="2.9"/>
<circle class="P" cx="1417.9" cy="422.1" r="2.9"/>
<circle class="N" cx="1221.3" cy="350.4" r="2.9"/>
<circle class="P" cx="749.2" cy="408.3" r="2.9"/>
<circle class="N" cx="919.0" cy="234.6" r="2.9"/>
<circle class="N" cx="794.5" cy="196.5" r="2.9"/>
<circle class="N" cx="184.9" cy="288.8" r="2.9"/>
<circle class="N" cx="1378.0" cy="134.5" r="2.9"/>
<circle class="N" cx="925.2" cy="218.4" r="2.9"/>
<circle class="N" cx="918.3" cy="207.1" r="2.9"/>
<circle class="P" cx="807.2" cy="428.9" r="2.9"/>
<circle class="N" cx="137.9" cy="255.5" r="2.9"/>
<circle class="P" cx="1860.0" cy="446.6" r="2.9"/>
<circle class="N" cx="939.8" cy="253.1" r="2.9"/>
<circle class="B" cx="84.0" cy="457.6" r="2.9"/>
<circle class="P" cx="96.5" cy="447.7" r="2.9"/>
<circle class="P" cx="1371.6" cy="436.4" r="2.9"/>
<circle class="P" cx="144.3" cy="417.8" r="2.9"/>
<circle class="N" cx="1266.5" cy="240.1" r="2.9"/>
<circle class="P" cx="220.3" cy="381.8" r="2.9"/>
<circle class="N" cx="1871.9" cy="400.0" r="2.9"/>
<circle class="N" cx="875.4" cy="254.6" r="2.9"/>
<circle class="N" cx="1409.2" cy="180.8" r="2.9"/>
<circle class="N" cx="2066.4" cy="217.4" r="2.9"/>
<circle class="N" cx="1499.3" cy="354.7" r="2.9"/>
<circle class="P" cx="1916.8" cy="347.5" r="2.9"/>
<circle class="P" cx="1322.3" cy="439.4" r="2.9"/>
<circle class="N" cx="1259.8" cy="275.4" r="2.9"/>
<circle class="N" cx="396.2" cy="224.0" r="2.9"/>
<circle class="N" cx="164.8" cy="179.0" r="2.9"/>
<circle class="N" cx="2158.2" cy="271.2" r="2.9"/>
<circle class="B" cx="677.9" cy="407.2" r="2.9"/>
<circle class="N" cx="353.0" cy="146.3" r="2.9"/>
<circle class="N" cx="2037.5" cy="314.4" r="2.9"/>
<circle class="P" cx="829.8" cy="406.6" r="2.9"/>
<circle class="P" cx="1834.4" cy="421.4" r="2.9"/>
<circle class="N" cx="951.6" cy="199.4" r="2.9"/>
<circle class="N" cx="866.2" cy="239.5" r="2.9"/>
<circle class="N" cx="1452.5" cy="258.3" r="2.9"/>
<circle class="P" cx="259.4" cy="283.1" r="2.9"/>
<circle class="N" cx="1832.2" cy="394.2" r="2.9"/>
<circle class="N" cx="2056.1" cy="286.8" r="2.9"/>
<circle class="P" cx="132.4" cy="450.0" r="2.9"/>
<circle class="P" cx="182.4" cy="416.8" r="2.9"/>
<circle class="N" cx="1445.5" cy="363.8" r="2.9"/>
<circle class="N" cx="1437.5" cy="419.8" r="2.9"/>
<circle class="N" cx="281.7" cy="133.5" r="2.9"/>
<circle class="N" cx="2021.7" cy="257.0" r="2.9"/>
<circle class="P" cx="1855.3" cy="429.5" r="2.9"/>
<circle class="N" cx="887.3" cy="256.5" r="2.9"/>
<circle class="P" cx="1347.2" cy="444.8" r="2.9"/>
<circle class="N" cx="1994.1" cy="381.7" r="2.9"/>
<circle class="N" cx="346.3" cy="149.5" r="2.9"/>
<circle class="N" cx="1256.1" cy="241.0" r="2.9"/>
<circle class="P" cx="1359.7" cy="445.5" r="2.9"/>
<circle class="P" cx="1859.9" cy="381.6" r="2.9"/>
<circle class="N" cx="1436.4" cy="191.6" r="2.9"/>
<circle class="N" cx="942.6" cy="238.8" r="2.9"/>
<circle class="N" cx="1486.0" cy="399.0" r="2.9"/>
<circle class="P" cx="1840.6" cy="415.4" r="2.9"/>
<circle class="N" cx="914.1" cy="77.2" r="2.9"/>
<circle class="P" cx="299.7" cy="287.0" r="2.9"/>
<circle class="N" cx="87.7" cy="392.9" r="2.9"/>
<circle class="N" cx="351.0" cy="147.8" r="2.9"/>
<circle class="B" cx="1834.7" cy="448.2" r="2.9"/>
<circle class="N" cx="129.0" cy="252.7" r="2.9"/>
<circle class="N" cx="812.7" cy="178.5" r="2.9"/>
<circle class="N" cx="935.5" cy="172.7" r="2.9"/>
<circle class="N" cx="102.1" cy="263.7" r="2.9"/>
<circle class="P" cx="174.8" cy="389.6" r="2.9"/>
<circle class="N" cx="934.4" cy="95.5" r="2.9"/>
<circle class="N" cx="775.2" cy="146.4" r="2.9"/>
<circle class="B" cx="1767.8" cy="459.4" r="2.9"/>
<circle class="B" cx="1223.4" cy="448.1" r="2.9"/>
<circle class="N" cx="2089.5" cy="212.2" r="2.9"/>
<circle class="A" cx="1808.2" cy="412.9" r="2.9"/>
<circle class="A" cx="689.7" cy="445.1" r="2.9"/>
<circle class="N" cx="1478.8" cy="338.2" r="2.9"/>
<circle class="N" cx="2081.2" cy="253.7" r="2.9"/>
<circle class="N" cx="911.1" cy="213.8" r="2.9"/>
<circle class="P" cx="1868.3" cy="363.0" r="2.9"/>
<circle class="N" cx="234.9" cy="135.6" r="2.9"/>
<circle class="N" cx="270.0" cy="142.7" r="2.9"/>
<circle class="N" cx="1980.3" cy="335.4" r="2.9"/>
<circle class="N" cx="357.2" cy="136.7" r="2.9"/>
<circle class="N" cx="1514.3" cy="367.5" r="2.9"/>
<circle class="B" cx="1233.0" cy="446.0" r="2.9"/>
<circle class="N" cx="2087.9" cy="326.9" r="2.9"/>
<circle class="N" cx="1895.2" cy="337.5" r="2.9"/>
<circle class="N" cx="133.9" cy="217.0" r="2.9"/>
<circle class="N" cx="216.5" cy="111.0" r="2.9"/>
<circle class="P" cx="219.5" cy="367.6" r="2.9"/>
<circle class="N" cx="1314.1" cy="220.2" r="2.9"/>
<circle class="P" cx="258.0" cy="337.5" r="2.9"/>
<circle class="N" cx="1325.7" cy="191.2" r="2.9"/>
<circle class="P" cx="261.4" cy="313.0" r="2.9"/>
<circle class="N" cx="2102.6" cy="219.5" r="2.9"/>
<circle class="N" cx="406.7" cy="256.3" r="2.9"/>
<circle class="P" cx="191.2" cy="397.3" r="2.9"/>
<circle class="P" cx="833.8" cy="396.2" r="2.9"/>
<circle class="N" cx="897.8" cy="222.3" r="2.9"/>
<circle class="B" cx="665.1" cy="435.7" r="2.9"/>
<circle class="N" cx="953.1" cy="269.4" r="2.9"/>
<circle class="P" cx="1959.6" cy="358.3" r="2.9"/>
<circle class="N" cx="925.5" cy="180.2" r="2.9"/>
<circle class="N" cx="915.7" cy="217.5" r="2.9"/>
<circle class="P" cx="1426.6" cy="421.6" r="2.9"/>
<circle class="N" cx="1997.3" cy="207.2" r="2.9"/>
<circle class="P" cx="842.8" cy="381.2" r="2.9"/>
<circle class="P" cx="291.9" cy="321.1" r="2.9"/>
<circle class="N" cx="780.4" cy="261.5" r="2.9"/>
<circle class="N" cx="2071.7" cy="280.8" r="2.9"/>
<circle class="N" cx="2083.7" cy="344.0" r="2.9"/>
<circle class="N" cx="146.1" cy="224.3" r="2.9"/>
<circle class="P" cx="788.7" cy="388.9" r="2.9"/>
<circle class="N" cx="1997.8" cy="312.6" r="2.9"/>
<circle class="N" cx="1461.3" cy="249.8" r="2.9"/>
<circle class="N" cx="95.8" cy="293.9" r="2.9"/>
<circle class="N" cx="2000.1" cy="354.7" r="2.9"/>
<circle class="N" cx="830.7" cy="144.7" r="2.9"/>
<circle class="P" cx="316.0" cy="271.1" r="2.9"/>
<circle class="N" cx="836.1" cy="80.1" r="2.9"/>
<circle class="D" cx="1765.9" cy="456.5" r="2.9"/>
<circle class="N" cx="1323.1" cy="256.1" r="2.9"/>
<circle class="N" cx="1415.1" cy="247.0" r="2.9"/>
<circle class="N" cx="1975.5" cy="393.1" r="2.9"/>
<circle class="P" cx="293.0" cy="274.5" r="2.9"/>
<circle class="N" cx="234.6" cy="141.0" r="2.9"/>
<circle class="N" cx="118.7" cy="347.9" r="2.9"/>
<circle class="A" cx="76.9" cy="456.7" r="2.9"/>
<circle class="N" cx="1513.8" cy="351.9" r="2.9"/>
<circle class="N" cx="278.6" cy="117.9" r="2.9"/>
<circle class="P" cx="149.3" cy="424.6" r="2.9"/>
<circle class="N" cx="2064.3" cy="223.6" r="2.9"/>
<circle class="N" cx="1462.6" cy="280.0" r="2.9"/>
<circle class="N" cx="887.1" cy="248.8" r="2.9"/>
<circle class="N" cx="1976.7" cy="353.9" r="2.9"/>
<circle class="N" cx="892.9" cy="131.7" r="2.9"/>
<circle class="D" cx="1191.3" cy="440.2" r="2.9"/>
<circle class="N" cx="2065.1" cy="315.5" r="2.9"/>
<circle class="B" cx="1806.6" cy="442.4" r="2.9"/>
<circle class="P" cx="1377.7" cy="425.7" r="2.9"/>
<circle class="N" cx="1486.6" cy="364.7" r="2.9"/>
<circle class="N" cx="2110.9" cy="277.7" r="2.9"/>
<circle class="N" cx="793.6" cy="119.6" r="2.9"/>
<circle class="B" cx="629.1" cy="421.6" r="2.9"/>
<circle class="P" cx="142.0" cy="436.6" r="2.9"/>
<circle class="N" cx="901.2" cy="194.6" r="2.9"/>
<circle class="P" cx="1828.1" cy="444.9" r="2.9"/>
<circle class="N" cx="2037.6" cy="175.1" r="2.9"/>
<circle class="N" cx="2065.7" cy="301.7" r="2.9"/>
<circle class="N" cx="340.1" cy="163.9" r="2.9"/>
<circle class="N" cx="135.1" cy="278.3" r="2.9"/>
<circle class="N" cx="953.5" cy="134.0" r="2.9"/>
<circle class="N" cx="150.5" cy="180.6" r="2.9"/>
<circle class="P" cx="1381.6" cy="421.6" r="2.9"/>
<circle class="D" cx="1803.3" cy="431.7" r="2.9"/>
<circle class="P" cx="1975.4" cy="358.6" r="2.9"/>
<circle class="P" cx="368.2" cy="266.0" r="2.9"/>
<circle class="P" cx="770.5" cy="423.9" r="2.9"/>
<circle class="N" cx="751.6" cy="264.5" r="2.9"/>
<circle class="P" cx="173.4" cy="396.8" r="2.9"/>
<circle class="P" cx="176.7" cy="388.8" r="2.9"/>
<circle class="N" cx="652.1" cy="379.6" r="2.9"/>
<circle class="P" cx="1857.1" cy="410.0" r="2.9"/>
<circle class="N" cx="794.8" cy="123.8" r="2.9"/>
<circle class="N" cx="766.8" cy="180.6" r="2.9"/>
<circle class="N" cx="1270.2" cy="340.4" r="2.9"/>
<circle class="B" cx="665.7" cy="453.7" r="2.9"/>
<circle class="N" cx="737.5" cy="266.0" r="2.9"/>
<circle class="N" cx="878.8" cy="249.2" r="2.9"/>
<circle class="N" cx="1226.9" cy="398.4" r="2.9"/>
<circle class="N" cx="2066.8" cy="346.8" r="2.9"/>
<circle class="N" cx="1523.7" cy="354.1" r="2.9"/>
<circle class="N" cx="1497.0" cy="372.0" r="2.9"/>
<circle class="N" cx="1364.7" cy="291.6" r="2.9"/>
<circle class="N" cx="148.5" cy="274.8" r="2.9"/>
<circle class="A" cx="1263.5" cy="438.8" r="2.9"/>
<circle class="N" cx="1493.0" cy="331.8" r="2.9"/>
<circle class="N" cx="1510.4" cy="343.2" r="2.9"/>
<circle class="N" cx="310.2" cy="125.8" r="2.9"/>
<circle class="N" cx="856.4" cy="269.7" r="2.9"/>
<circle class="N" cx="1511.7" cy="399.3" r="2.9"/>
<circle class="N" cx="150.4" cy="239.3" r="2.9"/>
<circle class="N" cx="1813.7" cy="454.6" r="2.9"/>
<circle class="N" cx="79.2" cy="405.9" r="2.9"/>
<circle class="P" cx="835.1" cy="354.7" r="2.9"/>
<circle class="P" cx="807.5" cy="386.1" r="2.9"/>
<circle class="D" cx="1198.9" cy="460.0" r="2.9"/>
<circle class="P" cx="194.3" cy="382.8" r="2.9"/>
<circle class="N" cx="920.6" cy="221.2" r="2.9"/>
<circle class="N" cx="1478.8" cy="382.1" r="2.9"/>
<circle class="P" cx="1890.8" cy="429.2" r="2.9"/>
<circle class="N" cx="93.5" cy="339.6" r="2.9"/>
<circle class="P" cx="1951.4" cy="381.9" r="2.9"/>
<circle class="N" cx="2080.9" cy="240.9" r="2.9"/>
<circle class="P" cx="1313.7" cy="428.1" r="2.9"/>
<circle class="N" cx="77.9" cy="436.9" r="2.9"/>
<circle class="N" cx="77.4" cy="344.1" r="2.9"/>
<circle class="P" cx="815.8" cy="381.6" r="2.9"/>
<circle class="N" cx="2075.1" cy="311.3" r="2.9"/>
<circle class="P" cx="1270.1" cy="449.5" r="2.9"/>
<circle class="N" cx="1509.9" cy="332.3" r="2.9"/>
<circle class="N" cx="1248.0" cy="325.6" r="2.9"/>
<circle class="N" cx="986.9" cy="183.6" r="2.9"/>
<circle class="P" cx="1426.8" cy="447.0" r="2.9"/>
<circle class="N" cx="895.5" cy="80.2" r="2.9"/>
<circle class="N" cx="2079.0" cy="251.1" r="2.9"/>
<circle class="N" cx="1525.6" cy="358.8" r="2.9"/>
<circle class="N" cx="799.7" cy="64.7" r="2.9"/>
<circle class="N" cx="2124.7" cy="142.5" r="2.9"/>
<circle class="P" cx="784.9" cy="448.7" r="2.9"/>
<circle class="N" cx="306.9" cy="188.4" r="2.9"/>
<circle class="N" cx="365.5" cy="148.2" r="2.9"/>
<circle class="B" cx="639.1" cy="423.7" r="2.9"/>
<circle class="N" cx="126.8" cy="283.2" r="2.9"/>
<circle class="P" cx="1412.4" cy="415.9" r="2.9"/>
<circle class="N" cx="294.9" cy="125.0" r="2.9"/>
<circle class="N" cx="170.9" cy="181.9" r="2.9"/>
<circle class="N" cx="1295.3" cy="241.4" r="2.9"/>
<circle class="D" cx="1808.8" cy="444.6" r="2.9"/>
<circle class="N" cx="95.2" cy="341.7" r="2.9"/>
<circle class="N" cx="1438.5" cy="380.0" r="2.9"/>
<circle class="N" cx="1356.4" cy="297.1" r="2.9"/>
<circle class="P" cx="752.9" cy="442.9" r="2.9"/>
<circle class="N" cx="149.5" cy="209.4" r="2.9"/>
<circle class="D" cx="688.1" cy="451.5" r="2.9"/>
<circle class="N" cx="350.9" cy="124.1" r="2.9"/>
<circle class="N" cx="326.1" cy="226.1" r="2.9"/>
<circle class="N" cx="89.6" cy="288.6" r="2.9"/>
<circle class="N" cx="401.3" cy="188.3" r="2.9"/>
<circle class="N" cx="1274.8" cy="370.3" r="2.9"/>
<circle class="A" cx="1778.7" cy="446.3" r="2.9"/>
<circle class="N" cx="837.7" cy="232.3" r="2.9"/>
<circle class="P" cx="1871.9" cy="372.2" r="2.9"/>
<circle class="P" cx="831.6" cy="321.6" r="2.9"/>
<circle class="P" cx="195.8" cy="317.1" r="2.9"/>
<circle class="P" cx="302.7" cy="312.2" r="2.9"/>
<circle class="P" cx="1427.9" cy="448.9" r="2.9"/>
<circle class="N" cx="2043.0" cy="276.0" r="2.9"/>
<circle class="P" cx="171.2" cy="376.2" r="2.9"/>
<circle class="P" cx="151.9" cy="408.3" r="2.9"/>
<circle class="P" cx="823.0" cy="332.0" r="2.9"/>
<circle class="N" cx="1481.3" cy="375.6" r="2.9"/>
<circle class="N" cx="1359.3" cy="300.9" r="2.9"/>
<circle class="N" cx="1500.2" cy="375.2" r="2.9"/>
<circle class="N" cx="118.1" cy="261.5" r="2.9"/>
<circle class="N" cx="82.8" cy="419.0" r="2.9"/>
<circle class="P" cx="1943.5" cy="352.8" r="2.9"/>
<circle class="P" cx="807.2" cy="362.7" r="2.9"/>
<circle class="P" cx="1416.9" cy="436.5" r="2.9"/>
<circle class="N" cx="274.8" cy="141.1" r="2.9"/>
<circle class="N" cx="892.7" cy="209.6" r="2.9"/>
<circle class="P" cx="1442.2" cy="446.0" r="2.9"/>
<circle class="N" cx="1195.1" cy="423.9" r="2.9"/>
<circle class="A" cx="1780.3" cy="419.1" r="2.9"/>
<circle class="N" cx="971.4" cy="102.8" r="2.9"/>
<circle class="N" cx="747.4" cy="172.3" r="2.9"/>
<circle class="N" cx="272.1" cy="209.6" r="2.9"/>
<circle class="N" cx="1221.8" cy="394.1" r="2.9"/>
<circle class="N" cx="182.4" cy="212.0" r="2.9"/>
<circle class="N" cx="879.4" cy="156.2" r="2.9"/>
<circle class="N" cx="836.0" cy="257.9" r="2.9"/>
<circle class="N" cx="285.3" cy="155.8" r="2.9"/>
<circle class="N" cx="309.0" cy="113.3" r="2.9"/>
<circle class="N" cx="774.1" cy="267.6" r="2.9"/>
<circle class="P" cx="808.1" cy="407.8" r="2.9"/>
<circle class="P" cx="892.1" cy="361.1" r="2.9"/>
<circle class="N" cx="902.4" cy="173.5" r="2.9"/>
<circle class="B" cx="1827.9" cy="415.5" r="2.9"/>
<circle class="P" cx="844.6" cy="320.3" r="2.9"/>
<circle class="N" cx="929.2" cy="186.9" r="2.9"/>
<circle class="N" cx="340.0" cy="148.7" r="2.9"/>
<circle class="B" cx="1815.8" cy="408.2" r="2.9"/>
<circle class="B" cx="70.4" cy="434.1" r="2.9"/>
<circle class="N" cx="946.2" cy="157.4" r="2.9"/>
<circle class="N" cx="2008.7" cy="300.6" r="2.9"/>
<circle class="N" cx="1302.5" cy="211.3" r="2.9"/>
<circle class="N" cx="692.3" cy="262.7" r="2.9"/>
<circle class="N" cx="925.8" cy="198.7" r="2.9"/>
<circle class="P" cx="808.4" cy="379.4" r="2.9"/>
<circle class="P" cx="1277.6" cy="457.7" r="2.9"/>
<circle class="P" cx="1833.1" cy="438.3" r="2.9"/>
<circle class="D" cx="688.4" cy="412.5" r="2.9"/>
<circle class="N" cx="673.7" cy="422.8" r="2.9"/>
<circle class="P" cx="229.8" cy="337.3" r="2.9"/>
<circle class="P" cx="1296.9" cy="427.1" r="2.9"/>
<circle class="P" cx="766.7" cy="429.3" r="2.9"/>
<circle class="N" cx="1211.0" cy="349.6" r="2.9"/>
<circle class="P" cx="843.7" cy="315.6" r="2.9"/>
<circle class="A" cx="1796.6" cy="395.1" r="2.9"/>
<circle class="N" cx="2065.3" cy="253.2" r="2.9"/>
<circle class="N" cx="2083.0" cy="124.0" r="2.9"/>
<circle class="N" cx="2125.0" cy="268.2" r="2.9"/>
<circle class="N" cx="1329.8" cy="181.6" r="2.9"/>
<circle class="P" cx="811.8" cy="373.4" r="2.9"/>
<circle class="P" cx="1880.3" cy="401.7" r="2.9"/>
<circle class="P" cx="853.1" cy="336.5" r="2.9"/>
<circle class="P" cx="928.2" cy="375.9" r="2.9"/>
<circle class="N" cx="1330.9" cy="242.1" r="2.9"/>
<circle class="N" cx="293.7" cy="127.6" r="2.9"/>
<circle class="P" cx="1869.0" cy="367.4" r="2.9"/>
<circle class="D" cx="665.4" cy="415.2" r="2.9"/>
<circle class="P" cx="323.8" cy="310.5" r="2.9"/>
<circle class="P" cx="1965.5" cy="332.1" r="2.9"/>
<circle class="N" cx="881.6" cy="172.5" r="2.9"/>
<circle class="N" cx="1267.0" cy="254.5" r="2.9"/>
<circle class="P" cx="227.9" cy="366.6" r="2.9"/>
<circle class="N" cx="649.8" cy="373.6" r="2.9"/>
<circle class="P" cx="401.8" cy="230.2" r="2.9"/>
<circle class="P" cx="1899.5" cy="416.7" r="2.9"/>
<circle class="N" cx="1247.5" cy="364.4" r="2.9"/>
<circle class="P" cx="1984.2" cy="351.2" r="2.9"/>
<circle class="P" cx="1860.8" cy="400.7" r="2.9"/>
<circle class="N" cx="1446.5" cy="394.4" r="2.9"/>
<circle class="P" cx="1801.2" cy="420.0" r="2.9"/>
<circle class="P" cx="752.2" cy="416.3" r="2.9"/>
<circle class="N" cx="1244.0" cy="394.9" r="2.9"/>
<circle class="N" cx="1327.8" cy="202.2" r="2.9"/>
<circle class="N" cx="112.0" cy="295.6" r="2.9"/>
<circle class="N" cx="2011.7" cy="271.4" r="2.9"/>
<circle class="N" cx="926.4" cy="252.9" r="2.9"/>
<circle class="N" cx="1257.5" cy="368.3" r="2.9"/>
<circle class="N" cx="1996.3" cy="264.8" r="2.9"/>
<circle class="B" cx="89.4" cy="457.0" r="2.9"/>
<circle class="N" cx="2022.0" cy="143.9" r="2.9"/>
<circle class="P" cx="828.3" cy="357.6" r="2.9"/>
<circle class="N" cx="1236.4" cy="380.8" r="2.9"/>
<circle class="N" cx="125.9" cy="293.4" r="2.9"/>
<circle class="D" cx="651.7" cy="407.1" r="2.9"/>
<circle class="N" cx="839.6" cy="221.2" r="2.9"/>
<circle class="P" cx="239.6" cy="339.8" r="2.9"/>
<circle class="N" cx="108.2" cy="354.5" r="2.9"/>
<circle class="A" cx="1256.0" cy="458.3" r="2.9"/>
<circle class="N" cx="1444.3" cy="234.1" r="2.9"/>
<circle class="N" cx="798.6" cy="90.5" r="2.9"/>
<circle class="P" cx="1919.1" cy="378.3" r="2.9"/>
<circle class="N" cx="1264.6" cy="300.5" r="2.9"/>
<circle class="D" cx="72.3" cy="459.2" r="2.9"/>
<circle class="P" cx="112.1" cy="430.9" r="2.9"/>
<circle class="N" cx="2005.0" cy="327.5" r="2.9"/>
<circle class="P" cx="1947.4" cy="352.2" r="2.9"/>
<circle class="P" cx="1356.1" cy="457.6" r="2.9"/>
<circle class="P" cx="790.3" cy="393.4" r="2.9"/>
<circle class="N" cx="928.6" cy="193.4" r="2.9"/>
<circle class="N" cx="371.6" cy="178.3" r="2.9"/>
<circle class="P" cx="771.4" cy="429.9" r="2.9"/>
<circle class="P" cx="869.0" cy="337.7" r="2.9"/>
<circle class="A" cx="1201.6" cy="448.0" r="2.9"/>
<circle class="P" cx="1418.0" cy="415.1" r="2.9"/>
<circle class="N" cx="2003.1" cy="375.2" r="2.9"/>
<circle class="N" cx="2066.9" cy="282.6" r="2.9"/>
<circle class="N" cx="901.8" cy="222.0" r="2.9"/>
<circle class="P" cx="763.2" cy="431.9" r="2.9"/>
<circle class="N" cx="864.0" cy="167.7" r="2.9"/>
<circle class="N" cx="1874.7" cy="346.0" r="2.9"/>
<circle class="N" cx="810.4" cy="265.2" r="2.9"/>
<circle class="N" cx="886.2" cy="247.4" r="2.9"/>
<circle class="P" cx="747.6" cy="430.9" r="2.9"/>
<circle class="P" cx="804.5" cy="433.5" r="2.9"/>
<circle class="N" cx="295.6" cy="227.4" r="2.9"/>
<circle class="N" cx="259.9" cy="173.2" r="2.9"/>
<circle class="N" cx="2030.5" cy="291.0" r="2.9"/>
<circle class="N" cx="1401.3" cy="313.2" r="2.9"/>
<circle class="P" cx="797.6" cy="392.7" r="2.9"/>
<circle class="N" cx="429.1" cy="195.7" r="2.9"/>
<circle class="N" cx="1455.5" cy="355.6" r="2.9"/>
<circle class="P" cx="265.6" cy="347.7" r="2.9"/>
<circle class="B" cx="1757.4" cy="458.4" r="2.9"/>
<circle class="P" cx="787.2" cy="406.7" r="2.9"/>
<circle class="N" cx="250.3" cy="167.2" r="2.9"/>
<circle class="N" cx="698.3" cy="338.5" r="2.9"/>
<circle class="N" cx="1835.2" cy="398.8" r="2.9"/>
<circle class="N" cx="1260.0" cy="354.5" r="2.9"/>
<circle class="N" cx="959.0" cy="195.7" r="2.9"/>
<circle class="N" cx="1505.2" cy="308.0" r="2.9"/>
<circle class="N" cx="141.5" cy="193.9" r="2.9"/>
<circle class="P" cx="390.5" cy="163.6" r="2.9"/>
<circle class="N" cx="634.8" cy="419.6" r="2.9"/>
<circle class="A" cx="667.6" cy="420.9" r="2.9"/>
<circle class="N" cx="828.7" cy="161.0" r="2.9"/>
<circle class="A" cx="1788.3" cy="408.1" r="2.9"/>
<circle class="N" cx="2013.2" cy="353.1" r="2.9"/>
<circle class="N" cx="1382.3" cy="292.0" r="2.9"/>
<circle class="N" cx="2087.0" cy="314.2" r="2.9"/>
<circle class="P" cx="256.1" cy="304.2" r="2.9"/>
<circle class="N" cx="73.0" cy="381.1" r="2.9"/>
<circle class="N" cx="874.6" cy="243.3" r="2.9"/>
<circle class="N" cx="353.6" cy="167.5" r="2.9"/>
<circle class="N" cx="1511.0" cy="329.1" r="2.9"/>
<circle class="N" cx="1528.6" cy="380.4" r="2.9"/>
<circle class="N" cx="1463.3" cy="352.7" r="2.9"/>
<circle class="N" cx="353.5" cy="157.2" r="2.9"/>
<circle class="P" cx="848.2" cy="403.9" r="2.9"/>
<circle class="N" cx="2038.0" cy="321.4" r="2.9"/>
<circle class="N" cx="1427.9" cy="342.1" r="2.9"/>
<circle class="A" cx="1224.5" cy="459.8" r="2.9"/>
<circle class="N" cx="1431.8" cy="370.7" r="2.9"/>
<circle class="P" cx="117.8" cy="439.3" r="2.9"/>
<circle class="N" cx="288.8" cy="107.9" r="2.9"/>
<circle class="N" cx="1268.5" cy="258.7" r="2.9"/>
<circle class="N" cx="1495.9" cy="266.7" r="2.9"/>
<circle class="N" cx="644.9" cy="427.5" r="2.9"/>
<circle class="A" cx="648.2" cy="434.2" r="2.9"/>
<circle class="N" cx="322.1" cy="186.1" r="2.9"/>
<circle class="N" cx="115.0" cy="245.2" r="2.9"/>
<circle class="N" cx="2127.3" cy="229.9" r="2.9"/>
<circle class="N" cx="185.5" cy="251.8" r="2.9"/>
<circle class="P" cx="1411.7" cy="443.7" r="2.9"/>
<circle class="D" cx="652.9" cy="409.0" r="2.9"/>
<circle class="N" cx="1225.8" cy="408.0" r="2.9"/>
<circle class="N" cx="1478.8" cy="358.0" r="2.9"/>
<circle class="A" cx="1788.1" cy="415.2" r="2.9"/>
<circle class="P" cx="1840.8" cy="420.7" r="2.9"/>
<circle class="N" cx="269.3" cy="183.6" r="2.9"/>
<circle class="A" cx="1220.4" cy="455.4" r="2.9"/>
<circle class="P" cx="307.3" cy="358.1" r="2.9"/>
<circle class="N" cx="874.2" cy="273.9" r="2.9"/>
<circle class="P" cx="763.9" cy="422.6" r="2.9"/>
<circle class="N" cx="1997.9" cy="303.7" r="2.9"/>
<circle class="N" cx="423.4" cy="253.0" r="2.9"/>
<circle class="N" cx="906.8" cy="231.4" r="2.9"/>
<circle class="P" cx="898.3" cy="362.8" r="2.9"/>
<circle class="A" cx="1828.6" cy="432.4" r="2.9"/>
<circle class="N" cx="934.6" cy="211.7" r="2.9"/>
<circle class="N" cx="2080.8" cy="265.3" r="2.9"/>
<circle class="N" cx="1884.9" cy="392.5" r="2.9"/>
<circle class="N" cx="2006.2" cy="309.4" r="2.9"/>
<circle class="N" cx="1527.8" cy="370.3" r="2.9"/>
<circle class="N" cx="1990.2" cy="322.3" r="2.9"/>
<circle class="N" cx="2044.2" cy="266.6" r="2.9"/>
<circle class="N" cx="1475.0" cy="428.9" r="2.9"/>
<circle class="N" cx="1351.3" cy="310.6" r="2.9"/>
<circle class="P" cx="180.8" cy="393.5" r="2.9"/>
<circle class="D" cx="90.4" cy="445.2" r="2.9"/>
<circle class="B" cx="630.8" cy="428.9" r="2.9"/>
<circle class="N" cx="317.3" cy="159.3" r="2.9"/>
<circle class="P" cx="198.8" cy="361.3" r="2.9"/>
<circle class="B" cx="660.8" cy="419.9" r="2.9"/>
<circle class="N" cx="1965.9" cy="390.9" r="2.9"/>
<circle class="N" cx="352.7" cy="124.3" r="2.9"/>
<circle class="B" cx="1213.4" cy="438.5" r="2.9"/>
<circle class="N" cx="215.4" cy="213.8" r="2.9"/>
<circle class="N" cx="2034.9" cy="259.1" r="2.9"/>
<circle class="B" cx="1835.7" cy="457.0" r="2.9"/>
<circle class="N" cx="2160.9" cy="232.4" r="2.9"/>
<circle class="N" cx="2062.8" cy="223.1" r="2.9"/>
<circle class="N" cx="183.0" cy="194.3" r="2.9"/>
<circle class="P" cx="1863.2" cy="417.4" r="2.9"/>
<circle class="B" cx="677.0" cy="434.2" r="2.9"/>
<circle class="N" cx="1354.2" cy="378.1" r="2.9"/>
<circle class="P" cx="1967.2" cy="347.9" r="2.9"/>
<circle class="P" cx="218.5" cy="390.6" r="2.9"/>
<circle class="P" cx="314.3" cy="269.6" r="2.9"/>
<circle class="P" cx="853.0" cy="392.3" r="2.9"/>
<circle class="N" cx="2078.3" cy="271.6" r="2.9"/>
<circle class="N" cx="1956.6" cy="404.3" r="2.9"/>
<circle class="P" cx="204.0" cy="182.2" r="2.9"/>
<circle class="N" cx="179.0" cy="212.8" r="2.9"/>
<circle class="N" cx="325.8" cy="139.8" r="2.9"/>
<circle class="N" cx="1979.0" cy="385.3" r="2.9"/>
<circle class="N" cx="1214.1" cy="299.3" r="2.9"/>
<circle class="N" cx="1469.4" cy="356.3" r="2.9"/>
<circle class="D" cx="107.4" cy="457.0" r="2.9"/>
<circle class="N" cx="2133.3" cy="196.0" r="2.9"/>
<circle class="N" cx="2079.4" cy="157.9" r="2.9"/>
<circle class="A" cx="1789.2" cy="413.2" r="2.9"/>
<circle class="N" cx="919.5" cy="161.1" r="2.9"/>
<circle class="P" cx="245.5" cy="365.6" r="2.9"/>
<circle class="N" cx="1988.9" cy="177.3" r="2.9"/>
<circle class="N" cx="1989.2" cy="378.8" r="2.9"/>
<circle class="N" cx="812.9" cy="131.9" r="2.9"/>
<circle class="N" cx="322.2" cy="128.7" r="2.9"/>
<circle class="N" cx="1965.8" cy="362.7" r="2.9"/>
<circle class="P" cx="838.8" cy="391.5" r="2.9"/>
<circle class="N" cx="1434.0" cy="397.5" r="2.9"/>
<circle class="N" cx="2104.2" cy="290.8" r="2.9"/>
<circle class="N" cx="1359.4" cy="255.1" r="2.9"/>
<circle class="N" cx="2032.1" cy="205.1" r="2.9"/>
<circle class="N" cx="1560.6" cy="378.5" r="2.9"/>
<circle class="B" cx="72.9" cy="431.4" r="2.9"/>
<circle class="N" cx="948.3" cy="261.8" r="2.9"/>
<circle class="N" cx="696.8" cy="313.6" r="2.9"/>
<circle class="P" cx="1873.1" cy="394.9" r="2.9"/>
<circle class="N" cx="1945.2" cy="307.4" r="2.9"/>
<circle class="N" cx="1992.2" cy="330.4" r="2.9"/>
<circle class="P" cx="811.3" cy="430.8" r="2.9"/>
<circle class="N" cx="1490.4" cy="351.1" r="2.9"/>
<circle class="P" cx="1383.9" cy="423.9" r="2.9"/>
<circle class="N" cx="2077.3" cy="225.6" r="2.9"/>
<circle class="P" cx="792.1" cy="425.7" r="2.9"/>
<circle class="P" cx="850.2" cy="376.0" r="2.9"/>
<circle class="P" cx="112.4" cy="450.3" r="2.9"/>
<circle class="P" cx="764.1" cy="400.2" r="2.9"/>
<circle class="N" cx="750.4" cy="278.9" r="2.9"/>
<circle class="N" cx="864.0" cy="214.7" r="2.9"/>
<circle class="B" cx="1226.7" cy="456.4" r="2.9"/>
<circle class="N" cx="980.2" cy="149.7" r="2.9"/>
<circle class="N" cx="1529.2" cy="340.2" r="2.9"/>
<circle class="N" cx="927.7" cy="234.8" r="2.9"/>
<circle class="P" cx="1445.1" cy="422.1" r="2.9"/>
<circle class="N" cx="2045.6" cy="262.4" r="2.9"/>
<circle class="N" cx="1445.6" cy="365.0" r="2.9"/>
<circle class="P" cx="1937.2" cy="339.3" r="2.9"/>
<circle class="B" cx="651.7" cy="453.1" r="2.9"/>
<circle class="P" cx="185.0" cy="378.1" r="2.9"/>
<circle class="P" cx="1280.2" cy="436.4" r="2.9"/>
<circle class="N" cx="2024.1" cy="221.3" r="2.9"/>
<circle class="N" cx="1466.3" cy="367.2" r="2.9"/>
<circle class="N" cx="2045.6" cy="142.0" r="2.9"/>
<circle class="N" cx="907.7" cy="112.5" r="2.9"/>
<circle class="P" cx="232.5" cy="375.1" r="2.9"/>
<circle class="N" cx="1234.1" cy="394.6" r="2.9"/>
<circle class="N" cx="994.2" cy="182.2" r="2.9"/>
<circle class="N" cx="688.2" cy="312.7" r="2.9"/>
<circle class="N" cx="302.3" cy="214.3" r="2.9"/>
<circle class="N" cx="78.0" cy="351.6" r="2.9"/>
<circle class="N" cx="945.1" cy="241.8" r="2.9"/>
<circle class="N" cx="276.1" cy="122.4" r="2.9"/>
<circle class="N" cx="144.8" cy="235.0" r="2.9"/>
<circle class="P" cx="1414.0" cy="418.3" r="2.9"/>
<circle class="P" cx="1412.6" cy="413.7" r="2.9"/>
<circle class="N" cx="318.7" cy="137.9" r="2.9"/>
<circle class="N" cx="2042.1" cy="406.7" r="2.9"/>
<circle class="N" cx="888.0" cy="159.5" r="2.9"/>
<circle class="P" cx="1864.8" cy="374.2" r="2.9"/>
<circle class="B" cx="657.7" cy="418.8" r="2.9"/>
<circle class="N" cx="761.4" cy="281.0" r="2.9"/>
<circle class="N" cx="1496.3" cy="346.1" r="2.9"/>
<circle class="N" cx="121.6" cy="281.5" r="2.9"/>
<circle class="N" cx="1482.9" cy="325.9" r="2.9"/>
<circle class="N" cx="137.3" cy="276.6" r="2.9"/>
<circle class="N" cx="1217.3" cy="333.8" r="2.9"/>
<circle class="N" cx="1400.8" cy="292.5" r="2.9"/>
<circle class="N" cx="708.8" cy="237.2" r="2.9"/>
<circle class="P" cx="1913.1" cy="416.6" r="2.9"/>
<circle class="P" cx="1340.0" cy="443.8" r="2.9"/>
<circle class="P" cx="1856.2" cy="423.2" r="2.9"/>
<circle class="D" cx="629.2" cy="444.3" r="2.9"/>
<circle class="N" cx="280.1" cy="160.5" r="2.9"/>
<circle class="P" cx="719.6" cy="431.9" r="2.9"/>
<circle class="P" cx="1316.7" cy="444.0" r="2.9"/>
<circle class="N" cx="817.9" cy="206.6" r="2.9"/>
<circle class="N" cx="270.5" cy="178.7" r="2.9"/>
<circle class="N" cx="2066.1" cy="291.2" r="2.9"/>
<circle class="N" cx="2127.6" cy="159.3" r="2.9"/>
<circle class="P" cx="1391.2" cy="432.0" r="2.9"/>
<circle class="N" cx="1938.0" cy="313.4" r="2.9"/>
<circle class="N" cx="261.5" cy="135.9" r="2.9"/>
<circle class="N" cx="276.0" cy="134.7" r="2.9"/>
<circle class="N" cx="2068.3" cy="273.9" r="2.9"/>
<circle class="N" cx="1225.3" cy="324.2" r="2.9"/>
<circle class="N" cx="1976.0" cy="367.0" r="2.9"/>
<circle class="P" cx="815.5" cy="393.1" r="2.9"/>
<circle class="P" cx="760.2" cy="408.5" r="2.9"/>
<circle class="N" cx="272.4" cy="202.5" r="2.9"/>
<circle class="P" cx="305.6" cy="305.0" r="2.9"/>
<circle class="N" cx="73.7" cy="407.1" r="2.9"/>
<circle class="A" cx="100.8" cy="431.3" r="2.9"/>
<circle class="N" cx="1361.3" cy="252.2" r="2.9"/>
<circle class="N" cx="987.4" cy="272.6" r="2.9"/>
<circle class="N" cx="408.8" cy="153.8" r="2.9"/>
<circle class="P" cx="1383.1" cy="430.6" r="2.9"/>
<circle class="A" cx="87.8" cy="453.2" r="2.9"/>
<circle class="P" cx="810.9" cy="377.6" r="2.9"/>
<circle class="P" cx="1403.5" cy="426.2" r="2.9"/>
<circle class="P" cx="697.1" cy="458.5" r="2.9"/>
<circle class="B" cx="654.6" cy="412.5" r="2.9"/>
<circle class="N" cx="839.8" cy="282.4" r="2.9"/>
<circle class="N" cx="1425.4" cy="370.1" r="2.9"/>
<circle class="P" cx="216.2" cy="350.8" r="2.9"/>
<circle class="N" cx="206.2" cy="111.6" r="2.9"/>
<circle class="N" cx="158.0" cy="194.1" r="2.9"/>
<circle class="N" cx="153.0" cy="278.9" r="2.9"/>
<circle class="P" cx="811.8" cy="407.3" r="2.9"/>
<circle class="N" cx="160.4" cy="212.0" r="2.9"/>
<circle class="P" cx="749.9" cy="438.0" r="2.9"/>
<circle class="N" cx="1924.2" cy="317.7" r="2.9"/>
<circle class="A" cx="682.8" cy="445.5" r="2.9"/>
<circle class="N" cx="1285.3" cy="283.0" r="2.9"/>
<circle class="N" cx="2022.5" cy="369.2" r="2.9"/>
<circle class="N" cx="82.6" cy="320.0" r="2.9"/>
<circle class="B" cx="671.7" cy="425.4" r="2.9"/>
<circle class="N" cx="374.9" cy="189.6" r="2.9"/>
<circle class="N" cx="228.0" cy="195.5" r="2.9"/>
<circle class="N" cx="199.6" cy="142.9" r="2.9"/>
<circle class="N" cx="1353.6" cy="294.7" r="2.9"/>
<circle class="N" cx="2069.4" cy="315.7" r="2.9"/>
<circle class="N" cx="1912.9" cy="395.2" r="2.9"/>
<circle class="N" cx="317.0" cy="125.0" r="2.9"/>
<circle class="N" cx="1486.0" cy="330.3" r="2.9"/>
<circle class="P" cx="751.8" cy="428.7" r="2.9"/>
<circle class="N" cx="1479.9" cy="332.7" r="2.9"/>
<circle class="A" cx="1203.1" cy="445.7" r="2.9"/>
<circle class="A" cx="1803.3" cy="414.0" r="2.9"/>
<circle class="N" cx="226.7" cy="210.4" r="2.9"/>
<circle class="P" cx="166.9" cy="385.0" r="2.9"/>
<circle class="N" cx="693.5" cy="372.3" r="2.9"/>
<circle class="N" cx="647.7" cy="390.9" r="2.9"/>
<circle class="P" cx="273.0" cy="367.5" r="2.9"/>
<circle class="P" cx="207.8" cy="376.9" r="2.9"/>
<circle class="A" cx="703.9" cy="458.5" r="2.9"/>
<circle class="N" cx="1988.2" cy="313.4" r="2.9"/>
<circle class="P" cx="1304.1" cy="438.2" r="2.9"/>
<circle class="N" cx="1294.0" cy="308.5" r="2.9"/>
<circle class="N" cx="1560.0" cy="351.1" r="2.9"/>
<circle class="N" cx="1542.3" cy="307.9" r="2.9"/>
<circle class="N" cx="314.5" cy="140.0" r="2.9"/>
<circle class="P" cx="144.8" cy="439.6" r="2.9"/>
<circle class="P" cx="155.6" cy="414.7" r="2.9"/>
<circle class="N" cx="946.1" cy="110.6" r="2.9"/>
<circle class="A" cx="1784.3" cy="397.7" r="2.9"/>
<circle class="N" cx="1371.6" cy="193.1" r="2.9"/>
<circle class="N" cx="371.5" cy="179.3" r="2.9"/>
<circle class="P" cx="1377.2" cy="440.0" r="2.9"/>
<circle class="N" cx="635.0" cy="448.6" r="2.9"/>
<circle class="A" cx="1792.4" cy="399.0" r="2.9"/>
<circle class="N" cx="1452.3" cy="269.8" r="2.9"/>
<circle class="N" cx="914.4" cy="225.8" r="2.9"/>
<circle class="N" cx="1896.8" cy="436.7" r="2.9"/>
<circle class="P" cx="143.4" cy="444.6" r="2.9"/>
<circle class="N" cx="1383.7" cy="172.7" r="2.9"/>
<circle class="N" cx="1474.7" cy="353.6" r="2.9"/>
<circle class="N" cx="226.2" cy="178.8" r="2.9"/>
<circle class="N" cx="307.8" cy="155.3" r="2.9"/>
<circle class="N" cx="1366.3" cy="177.1" r="2.9"/>
<circle class="A" cx="1233.9" cy="458.3" r="2.9"/>
<circle class="N" cx="1993.2" cy="309.2" r="2.9"/>
<circle class="P" cx="820.7" cy="432.2" r="2.9"/>
<circle class="N" cx="900.1" cy="304.3" r="2.9"/>
<circle class="N" cx="891.7" cy="234.4" r="2.9"/>
<circle class="N" cx="2019.3" cy="235.2" r="2.9"/>
<circle class="A" cx="70.4" cy="448.5" r="2.9"/>
<circle class="N" cx="1247.8" cy="405.8" r="2.9"/>
<circle class="N" cx="1450.7" cy="335.2" r="2.9"/>
<circle class="N" cx="99.6" cy="268.6" r="2.9"/>
<circle class="N" cx="895.4" cy="185.3" r="2.9"/>
<circle class="P" cx="829.1" cy="399.7" r="2.9"/>
<circle class="B" cx="1767.3" cy="406.2" r="2.9"/>
<circle class="N" cx="2022.7" cy="231.8" r="2.9"/>
<circle class="B" cx="1772.4" cy="456.0" r="2.9"/>
<circle class="P" cx="1421.3" cy="429.8" r="2.9"/>
<circle class="N" cx="85.2" cy="428.8" r="2.9"/>
<circle class="N" cx="1976.5" cy="379.4" r="2.9"/>
<circle class="N" cx="1947.0" cy="238.0" r="2.9"/>
<circle class="N" cx="337.6" cy="157.1" r="2.9"/>
<circle class="N" cx="2006.4" cy="313.9" r="2.9"/>
<circle class="N" cx="2006.3" cy="372.0" r="2.9"/>
<circle class="N" cx="341.0" cy="151.8" r="2.9"/>
<circle class="N" cx="1377.4" cy="254.0" r="2.9"/>
<circle class="P" cx="837.0" cy="393.7" r="2.9"/>
<circle class="D" cx="675.5" cy="411.8" r="2.9"/>
<circle class="N" cx="2039.0" cy="268.7" r="2.9"/>
<circle class="B" cx="102.5" cy="446.6" r="2.9"/>
<circle class="B" cx="1218.8" cy="434.6" r="2.9"/>
<circle class="N" cx="1990.6" cy="351.1" r="2.9"/>
<circle class="B" cx="97.2" cy="456.2" r="2.9"/>
<circle class="N" cx="247.9" cy="114.0" r="2.9"/>
<circle class="P" cx="1397.7" cy="429.4" r="2.9"/>
<circle class="N" cx="699.4" cy="373.3" r="2.9"/>
<circle class="A" cx="1821.7" cy="396.3" r="2.9"/>
<circle class="A" cx="638.1" cy="428.3" r="2.9"/>
<circle class="N" cx="1457.3" cy="262.8" r="2.9"/>
<circle class="N" cx="1468.0" cy="354.6" r="2.9"/>
<circle class="N" cx="71.2" cy="410.0" r="2.9"/>
<circle class="N" cx="1251.9" cy="370.5" r="2.9"/>
<circle class="N" cx="2022.0" cy="292.0" r="2.9"/>
<circle class="N" cx="72.5" cy="350.7" r="2.9"/>
<circle class="A" cx="109.4" cy="434.8" r="2.9"/>
<circle class="N" cx="329.9" cy="144.6" r="2.9"/>
<circle class="N" cx="418.4" cy="207.5" r="2.9"/>
<circle class="N" cx="925.0" cy="266.5" r="2.9"/>
<circle class="P" cx="1906.2" cy="391.0" r="2.9"/>
<circle class="N" cx="272.0" cy="139.3" r="2.9"/>
<circle class="N" cx="287.7" cy="87.7" r="2.9"/>
<circle class="N" cx="827.8" cy="221.4" r="2.9"/>
<circle class="P" cx="1869.4" cy="401.3" r="2.9"/>
<circle class="N" cx="2082.1" cy="328.6" r="2.9"/>
<circle class="N" cx="1438.0" cy="413.6" r="2.9"/>
<circle class="N" cx="2038.9" cy="292.5" r="2.9"/>
<circle class="P" cx="736.0" cy="440.4" r="2.9"/>
<circle class="N" cx="1298.5" cy="282.0" r="2.9"/>
<circle class="P" cx="1390.7" cy="446.9" r="2.9"/>
<circle class="N" cx="2003.2" cy="336.7" r="2.9"/>
<circle class="N" cx="343.0" cy="193.7" r="2.9"/>
<circle class="N" cx="1390.7" cy="212.1" r="2.9"/>
<circle class="N" cx="2077.7" cy="342.3" r="2.9"/>
<circle class="N" cx="1445.3" cy="419.9" r="2.9"/>
<circle class="P" cx="1947.5" cy="357.4" r="2.9"/>
<circle class="N" cx="646.0" cy="393.5" r="2.9"/>
<circle class="N" cx="664.8" cy="413.9" r="2.9"/>
<circle class="P" cx="1855.3" cy="423.6" r="2.9"/>
<circle class="N" cx="323.8" cy="110.1" r="2.9"/>
<circle class="N" cx="1215.1" cy="415.2" r="2.9"/>
<circle class="N" cx="1955.7" cy="324.3" r="2.9"/>
<circle class="N" cx="2019.4" cy="305.8" r="2.9"/>
<circle class="P" cx="167.8" cy="357.3" r="2.9"/>
<circle class="N" cx="782.5" cy="232.7" r="2.9"/>
<circle class="N" cx="1257.3" cy="415.2" r="2.9"/>
<circle class="N" cx="330.1" cy="145.2" r="2.9"/>
<circle class="N" cx="381.6" cy="106.1" r="2.9"/>
<circle class="N" cx="303.6" cy="151.9" r="2.9"/>
<circle class="N" cx="360.7" cy="206.9" r="2.9"/>
<circle class="N" cx="849.0" cy="327.3" r="2.9"/>
<circle class="P" cx="278.6" cy="326.2" r="2.9"/>
<circle class="P" cx="1262.6" cy="452.8" r="2.9"/>
<circle class="N" cx="308.7" cy="133.3" r="2.9"/>
<circle class="P" cx="1860.0" cy="376.0" r="2.9"/>
<circle class="P" cx="164.2" cy="431.1" r="2.9"/>
<circle class="P" cx="1884.8" cy="402.1" r="2.9"/>
<circle class="P" cx="1415.4" cy="421.0" r="2.9"/>
<circle class="P" cx="853.7" cy="373.7" r="2.9"/>
<circle class="P" cx="1756.8" cy="446.2" r="2.9"/>
<circle class="N" cx="1484.1" cy="359.2" r="2.9"/>
<circle class="P" cx="1282.5" cy="455.4" r="2.9"/>
<circle class="N" cx="2016.4" cy="381.0" r="2.9"/>
<circle class="N" cx="696.5" cy="351.9" r="2.9"/>
<circle class="N" cx="1373.8" cy="235.0" r="2.9"/>
<circle class="N" cx="359.1" cy="99.7" r="2.9"/>
<circle class="N" cx="1966.5" cy="389.6" r="2.9"/>
<circle class="N" cx="980.4" cy="266.1" r="2.9"/>
<circle class="P" cx="1884.1" cy="439.9" r="2.9"/>
<circle class="N" cx="1206.4" cy="410.0" r="2.9"/>
<circle class="N" cx="1463.9" cy="362.5" r="2.9"/>
<circle class="B" cx="1834.4" cy="395.1" r="2.9"/>
<circle class="N" cx="1195.4" cy="399.0" r="2.9"/>
<circle class="N" cx="1497.1" cy="351.0" r="2.9"/>
<circle class="P" cx="224.8" cy="348.3" r="2.9"/>
<circle class="N" cx="376.8" cy="129.3" r="2.9"/>
<circle class="P" cx="181.0" cy="416.7" r="2.9"/>
<circle class="N" cx="1208.5" cy="409.4" r="2.9"/>
<circle class="D" cx="110.4" cy="441.9" r="2.9"/>
<circle class="N" cx="1963.4" cy="284.6" r="2.9"/>
<circle class="N" cx="1488.4" cy="349.8" r="2.9"/>
<circle class="N" cx="384.2" cy="204.3" r="2.9"/>
<circle class="N" cx="1470.2" cy="356.9" r="2.9"/>
<circle class="N" cx="160.3" cy="195.8" r="2.9"/>
<circle class="N" cx="401.8" cy="200.6" r="2.9"/>
<circle class="N" cx="1226.8" cy="416.3" r="2.9"/>
<circle class="N" cx="892.2" cy="304.3" r="2.9"/>
<circle class="N" cx="362.2" cy="125.3" r="2.9"/>
<circle class="P" cx="1935.0" cy="431.0" r="2.9"/>
<circle class="N" cx="2011.9" cy="328.4" r="2.9"/>
<circle class="P" cx="1418.2" cy="432.1" r="2.9"/>
<circle class="N" cx="918.4" cy="272.8" r="2.9"/>
<circle class="N" cx="318.7" cy="153.2" r="2.9"/>
<circle class="N" cx="1454.1" cy="253.8" r="2.9"/>
<circle class="N" cx="892.4" cy="292.1" r="2.9"/>
<circle class="P" cx="245.0" cy="321.6" r="2.9"/>
<circle class="P" cx="1875.1" cy="392.0" r="2.9"/>
<circle class="B" cx="640.4" cy="420.8" r="2.9"/>
<circle class="N" cx="904.2" cy="229.0" r="2.9"/>
<circle class="N" cx="2005.5" cy="206.9" r="2.9"/>
<circle class="N" cx="2027.7" cy="274.1" r="2.9"/>
<circle class="D" cx="61.9" cy="448.3" r="2.9"/>
<circle class="A" cx="1783.3" cy="418.8" r="2.9"/>
<circle class="N" cx="894.4" cy="143.8" r="2.9"/>
<circle class="N" cx="2081.8" cy="227.6" r="2.9"/>
<circle class="P" cx="1856.1" cy="384.5" r="2.9"/>
<circle class="P" cx="2036.0" cy="397.0" r="2.9"/>
<circle class="B" cx="1785.4" cy="432.3" r="2.9"/>
<circle class="N" cx="2043.4" cy="312.2" r="2.9"/>
<circle class="N" cx="1522.4" cy="339.8" r="2.9"/>
<circle class="N" cx="909.3" cy="242.8" r="2.9"/>
<circle class="P" cx="245.5" cy="366.1" r="2.9"/>
<circle class="P" cx="267.6" cy="313.7" r="2.9"/>
<circle class="N" cx="249.7" cy="214.9" r="2.9"/>
<circle class="N" cx="1466.7" cy="356.7" r="2.9"/>
<circle class="N" cx="2077.1" cy="248.6" r="2.9"/>
<circle class="P" cx="126.7" cy="441.1" r="2.9"/>
<circle class="P" cx="780.4" cy="422.3" r="2.9"/>
<circle class="N" cx="235.0" cy="140.8" r="2.9"/>
<circle class="N" cx="2037.2" cy="290.4" r="2.9"/>
<circle class="P" cx="1871.4" cy="381.5" r="2.9"/>
<circle class="N" cx="209.1" cy="146.7" r="2.9"/>
<circle class="B" cx="1816.0" cy="432.3" r="2.9"/>
<circle class="P" cx="120.0" cy="454.1" r="2.9"/>
<circle class="B" cx="88.6" cy="445.5" r="2.9"/>
<circle class="P" cx="465.0" cy="237.0" r="2.9"/>
<circle class="P" cx="1880.4" cy="404.7" r="2.9"/>
<circle class="N" cx="300.9" cy="146.5" r="2.9"/>
<circle class="N" cx="1960.0" cy="288.8" r="2.9"/>
<circle class="N" cx="969.4" cy="207.1" r="2.9"/>
<circle class="N" cx="883.1" cy="182.9" r="2.9"/>
<circle class="P" cx="1386.1" cy="426.7" r="2.9"/>
<circle class="N" cx="1987.5" cy="357.1" r="2.9"/>
<circle class="N" cx="2075.3" cy="161.4" r="2.9"/>
<circle class="A" cx="1782.2" cy="459.3" r="2.9"/>
<circle class="N" cx="107.6" cy="276.0" r="2.9"/>
<circle class="A" cx="636.5" cy="410.9" r="2.9"/>
<circle class="N" cx="1221.8" cy="428.9" r="2.9"/>
<circle class="N" cx="1987.8" cy="204.9" r="2.9"/>
<circle class="N" cx="1902.7" cy="377.9" r="2.9"/>
<circle class="N" cx="2054.9" cy="352.6" r="2.9"/>
<circle class="P" cx="1983.1" cy="361.5" r="2.9"/>
<circle class="N" cx="1222.5" cy="425.7" r="2.9"/>
<circle class="N" cx="799.1" cy="248.8" r="2.9"/>
<circle class="B" cx="682.4" cy="400.2" r="2.9"/>
<circle class="N" cx="1232.5" cy="340.5" r="2.9"/>
<circle class="A" cx="67.2" cy="443.0" r="2.9"/>
<circle class="N" cx="294.8" cy="117.4" r="2.9"/>
<circle class="N" cx="898.4" cy="232.7" r="2.9"/>
<circle class="P" cx="1320.2" cy="434.0" r="2.9"/>
<circle class="N" cx="1978.3" cy="288.9" r="2.9"/>
<circle class="N" cx="1493.4" cy="266.6" r="2.9"/>
<circle class="B" cx="662.5" cy="442.3" r="2.9"/>
<circle class="N" cx="722.5" cy="216.7" r="2.9"/>
<circle class="N" cx="1474.4" cy="324.3" r="2.9"/>
<circle class="P" cx="1389.5" cy="455.7" r="2.9"/>
<circle class="N" cx="2036.0" cy="90.0" r="2.9"/>
<circle class="N" cx="868.2" cy="244.8" r="2.9"/>
<circle class="B" cx="1776.7" cy="431.8" r="2.9"/>
<circle class="N" cx="390.5" cy="202.4" r="2.9"/>
<circle class="N" cx="1320.8" cy="295.8" r="2.9"/>
<circle class="P" cx="226.6" cy="338.0" r="2.9"/>
<circle class="N" cx="1543.7" cy="333.5" r="2.9"/>
<circle class="N" cx="155.2" cy="250.9" r="2.9"/>
<circle class="N" cx="1218.5" cy="344.6" r="2.9"/>
<circle class="N" cx="197.4" cy="154.9" r="2.9"/>
<circle class="P" cx="875.7" cy="301.4" r="2.9"/>
<circle class="D" cx="1203.4" cy="436.1" r="2.9"/>
<circle class="N" cx="1998.2" cy="330.4" r="2.9"/>
<circle class="N" cx="1572.7" cy="342.4" r="2.9"/>
<circle class="N" cx="971.0" cy="223.0" r="2.9"/>
<circle class="P" cx="792.7" cy="430.5" r="2.9"/>
<circle class="P" cx="1828.9" cy="432.3" r="2.9"/>
<circle class="N" cx="1390.7" cy="223.5" r="2.9"/>
<circle class="N" cx="672.7" cy="328.8" r="2.9"/>
<circle class="P" cx="1849.6" cy="395.4" r="2.9"/>
<circle class="N" cx="1425.6" cy="263.4" r="2.9"/>
<circle class="N" cx="1590.8" cy="301.2" r="2.9"/>
<circle class="N" cx="1927.1" cy="317.2" r="2.9"/>
<circle class="N" cx="241.3" cy="177.6" r="2.9"/>
<circle class="A" cx="62.5" cy="432.4" r="2.9"/>
<circle class="N" cx="1502.3" cy="394.2" r="2.9"/>
<circle class="N" cx="101.2" cy="359.5" r="2.9"/>
<circle class="N" cx="2125.8" cy="318.5" r="2.9"/>
<circle class="N" cx="672.1" cy="411.4" r="2.9"/>
<circle class="N" cx="326.4" cy="146.0" r="2.9"/>
<circle class="B" cx="1815.5" cy="421.1" r="2.9"/>
<circle class="N" cx="877.2" cy="185.9" r="2.9"/>
<circle class="P" cx="758.2" cy="452.2" r="2.9"/>
<circle class="N" cx="1481.6" cy="427.4" r="2.9"/>
<circle class="P" cx="1882.6" cy="396.7" r="2.9"/>
<circle class="N" cx="803.1" cy="70.9" r="2.9"/>
<circle class="P" cx="61.2" cy="435.6" r="2.9"/>
<circle class="N" cx="1965.3" cy="340.5" r="2.9"/>
<circle class="P" cx="1873.0" cy="448.0" r="2.9"/>
<circle class="P" cx="213.0" cy="413.7" r="2.9"/>
<circle class="N" cx="296.2" cy="138.0" r="2.9"/>
<circle class="P" cx="1836.8" cy="401.5" r="2.9"/>
<circle class="P" cx="761.9" cy="416.0" r="2.9"/>
<circle class="N" cx="1367.0" cy="123.0" r="2.9"/>
<circle class="N" cx="1482.8" cy="358.7" r="2.9"/>
<circle class="P" cx="1831.7" cy="416.0" r="2.9"/>
<circle class="N" cx="386.7" cy="189.4" r="2.9"/>
<circle class="P" cx="1758.9" cy="423.2" r="2.9"/>
<circle class="N" cx="1310.1" cy="205.9" r="2.9"/>
<circle class="N" cx="1439.0" cy="411.3" r="2.9"/>
<circle class="N" cx="1297.7" cy="263.3" r="2.9"/>
<circle class="P" cx="1412.9" cy="445.2" r="2.9"/>
<circle class="N" cx="963.7" cy="210.0" r="2.9"/>
<circle class="N" cx="1366.1" cy="299.3" r="2.9"/>
<circle class="P" cx="1834.9" cy="426.2" r="2.9"/>
<circle class="N" cx="2010.7" cy="403.9" r="2.9"/>
<circle class="N" cx="900.8" cy="118.3" r="2.9"/>
<circle class="N" cx="1276.2" cy="340.2" r="2.9"/>
<circle class="P" cx="1867.7" cy="409.8" r="2.9"/>
<circle class="P" cx="841.2" cy="414.3" r="2.9"/>
<circle class="P" cx="1843.4" cy="406.8" r="2.9"/>
<circle class="N" cx="1425.8" cy="197.5" r="2.9"/>
<circle class="P" cx="772.3" cy="404.2" r="2.9"/>
<circle class="N" cx="883.1" cy="146.5" r="2.9"/>
<circle class="B" cx="669.6" cy="411.3" r="2.9"/>
<circle class="N" cx="2043.5" cy="281.1" r="2.9"/>
<circle class="P" cx="389.9" cy="264.4" r="2.9"/>
<circle class="N" cx="1504.6" cy="305.7" r="2.9"/>
<circle class="N" cx="271.2" cy="115.1" r="2.9"/>
<circle class="P" cx="245.5" cy="349.4" r="2.9"/>
<circle class="A" cx="634.9" cy="458.5" r="2.9"/>
<circle class="P" cx="143.9" cy="421.8" r="2.9"/>
<circle class="B" cx="640.5" cy="450.6" r="2.9"/>
<circle class="P" cx="846.5" cy="356.5" r="2.9"/>
<circle class="P" cx="794.5" cy="421.1" r="2.9"/>
<circle class="N" cx="1505.4" cy="391.5" r="2.9"/>
<circle class="N" cx="1594.5" cy="327.2" r="2.9"/>
<circle class="P" cx="202.0" cy="339.1" r="2.9"/>
<circle class="P" cx="152.3" cy="411.1" r="2.9"/>
<circle class="N" cx="2029.9" cy="332.9" r="2.9"/>
<circle class="N" cx="1475.6" cy="318.9" r="2.9"/>
<circle class="A" cx="66.1" cy="455.9" r="2.9"/>
<circle class="N" cx="315.6" cy="92.4" r="2.9"/>
<circle class="P" cx="162.9" cy="383.7" r="2.9"/>
<circle class="N" cx="899.1" cy="197.2" r="2.9"/>
<circle class="B" cx="1827.2" cy="407.0" r="2.9"/>
<circle class="P" cx="183.2" cy="397.6" r="2.9"/>
<circle class="N" cx="687.5" cy="389.1" r="2.9"/>
<circle class="P" cx="1256.8" cy="449.1" r="2.9"/>
<circle class="N" cx="750.1" cy="153.6" r="2.9"/>
<circle class="P" cx="841.7" cy="387.9" r="2.9"/>
<circle class="P" cx="1842.0" cy="434.6" r="2.9"/>
<circle class="N" cx="2109.6" cy="272.6" r="2.9"/>
<circle class="N" cx="1397.0" cy="64.0" r="2.9"/>
<circle class="P" cx="64.3" cy="459.3" r="2.9"/>
<circle class="P" cx="1908.9" cy="364.4" r="2.9"/>
<circle class="P" cx="313.6" cy="264.8" r="2.9"/>
<circle class="N" cx="965.4" cy="222.8" r="2.9"/>
<circle class="N" cx="229.1" cy="222.0" r="2.9"/>
<circle class="N" cx="1477.0" cy="362.8" r="2.9"/>
<circle class="P" cx="343.4" cy="300.1" r="2.9"/>
<circle class="N" cx="900.4" cy="237.6" r="2.9"/>
<circle class="N" cx="333.3" cy="115.8" r="2.9"/>
<circle class="P" cx="1368.2" cy="440.3" r="2.9"/>
<circle class="N" cx="1829.1" cy="447.8" r="2.9"/>
<circle class="N" cx="2078.8" cy="319.1" r="2.9"/>
<circle class="N" cx="152.1" cy="189.8" r="2.9"/>
<circle class="P" cx="1942.6" cy="377.9" r="2.9"/>
<circle class="P" cx="339.4" cy="268.8" r="2.9"/>
<circle class="N" cx="895.8" cy="275.5" r="2.9"/>
<circle class="N" cx="1195.3" cy="408.7" r="2.9"/>
<circle class="N" cx="1262.0" cy="346.2" r="2.9"/>
<circle class="N" cx="1437.6" cy="378.6" r="2.9"/>
<circle class="N" cx="371.6" cy="137.3" r="2.9"/>
<circle class="P" cx="1355.8" cy="440.1" r="2.9"/>
<circle class="N" cx="1396.2" cy="294.7" r="2.9"/>
<circle class="N" cx="2066.6" cy="276.1" r="2.9"/>
<circle class="P" cx="235.9" cy="406.5" r="2.9"/>
<circle class="N" cx="1990.0" cy="213.8" r="2.9"/>
<circle class="P" cx="868.5" cy="332.1" r="2.9"/>
<circle class="P" cx="1886.1" cy="405.8" r="2.9"/>
<circle class="N" cx="1297.6" cy="203.3" r="2.9"/>
<circle class="N" cx="237.7" cy="148.1" r="2.9"/>
<circle class="P" cx="829.3" cy="366.3" r="2.9"/>
<circle class="N" cx="1832.7" cy="375.9" r="2.9"/>
<circle class="P" cx="1331.5" cy="451.4" r="2.9"/>
<circle class="A" cx="76.2" cy="441.1" r="2.9"/>
<circle class="N" cx="1293.3" cy="206.9" r="2.9"/>
<circle class="N" cx="890.8" cy="188.5" r="2.9"/>
<circle class="N" cx="937.2" cy="307.3" r="2.9"/>
<circle class="N" cx="335.0" cy="108.8" r="2.9"/>
<circle class="A" cx="94.6" cy="456.2" r="2.9"/>
<circle class="P" cx="1919.6" cy="370.2" r="2.9"/>
<circle class="P" cx="1292.1" cy="434.4" r="2.9"/>
<circle class="N" cx="1369.2" cy="206.9" r="2.9"/>
<circle class="N" cx="1991.4" cy="306.4" r="2.9"/>
<circle class="P" cx="933.9" cy="355.5" r="2.9"/>
<circle class="N" cx="849.0" cy="261.7" r="2.9"/>
<circle class="P" cx="353.8" cy="287.6" r="2.9"/>
<circle class="P" cx="1915.3" cy="379.2" r="2.9"/>
<circle class="N" cx="873.6" cy="245.3" r="2.9"/>
<circle class="N" cx="79.2" cy="431.8" r="2.9"/>
<circle class="N" cx="2093.0" cy="282.5" r="2.9"/>
<circle class="N" cx="285.2" cy="146.4" r="2.9"/>
<circle class="P" cx="1842.9" cy="410.7" r="2.9"/>
<circle class="N" cx="1531.6" cy="365.9" r="2.9"/>
<circle class="D" cx="1811.5" cy="460.9" r="2.9"/>
<circle class="N" cx="943.7" cy="205.0" r="2.9"/>
<circle class="P" cx="1888.8" cy="432.1" r="2.9"/>
<circle class="D" cx="86.4" cy="450.8" r="2.9"/>
<circle class="N" cx="941.7" cy="136.2" r="2.9"/>
<circle class="P" cx="203.8" cy="359.3" r="2.9"/>
<circle class="N" cx="1492.7" cy="353.0" r="2.9"/>
<circle class="N" cx="1501.7" cy="330.1" r="2.9"/>
<circle class="P" cx="828.2" cy="361.1" r="2.9"/>
<circle class="N" cx="290.5" cy="151.6" r="2.9"/>
<circle class="N" cx="2030.1" cy="395.6" r="2.9"/>
<circle class="N" cx="161.9" cy="242.8" r="2.9"/>
<circle class="N" cx="2109.0" cy="203.1" r="2.9"/>
<circle class="P" cx="724.3" cy="458.5" r="2.9"/>
<circle class="P" cx="833.1" cy="374.1" r="2.9"/>
<circle class="N" cx="1354.5" cy="252.0" r="2.9"/>
<circle class="N" cx="1981.9" cy="393.0" r="2.9"/>
<circle class="P" cx="1382.7" cy="435.5" r="2.9"/>
<circle class="P" cx="780.1" cy="408.2" r="2.9"/>
<circle class="P" cx="858.7" cy="294.2" r="2.9"/>
<circle class="N" cx="360.7" cy="112.0" r="2.9"/>
<circle class="P" cx="187.1" cy="379.8" r="2.9"/>
<circle class="P" cx="1872.0" cy="457.2" r="2.9"/>
<circle class="N" cx="892.7" cy="108.8" r="2.9"/>
<circle class="P" cx="731.3" cy="417.8" r="2.9"/>
<circle class="N" cx="847.7" cy="213.2" r="2.9"/>
<circle class="N" cx="654.5" cy="401.5" r="2.9"/>
<circle class="P" cx="842.7" cy="326.1" r="2.9"/>
<circle class="P" cx="148.5" cy="428.4" r="2.9"/>
<circle class="P" cx="1380.9" cy="412.1" r="2.9"/>
<circle class="N" cx="319.3" cy="132.2" r="2.9"/>
<circle class="D" cx="91.3" cy="452.9" r="2.9"/>
<circle class="P" cx="818.0" cy="359.2" r="2.9"/>
<circle class="N" cx="2158.0" cy="202.1" r="2.9"/>
<circle class="N" cx="91.3" cy="302.3" r="2.9"/>
<circle class="N" cx="2060.8" cy="351.3" r="2.9"/>
<circle class="N" cx="2016.3" cy="400.2" r="2.9"/>
<circle class="P" cx="764.9" cy="425.3" r="2.9"/>
<circle class="N" cx="295.2" cy="127.2" r="2.9"/>
<circle class="B" cx="71.5" cy="460.4" r="2.9"/>
<circle class="N" cx="1464.1" cy="379.4" r="2.9"/>
<circle class="P" cx="112.9" cy="445.0" r="2.9"/>
<circle class="N" cx="2021.5" cy="373.1" r="2.9"/>
<circle class="P" cx="1283.6" cy="436.2" r="2.9"/>
<circle class="N" cx="271.5" cy="169.4" r="2.9"/>
<circle class="N" cx="1271.6" cy="299.5" r="2.9"/>
<circle class="N" cx="1431.2" cy="184.9" r="2.9"/>
<circle class="N" cx="1338.2" cy="182.0" r="2.9"/>
<circle class="P" cx="1339.2" cy="423.1" r="2.9"/>
<circle class="P" cx="1333.3" cy="442.2" r="2.9"/>
<circle class="P" cx="1773.1" cy="403.2" r="2.9"/>
<circle class="P" cx="1351.8" cy="428.6" r="2.9"/>
<circle class="N" cx="2174.0" cy="212.0" r="2.9"/>
<circle class="P" cx="626.2" cy="400.8" r="2.9"/>
<circle class="N" cx="919.7" cy="208.8" r="2.9"/>
<circle class="N" cx="281.6" cy="244.6" r="2.9"/>
<circle class="N" cx="1509.5" cy="354.7" r="2.9"/>
<circle class="N" cx="847.3" cy="249.6" r="2.9"/>
<circle class="P" cx="114.5" cy="441.1" r="2.9"/>
<circle class="N" cx="1490.9" cy="360.7" r="2.9"/>
<circle class="P" cx="266.1" cy="369.2" r="2.9"/>
<circle class="N" cx="1297.9" cy="222.5" r="2.9"/>
<circle class="P" cx="175.2" cy="361.5" r="2.9"/>
<circle class="N" cx="1975.6" cy="372.7" r="2.9"/>
<circle class="N" cx="1376.3" cy="261.4" r="2.9"/>
<circle class="P" cx="931.0" cy="372.0" r="2.9"/>
<circle class="N" cx="994.3" cy="232.0" r="2.9"/>
<circle class="N" cx="302.5" cy="167.6" r="2.9"/>
<circle class="P" cx="776.8" cy="409.3" r="2.9"/>
<circle class="N" cx="903.4" cy="271.5" r="2.9"/>
<circle class="N" cx="102.4" cy="441.3" r="2.9"/>
<circle class="P" cx="762.5" cy="417.1" r="2.9"/>
<circle class="N" cx="114.1" cy="260.8" r="2.9"/>
<circle class="N" cx="992.5" cy="111.3" r="2.9"/>
<circle class="N" cx="283.1" cy="142.2" r="2.9"/>
<circle class="A" cx="1257.8" cy="459.8" r="2.9"/>
<circle class="P" cx="834.1" cy="312.6" r="2.9"/>
<circle class="N" cx="291.4" cy="165.8" r="2.9"/>
<circle class="D" cx="1831.5" cy="401.4" r="2.9"/>
<circle class="P" cx="222.0" cy="389.6" r="2.9"/>
<circle class="N" cx="1527.8" cy="353.1" r="2.9"/>
<circle class="N" cx="1258.2" cy="402.8" r="2.9"/>
<circle class="P" cx="149.9" cy="428.4" r="2.9"/>
<circle class="N" cx="1464.3" cy="337.6" r="2.9"/>
<circle class="P" cx="835.0" cy="319.3" r="2.9"/>
<circle class="N" cx="1399.1" cy="190.0" r="2.9"/>
<circle class="N" cx="388.0" cy="142.6" r="2.9"/>
<circle class="N" cx="142.8" cy="240.0" r="2.9"/>
<circle class="P" cx="108.9" cy="433.7" r="2.9"/>
<circle class="N" cx="940.2" cy="143.9" r="2.9"/>
<circle class="N" cx="2038.2" cy="350.8" r="2.9"/>
<circle class="N" cx="1856.9" cy="379.9" r="2.9"/>
<circle class="P" cx="271.5" cy="291.6" r="2.9"/>
<circle class="N" cx="2009.5" cy="347.5" r="2.9"/>
<circle class="N" cx="2022.4" cy="345.4" r="2.9"/>
<circle class="P" cx="795.7" cy="429.3" r="2.9"/>
<circle class="P" cx="321.7" cy="295.2" r="2.9"/>
<circle class="N" cx="977.8" cy="225.7" r="2.9"/>
<circle class="N" cx="86.8" cy="383.2" r="2.9"/>
<circle class="N" cx="86.1" cy="448.6" r="2.9"/>
<circle class="N" cx="1194.7" cy="372.3" r="2.9"/>
<circle class="A" cx="1797.8" cy="417.2" r="2.9"/>
<circle class="P" cx="1448.4" cy="426.4" r="2.9"/>
<circle class="N" cx="82.8" cy="327.0" r="2.9"/>
<circle class="P" cx="922.0" cy="224.0" r="2.9"/>
<circle class="N" cx="2077.2" cy="259.1" r="2.9"/>
<circle class="N" cx="675.0" cy="312.7" r="2.9"/>
<circle class="P" cx="665.6" cy="407.2" r="2.9"/>
<circle class="P" cx="1366.9" cy="429.4" r="2.9"/>
<circle class="N" cx="1451.6" cy="401.2" r="2.9"/>
<circle class="N" cx="309.1" cy="148.9" r="2.9"/>
<circle class="P" cx="1965.0" cy="357.8" r="2.9"/>
<circle class="P" cx="1891.7" cy="442.0" r="2.9"/>
<circle class="N" cx="1450.6" cy="353.8" r="2.9"/>
<circle class="N" cx="2061.7" cy="236.6" r="2.9"/>
<circle class="N" cx="2073.0" cy="253.1" r="2.9"/>
<circle class="N" cx="1521.4" cy="377.6" r="2.9"/>
<circle class="N" cx="145.1" cy="276.5" r="2.9"/>
<circle class="N" cx="767.0" cy="212.1" r="2.9"/>
<circle class="D" cx="60.2" cy="447.5" r="2.9"/>
<circle class="A" cx="94.4" cy="444.3" r="2.9"/>
<circle class="A" cx="1804.6" cy="433.0" r="2.9"/>
<circle class="N" cx="258.0" cy="252.4" r="2.9"/>
<circle class="N" cx="124.8" cy="233.2" r="2.9"/>
<circle class="P" cx="814.7" cy="393.9" r="2.9"/>
<circle class="N" cx="395.7" cy="154.3" r="2.9"/>
<circle class="N" cx="922.0" cy="128.6" r="2.9"/>
<circle class="N" cx="1254.0" cy="413.6" r="2.9"/>
<circle class="P" cx="748.6" cy="456.2" r="2.9"/>
<circle class="N" cx="915.2" cy="169.8" r="2.9"/>
<circle class="N" cx="2035.6" cy="351.9" r="2.9"/>
<circle class="B" cx="1830.2" cy="431.6" r="2.9"/>
<circle class="N" cx="1419.8" cy="271.2" r="2.9"/>
<circle class="N" cx="193.2" cy="252.6" r="2.9"/>
<circle class="N" cx="1993.3" cy="316.4" r="2.9"/>
<circle class="P" cx="298.9" cy="269.4" r="2.9"/>
<circle class="N" cx="2017.9" cy="310.1" r="2.9"/>
<circle class="P" cx="1807.5" cy="420.4" r="2.9"/>
<circle class="P" cx="268.6" cy="352.2" r="2.9"/>
<circle class="N" cx="685.6" cy="372.8" r="2.9"/>
<circle class="P" cx="750.7" cy="427.5" r="2.9"/>
<circle class="N" cx="752.0" cy="272.8" r="2.9"/>
<circle class="P" cx="1903.3" cy="400.1" r="2.9"/>
<circle class="N" cx="1524.6" cy="324.8" r="2.9"/>
<circle class="N" cx="946.8" cy="141.6" r="2.9"/>
<circle class="N" cx="2151.5" cy="179.6" r="2.9"/>
<circle class="N" cx="2007.0" cy="176.6" r="2.9"/>
<circle class="P" cx="1442.2" cy="404.2" r="2.9"/>
<circle class="N" cx="1984.1" cy="400.5" r="2.9"/>
<circle class="N" cx="874.9" cy="144.5" r="2.9"/>
<circle class="P" cx="174.5" cy="401.3" r="2.9"/>
<circle class="N" cx="329.5" cy="151.1" r="2.9"/>
<circle class="P" cx="209.2" cy="371.6" r="2.9"/>
<circle class="N" cx="910.2" cy="223.1" r="2.9"/>
<circle class="N" cx="322.7" cy="139.4" r="2.9"/>
<circle class="N" cx="1219.4" cy="361.5" r="2.9"/>
<circle class="N" cx="1997.9" cy="237.7" r="2.9"/>
<circle class="P" cx="1424.0" cy="449.6" r="2.9"/>
<circle class="P" cx="193.6" cy="388.8" r="2.9"/>
<circle class="N" cx="924.2" cy="285.7" r="2.9"/>
<circle class="P" cx="137.3" cy="417.2" r="2.9"/>
<circle class="N" cx="691.8" cy="381.7" r="2.9"/>
<circle class="N" cx="891.3" cy="222.3" r="2.9"/>
<circle class="P" cx="124.4" cy="457.9" r="2.9"/>
<circle class="N" cx="897.4" cy="249.1" r="2.9"/>
<circle class="A" cx="113.5" cy="444.0" r="2.9"/>
<circle class="N" cx="2013.2" cy="311.1" r="2.9"/>
<circle class="N" cx="1316.8" cy="221.2" r="2.9"/>
<circle class="B" cx="673.1" cy="450.5" r="2.9"/>
<circle class="N" cx="1403.0" cy="164.0" r="2.9"/>
<circle class="N" cx="904.5" cy="208.5" r="2.9"/>
<circle class="A" cx="665.6" cy="400.9" r="2.9"/>
<circle class="N" cx="890.6" cy="236.3" r="2.9"/>
<circle class="N" cx="1228.7" cy="413.7" r="2.9"/>
<circle class="N" cx="1469.4" cy="244.0" r="2.9"/>
<circle class="P" cx="918.4" cy="360.7" r="2.9"/>
<circle class="N" cx="377.5" cy="128.0" r="2.9"/>
<circle class="N" cx="820.8" cy="248.8" r="2.9"/>
<circle class="P" cx="1293.1" cy="443.0" r="2.9"/>
<circle class="N" cx="1866.3" cy="413.6" r="2.9"/>
<circle class="P" cx="809.7" cy="382.3" r="2.9"/>
<circle class="N" cx="1977.9" cy="355.5" r="2.9"/>
<circle class="N" cx="1380.8" cy="381.2" r="2.9"/>
<circle class="N" cx="2062.4" cy="267.3" r="2.9"/>
<circle class="N" cx="2152.4" cy="253.6" r="2.9"/>
<circle class="N" cx="2070.8" cy="237.6" r="2.9"/>
<circle class="N" cx="1868.3" cy="429.6" r="2.9"/>
<circle class="N" cx="816.6" cy="164.8" r="2.9"/>
<circle class="N" cx="873.7" cy="197.5" r="2.9"/>
<circle class="N" cx="1324.7" cy="204.0" r="2.9"/>
<circle class="N" cx="1483.5" cy="370.5" r="2.9"/>
<circle class="N" cx="2010.9" cy="299.2" r="2.9"/>
<circle class="N" cx="1929.2" cy="290.0" r="2.9"/>
<circle class="P" cx="741.4" cy="455.1" r="2.9"/>
<circle class="N" cx="914.1" cy="145.3" r="2.9"/>
<circle class="N" cx="2056.5" cy="307.6" r="2.9"/>
<circle class="P" cx="717.7" cy="424.3" r="2.9"/>
<circle class="N" cx="1522.0" cy="362.0" r="2.9"/>
<circle class="N" cx="1506.8" cy="338.9" r="2.9"/>
<circle class="N" cx="122.6" cy="331.6" r="2.9"/>
<circle class="N" cx="336.5" cy="153.0" r="2.9"/>
<circle class="N" cx="767.7" cy="264.7" r="2.9"/>
<circle class="N" cx="340.9" cy="131.7" r="2.9"/>
<circle class="P" cx="802.7" cy="390.8" r="2.9"/>
<circle class="P" cx="100.5" cy="449.8" r="2.9"/>
<circle class="N" cx="1322.1" cy="229.1" r="2.9"/>
<circle class="N" cx="1237.4" cy="263.5" r="2.9"/>
<circle class="P" cx="1878.6" cy="439.1" r="2.9"/>
<circle class="B" cx="1762.6" cy="422.7" r="2.9"/>
<circle class="N" cx="328.8" cy="155.2" r="2.9"/>
<circle class="N" cx="2069.8" cy="284.3" r="2.9"/>
<circle class="N" cx="1546.2" cy="364.4" r="2.9"/>
<circle class="P" cx="845.9" cy="355.9" r="2.9"/>
<circle class="N" cx="162.9" cy="213.4" r="2.9"/>
<circle class="P" cx="259.1" cy="315.6" r="2.9"/>
<circle class="N" cx="1811.9" cy="444.0" r="2.9"/>
<circle class="N" cx="107.8" cy="315.0" r="2.9"/>
<circle class="P" cx="724.6" cy="456.4" r="2.9"/>
<circle class="P" cx="194.3" cy="365.5" r="2.9"/>
<circle class="N" cx="349.3" cy="158.0" r="2.9"/>
<circle class="P" cx="384.4" cy="212.7" r="2.9"/>
<circle class="A" cx="1211.0" cy="459.0" r="2.9"/>
<circle class="B" cx="1796.2" cy="400.3" r="2.9"/>
<circle class="N" cx="2065.5" cy="256.9" r="2.9"/>
<circle class="N" cx="902.9" cy="192.6" r="2.9"/>
<circle class="P" cx="1977.2" cy="353.9" r="2.9"/>
<circle class="P" cx="277.3" cy="309.2" r="2.9"/>
<circle class="N" cx="317.8" cy="91.2" r="2.9"/>
<circle class="N" cx="2013.2" cy="313.6" r="2.9"/>
<circle class="N" cx="907.2" cy="212.4" r="2.9"/>
<circle class="N" cx="131.6" cy="246.4" r="2.9"/>
<circle class="N" cx="2008.0" cy="255.0" r="2.9"/>
<circle class="N" cx="1991.0" cy="304.4" r="2.9"/>
<circle class="N" cx="2047.5" cy="314.4" r="2.9"/>
<circle class="N" cx="674.2" cy="406.1" r="2.9"/>
<circle class="N" cx="314.8" cy="125.4" r="2.9"/>
<circle class="N" cx="2085.2" cy="231.1" r="2.9"/>
<circle class="N" cx="2055.4" cy="280.5" r="2.9"/>
<circle class="A" cx="1798.9" cy="425.4" r="2.9"/>
<circle class="P" cx="267.3" cy="332.8" r="2.9"/>
<circle class="P" cx="774.2" cy="403.6" r="2.9"/>
<circle class="N" cx="2033.1" cy="259.0" r="2.9"/>
<circle class="B" cx="660.0" cy="419.7" r="2.9"/>
<circle class="B" cx="88.2" cy="453.3" r="2.9"/>
<circle class="N" cx="92.4" cy="357.1" r="2.9"/>
<circle class="N" cx="1992.2" cy="327.2" r="2.9"/>
<circle class="N" cx="1456.5" cy="393.6" r="2.9"/>
<circle class="N" cx="1467.3" cy="376.1" r="2.9"/>
<circle class="N" cx="658.0" cy="442.7" r="2.9"/>
<circle class="N" cx="2052.3" cy="236.4" r="2.9"/>
<circle class="N" cx="2101.9" cy="260.2" r="2.9"/>
<circle class="N" cx="2101.6" cy="245.4" r="2.9"/>
<circle class="P" cx="834.2" cy="392.0" r="2.9"/>
<circle class="P" cx="825.9" cy="413.8" r="2.9"/>
<circle class="N" cx="181.0" cy="212.0" r="2.9"/>
<circle class="P" cx="1835.1" cy="419.5" r="2.9"/>
<circle class="P" cx="1886.9" cy="398.3" r="2.9"/>
<circle class="P" cx="793.2" cy="439.2" r="2.9"/>
<circle class="N" cx="1405.8" cy="352.4" r="2.9"/>
<circle class="N" cx="1452.1" cy="406.5" r="2.9"/>
<circle class="N" cx="1451.0" cy="385.7" r="2.9"/>
<circle class="N" cx="1497.3" cy="343.8" r="2.9"/>
<circle class="N" cx="2037.0" cy="250.9" r="2.9"/>
<circle class="P" cx="86.3" cy="441.4" r="2.9"/>
<circle class="N" cx="1518.9" cy="403.0" r="2.9"/>
<circle class="N" cx="2010.6" cy="377.0" r="2.9"/>
<circle class="N" cx="2016.5" cy="356.2" r="2.9"/>
<circle class="P" cx="661.0" cy="427.6" r="2.9"/>
<circle class="N" cx="845.3" cy="240.2" r="2.9"/>
<circle class="P" cx="140.6" cy="453.9" r="2.9"/>
<circle class="N" cx="272.5" cy="109.3" r="2.9"/>
<circle class="N" cx="362.6" cy="200.3" r="2.9"/>
<circle class="N" cx="126.3" cy="246.8" r="2.9"/>
<circle class="P" cx="1285.0" cy="443.9" r="2.9"/>
<circle class="N" cx="2047.4" cy="259.3" r="2.9"/>
<circle class="N" cx="355.9" cy="208.6" r="2.9"/>
<circle class="P" cx="1851.7" cy="453.4" r="2.9"/>
<circle class="N" cx="1521.7" cy="342.1" r="2.9"/>
<circle class="N" cx="276.7" cy="143.8" r="2.9"/>
<circle class="P" cx="224.6" cy="355.8" r="2.9"/>
<circle class="N" cx="955.6" cy="169.8" r="2.9"/>
<circle class="N" cx="2016.1" cy="252.9" r="2.9"/>
<circle class="P" cx="1402.6" cy="433.2" r="2.9"/>
<circle class="N" cx="950.5" cy="170.9" r="2.9"/>
<circle class="N" cx="1984.0" cy="333.1" r="2.9"/>
<circle class="N" cx="388.0" cy="69.9" r="2.9"/>
<circle class="P" cx="761.1" cy="431.2" r="2.9"/>
<circle class="N" cx="804.6" cy="249.7" r="2.9"/>
<circle class="P" cx="1829.7" cy="399.9" r="2.9"/>
<circle class="N" cx="72.7" cy="352.7" r="2.9"/>
<circle class="N" cx="1495.0" cy="392.8" r="2.9"/>
<circle class="N" cx="324.3" cy="156.7" r="2.9"/>
<circle class="N" cx="1472.7" cy="384.9" r="2.9"/>
<circle class="A" cx="72.7" cy="433.2" r="2.9"/>
<circle class="N" cx="95.5" cy="354.6" r="2.9"/>
<circle class="B" cx="639.7" cy="426.0" r="2.9"/>
<circle class="N" cx="1992.4" cy="413.1" r="2.9"/>
<circle class="N" cx="2110.0" cy="65.0" r="2.9"/>
<circle class="P" cx="136.5" cy="445.3" r="2.9"/>
<circle class="N" cx="2084.7" cy="246.1" r="2.9"/>
<circle class="P" cx="1845.6" cy="430.6" r="2.9"/>
<circle class="N" cx="94.0" cy="315.0" r="2.9"/>
<circle class="P" cx="1842.0" cy="431.3" r="2.9"/>
<circle class="P" cx="253.7" cy="354.3" r="2.9"/>
<circle class="P" cx="229.3" cy="342.5" r="2.9"/>
<circle class="N" cx="1557.3" cy="364.4" r="2.9"/>
<circle class="N" cx="310.0" cy="182.2" r="2.9"/>
<circle class="P" cx="779.0" cy="448.0" r="2.9"/>
<circle class="N" cx="885.1" cy="216.7" r="2.9"/>
<circle class="N" cx="215.4" cy="177.5" r="2.9"/>
<circle class="P" cx="170.0" cy="396.1" r="2.9"/>
<circle class="A" cx="1770.9" cy="404.8" r="2.9"/>
<circle class="N" cx="1393.5" cy="113.0" r="2.9"/>
<circle class="N" cx="169.6" cy="212.5" r="2.9"/>
<circle class="P" cx="63.9" cy="446.1" r="2.9"/>
<circle class="A" cx="647.3" cy="447.6" r="2.9"/>
<circle class="P" cx="646.7" cy="458.5" r="2.9"/>
<circle class="N" cx="1221.5" cy="382.3" r="2.9"/>
<circle class="A" cx="1252.5" cy="459.3" r="2.9"/>
<circle class="N" cx="814.7" cy="258.3" r="2.9"/>
<circle class="N" cx="2121.1" cy="292.2" r="2.9"/>
<circle class="N" cx="2063.2" cy="306.5" r="2.9"/>
<circle class="N" cx="1312.0" cy="318.8" r="2.9"/>
<circle class="P" cx="1332.2" cy="429.7" r="2.9"/>
<circle class="N" cx="850.3" cy="227.9" r="2.9"/>
<circle class="N" cx="174.9" cy="163.7" r="2.9"/>
<circle class="N" cx="2131.4" cy="254.9" r="2.9"/>
<circle class="N" cx="1816.2" cy="414.5" r="2.9"/>
<circle class="P" cx="1369.4" cy="432.0" r="2.9"/>
<circle class="P" cx="1870.6" cy="367.4" r="2.9"/>
<circle class="N" cx="1216.3" cy="402.8" r="2.9"/>
<circle class="P" cx="151.2" cy="398.4" r="2.9"/>
<circle class="P" cx="1937.8" cy="386.9" r="2.9"/>
<circle class="P" cx="1896.9" cy="377.8" r="2.9"/>
<circle class="P" cx="1355.7" cy="457.3" r="2.9"/>
<circle class="N" cx="2027.4" cy="264.6" r="2.9"/>
<circle class="P" cx="1291.9" cy="455.4" r="2.9"/>
<circle class="N" cx="667.0" cy="371.4" r="2.9"/>
<circle class="N" cx="320.1" cy="144.6" r="2.9"/>
<circle class="N" cx="1359.5" cy="205.1" r="2.9"/>
<circle class="P" cx="338.9" cy="283.6" r="2.9"/>
<circle class="N" cx="873.2" cy="283.1" r="2.9"/>
<circle class="N" cx="1515.5" cy="375.2" r="2.9"/>
<circle class="N" cx="1472.7" cy="361.6" r="2.9"/>
<circle class="N" cx="1480.4" cy="376.1" r="2.9"/>
<circle class="P" cx="1869.6" cy="442.5" r="2.9"/>
<circle class="N" cx="1301.7" cy="296.5" r="2.9"/>
<circle class="P" cx="855.2" cy="340.1" r="2.9"/>
<circle class="P" cx="1868.6" cy="443.7" r="2.9"/>
<circle class="P" cx="786.5" cy="388.8" r="2.9"/>
<circle class="P" cx="1948.2" cy="351.9" r="2.9"/>
<circle class="P" cx="155.9" cy="429.3" r="2.9"/>
<circle class="N" cx="2100.9" cy="220.5" r="2.9"/>
<circle class="B" cx="648.1" cy="401.0" r="2.9"/>
<circle class="N" cx="2021.0" cy="348.4" r="2.9"/>
<circle class="N" cx="1217.2" cy="370.6" r="2.9"/>
<circle class="N" cx="1819.6" cy="418.9" r="2.9"/>
<circle class="N" cx="1536.8" cy="302.7" r="2.9"/>
<circle class="N" cx="1992.7" cy="339.9" r="2.9"/>
<circle class="P" cx="127.1" cy="428.6" r="2.9"/>
<circle class="N" cx="932.3" cy="167.9" r="2.9"/>
<circle class="N" cx="72.3" cy="437.0" r="2.9"/>
<circle class="D" cx="1771.5" cy="438.2" r="2.9"/>
<circle class="N" cx="965.5" cy="181.2" r="2.9"/>
<circle class="N" cx="1968.8" cy="324.9" r="2.9"/>
<circle class="N" cx="2129.4" cy="273.9" r="2.9"/>
<circle class="B" cx="636.7" cy="438.8" r="2.9"/>
<circle class="D" cx="112.3" cy="447.6" r="2.9"/>
<circle class="P" cx="1843.3" cy="452.0" r="2.9"/>
<circle class="N" cx="2001.5" cy="346.9" r="2.9"/>
<circle class="N" cx="2057.0" cy="305.1" r="2.9"/>
<circle class="P" cx="1351.2" cy="418.1" r="2.9"/>
<circle class="N" cx="307.8" cy="148.7" r="2.9"/>
<circle class="B" cx="1191.3" cy="439.0" r="2.9"/>
<circle class="P" cx="785.0" cy="409.5" r="2.9"/>
<circle class="P" cx="1917.6" cy="359.1" r="2.9"/>
<circle class="A" cx="1778.8" cy="423.1" r="2.9"/>
<circle class="N" cx="930.4" cy="166.9" r="2.9"/>
<circle class="N" cx="938.6" cy="218.6" r="2.9"/>
<circle class="P" cx="1354.0" cy="441.0" r="2.9"/>
<circle class="N" cx="2057.0" cy="316.2" r="2.9"/>
<circle class="N" cx="1304.4" cy="222.3" r="2.9"/>
<circle class="N" cx="872.3" cy="178.9" r="2.9"/>
<circle class="B" cx="678.3" cy="412.4" r="2.9"/>
<circle class="P" cx="773.8" cy="396.4" r="2.9"/>
<circle class="P" cx="803.8" cy="365.6" r="2.9"/>
<circle class="N" cx="674.6" cy="404.9" r="2.9"/>
<circle class="N" cx="417.9" cy="258.5" r="2.9"/>
<circle class="P" cx="1951.3" cy="331.4" r="2.9"/>
<circle class="N" cx="891.4" cy="178.9" r="2.9"/>
<circle class="N" cx="75.8" cy="376.2" r="2.9"/>
<circle class="N" cx="1002.9" cy="239.5" r="2.9"/>
<circle class="P" cx="219.6" cy="382.7" r="2.9"/>
<circle class="N" cx="1215.3" cy="354.5" r="2.9"/>
<circle class="P" cx="167.2" cy="434.8" r="2.9"/>
<circle class="N" cx="1276.8" cy="371.4" r="2.9"/>
<circle class="N" cx="933.7" cy="243.4" r="2.9"/>
<circle class="P" cx="783.1" cy="437.2" r="2.9"/>
<circle class="B" cx="644.0" cy="400.0" r="2.9"/>
<circle class="N" cx="2118.7" cy="226.3" r="2.9"/>
<circle class="N" cx="114.9" cy="259.9" r="2.9"/>
<circle class="N" cx="798.3" cy="278.1" r="2.9"/>
<circle class="N" cx="285.7" cy="137.3" r="2.9"/>
<circle class="N" cx="2066.6" cy="274.9" r="2.9"/>
<circle class="N" cx="812.3" cy="74.6" r="2.9"/>
<circle class="N" cx="2014.9" cy="403.3" r="2.9"/>
<circle class="N" cx="1277.4" cy="286.8" r="2.9"/>
<circle class="N" cx="1233.5" cy="334.1" r="2.9"/>
<circle class="N" cx="936.3" cy="219.9" r="2.9"/>
<circle class="P" cx="297.9" cy="329.9" r="2.9"/>
<circle class="D" cx="653.9" cy="409.1" r="2.9"/>
<circle class="P" cx="133.7" cy="442.4" r="2.9"/>
<circle class="P" cx="1318.8" cy="422.4" r="2.9"/>
<circle class="N" cx="2021.1" cy="376.9" r="2.9"/>
<circle class="N" cx="1239.6" cy="283.4" r="2.9"/>
<circle class="P" cx="845.3" cy="332.4" r="2.9"/>
<circle class="N" cx="2051.2" cy="387.0" r="2.9"/>
<circle class="N" cx="910.8" cy="135.4" r="2.9"/>
<circle class="N" cx="365.0" cy="85.4" r="2.9"/>
<circle class="N" cx="2019.1" cy="366.8" r="2.9"/>
<circle class="P" cx="354.2" cy="262.6" r="2.9"/>
<circle class="B" cx="62.4" cy="442.2" r="2.9"/>
<circle class="N" cx="905.4" cy="185.6" r="2.9"/>
<circle class="N" cx="1945.2" cy="424.2" r="2.9"/>
<circle class="P" cx="145.7" cy="433.0" r="2.9"/>
<circle class="N" cx="662.5" cy="340.2" r="2.9"/>
<circle class="P" cx="253.8" cy="392.0" r="2.9"/>
<circle class="N" cx="2074.0" cy="178.5" r="2.9"/>
<circle class="P" cx="1450.4" cy="450.3" r="2.9"/>
<circle class="N" cx="2072.4" cy="205.7" r="2.9"/>
<circle class="N" cx="2045.4" cy="334.6" r="2.9"/>
<circle class="P" cx="378.4" cy="247.9" r="2.9"/>
<circle class="P" cx="1941.4" cy="339.2" r="2.9"/>
<circle class="P" cx="1878.7" cy="357.1" r="2.9"/>
<circle class="N" cx="909.6" cy="172.8" r="2.9"/>
<circle class="N" cx="1438.8" cy="401.9" r="2.9"/>
<circle class="N" cx="1472.4" cy="397.2" r="2.9"/>
<circle class="N" cx="1494.4" cy="380.6" r="2.9"/>
<circle class="N" cx="1503.4" cy="399.4" r="2.9"/>
<circle class="N" cx="1293.5" cy="264.3" r="2.9"/>
<circle class="N" cx="2138.3" cy="237.8" r="2.9"/>
<circle class="N" cx="688.6" cy="449.9" r="2.9"/>
<circle class="N" cx="1244.4" cy="387.3" r="2.9"/>
<circle class="A" cx="1767.1" cy="459.7" r="2.9"/>
<circle class="B" cx="1225.2" cy="435.7" r="2.9"/>
<circle class="P" cx="363.5" cy="318.4" r="2.9"/>
<circle class="N" cx="956.6" cy="224.4" r="2.9"/>
<circle class="P" cx="259.7" cy="343.2" r="2.9"/>
<circle class="N" cx="1427.9" cy="348.9" r="2.9"/>
<circle class="P" cx="1273.0" cy="444.6" r="2.9"/>
<circle class="N" cx="338.4" cy="151.5" r="2.9"/>
<circle class="N" cx="746.9" cy="144.6" r="2.9"/>
<circle class="B" cx="1191.8" cy="445.4" r="2.9"/>
<circle class="P" cx="230.0" cy="345.4" r="2.9"/>
<circle class="N" cx="836.6" cy="182.9" r="2.9"/>
<circle class="N" cx="1264.3" cy="326.4" r="2.9"/>
<circle class="P" cx="121.9" cy="438.9" r="2.9"/>
<circle class="N" cx="262.1" cy="207.1" r="2.9"/>
<circle class="N" cx="1216.5" cy="335.3" r="2.9"/>
<circle class="N" cx="906.9" cy="222.4" r="2.9"/>
<circle class="P" cx="1829.4" cy="441.5" r="2.9"/>
<circle class="P" cx="1326.3" cy="445.6" r="2.9"/>
<circle class="N" cx="2073.0" cy="323.2" r="2.9"/>
<circle class="N" cx="331.5" cy="178.6" r="2.9"/>
<circle class="N" cx="2019.2" cy="413.0" r="2.9"/>
<circle class="P" cx="1378.3" cy="412.6" r="2.9"/>
<circle class="N" cx="110.8" cy="314.0" r="2.9"/>
<circle class="N" cx="898.2" cy="175.7" r="2.9"/>
<circle class="P" cx="767.3" cy="431.9" r="2.9"/>
<circle class="P" cx="1311.8" cy="452.3" r="2.9"/>
<circle class="N" cx="1862.8" cy="339.2" r="2.9"/>
<circle class="A" cx="1777.0" cy="403.3" r="2.9"/>
<circle class="N" cx="380.4" cy="172.7" r="2.9"/>
<circle class="N" cx="386.6" cy="160.5" r="2.9"/>
<circle class="P" cx="1959.2" cy="340.4" r="2.9"/>
<circle class="N" cx="2042.4" cy="361.2" r="2.9"/>
<circle class="N" cx="1240.9" cy="336.2" r="2.9"/>
<circle class="P" cx="763.3" cy="436.5" r="2.9"/>
<circle class="N" cx="886.9" cy="257.4" r="2.9"/>
<circle class="N" cx="949.7" cy="221.6" r="2.9"/>
<circle class="P" cx="157.1" cy="455.4" r="2.9"/>
<circle class="B" cx="1793.2" cy="435.0" r="2.9"/>
<circle class="B" cx="1813.5" cy="433.8" r="2.9"/>
<circle class="N" cx="1981.8" cy="316.9" r="2.9"/>
<circle class="B" cx="1197.5" cy="442.1" r="2.9"/>
<circle class="N" cx="259.1" cy="151.0" r="2.9"/>
<circle class="N" cx="1346.4" cy="240.0" r="2.9"/>
<circle class="N" cx="683.6" cy="312.8" r="2.9"/>
<circle class="P" cx="1843.9" cy="450.2" r="2.9"/>
<circle class="N" cx="944.7" cy="255.2" r="2.9"/>
<circle class="P" cx="295.0" cy="269.1" r="2.9"/>
<circle class="N" cx="1287.4" cy="319.1" r="2.9"/>
<circle class="N" cx="305.7" cy="159.9" r="2.9"/>
<circle class="N" cx="2034.6" cy="233.5" r="2.9"/>
<circle class="N" cx="2045.9" cy="291.3" r="2.9"/>
<circle class="N" cx="919.2" cy="146.2" r="2.9"/>
<circle class="N" cx="335.0" cy="86.1" r="2.9"/>
<circle class="N" cx="662.5" cy="320.8" r="2.9"/>
<circle class="B" cx="1835.7" cy="402.4" r="2.9"/>
<circle class="N" cx="2085.5" cy="148.7" r="2.9"/>
<circle class="N" cx="903.8" cy="215.0" r="2.9"/>
<circle class="N" cx="188.9" cy="145.1" r="2.9"/>
<circle class="N" cx="2056.8" cy="291.5" r="2.9"/>
<circle class="N" cx="1198.9" cy="399.5" r="2.9"/>
<circle class="N" cx="2053.7" cy="255.7" r="2.9"/>
<circle class="N" cx="1327.7" cy="250.9" r="2.9"/>
<circle class="P" cx="766.7" cy="436.6" r="2.9"/>
<circle class="P" cx="351.3" cy="288.4" r="2.9"/>
<circle class="P" cx="1360.4" cy="429.8" r="2.9"/>
<circle class="N" cx="1204.1" cy="413.1" r="2.9"/>
<circle class="N" cx="901.1" cy="320.9" r="2.9"/>
<circle class="N" cx="1482.3" cy="396.1" r="2.9"/>
<circle class="N" cx="1371.0" cy="199.1" r="2.9"/>
<circle class="N" cx="132.5" cy="228.0" r="2.9"/>
<circle class="N" cx="2055.4" cy="249.9" r="2.9"/>
<circle class="N" cx="2006.5" cy="350.0" r="2.9"/>
<circle class="P" cx="369.0" cy="239.2" r="2.9"/>
<circle class="N" cx="2124.8" cy="249.8" r="2.9"/>
<circle class="B" cx="1813.2" cy="412.3" r="2.9"/>
<circle class="N" cx="394.0" cy="191.7" r="2.9"/>
<circle class="N" cx="1508.2" cy="325.1" r="2.9"/>
<circle class="P" cx="853.2" cy="299.5" r="2.9"/>
<circle class="N" cx="1486.8" cy="323.7" r="2.9"/>
<circle class="N" cx="1540.9" cy="294.9" r="2.9"/>
<circle class="N" cx="1995.0" cy="303.3" r="2.9"/>
<circle class="A" cx="629.1" cy="436.9" r="2.9"/>
<circle class="N" cx="938.5" cy="265.0" r="2.9"/>
<circle class="P" cx="368.5" cy="267.5" r="2.9"/>
<circle class="N" cx="2106.7" cy="271.4" r="2.9"/>
<circle class="P" cx="800.9" cy="398.7" r="2.9"/>
<circle class="N" cx="150.2" cy="295.4" r="2.9"/>
<circle class="N" cx="113.4" cy="356.5" r="2.9"/>
<circle class="N" cx="421.5" cy="258.8" r="2.9"/>
<circle class="N" cx="877.3" cy="269.2" r="2.9"/>
<circle class="N" cx="134.1" cy="279.0" r="2.9"/>
<circle class="D" cx="687.2" cy="427.5" r="2.9"/>
<circle class="N" cx="2030.6" cy="298.1" r="2.9"/>
<circle class="N" cx="264.9" cy="149.9" r="2.9"/>
<circle class="B" cx="629.4" cy="425.9" r="2.9"/>
<circle class="N" cx="1473.0" cy="375.0" r="2.9"/>
<circle class="N" cx="956.5" cy="199.6" r="2.9"/>
<circle class="D" cx="66.0" cy="453.9" r="2.9"/>
<circle class="P" cx="107.8" cy="445.9" r="2.9"/>
<circle class="N" cx="924.5" cy="90.2" r="2.9"/>
<circle class="P" cx="295.0" cy="288.3" r="2.9"/>
<circle class="N" cx="1306.3" cy="391.4" r="2.9"/>
<circle class="N" cx="902.4" cy="77.2" r="2.9"/>
<circle class="N" cx="1517.1" cy="340.5" r="2.9"/>
<circle class="N" cx="2011.5" cy="308.2" r="2.9"/>
<circle class="P" cx="1831.4" cy="408.5" r="2.9"/>
<circle class="N" cx="276.5" cy="142.4" r="2.9"/>
<circle class="P" cx="72.7" cy="448.5" r="2.9"/>
<circle class="N" cx="1963.8" cy="326.9" r="2.9"/>
<circle class="N" cx="863.6" cy="177.2" r="2.9"/>
<circle class="P" cx="236.0" cy="290.1" r="2.9"/>
<circle class="N" cx="166.2" cy="252.9" r="2.9"/>
<circle class="N" cx="140.0" cy="257.0" r="2.9"/>
<circle class="N" cx="1226.5" cy="325.1" r="2.9"/>
<circle class="P" cx="750.6" cy="447.7" r="2.9"/>
<circle class="N" cx="1278.5" cy="359.7" r="2.9"/>
<circle class="N" cx="2001.9" cy="327.0" r="2.9"/>
<circle class="P" cx="1888.5" cy="365.7" r="2.9"/>
<circle class="N" cx="2008.1" cy="253.4" r="2.9"/>
<circle class="N" cx="285.6" cy="153.0" r="2.9"/>
<circle class="N" cx="1210.9" cy="386.6" r="2.9"/>
<circle class="N" cx="2074.6" cy="282.8" r="2.9"/>
<circle class="B" cx="1827.9" cy="440.1" r="2.9"/>
<circle class="P" cx="286.7" cy="286.7" r="2.9"/>
<circle class="N" cx="289.5" cy="125.1" r="2.9"/>
<circle class="N" cx="931.0" cy="213.2" r="2.9"/>
<circle class="N" cx="1358.5" cy="186.2" r="2.9"/>
<circle class="P" cx="839.3" cy="415.7" r="2.9"/>
<circle class="N" cx="307.3" cy="142.3" r="2.9"/>
<circle class="P" cx="1854.8" cy="423.6" r="2.9"/>
<circle class="P" cx="1967.2" cy="364.3" r="2.9"/>
<circle class="B" cx="689.5" cy="430.5" r="2.9"/>
<circle class="N" cx="799.2" cy="209.3" r="2.9"/>
<circle class="N" cx="2014.6" cy="181.4" r="2.9"/>
<circle class="N" cx="2072.5" cy="245.4" r="2.9"/>
<circle class="N" cx="803.9" cy="271.1" r="2.9"/>
<circle class="N" cx="1441.9" cy="379.8" r="2.9"/>
<circle class="N" cx="164.9" cy="255.4" r="2.9"/>
<circle class="N" cx="2053.6" cy="255.8" r="2.9"/>
<circle class="P" cx="1416.7" cy="419.8" r="2.9"/>
<circle class="B" cx="1217.1" cy="446.6" r="2.9"/>
<circle class="N" cx="895.1" cy="332.6" r="2.9"/>
<circle class="N" cx="922.6" cy="181.1" r="2.9"/>
<circle class="B" cx="97.9" cy="432.1" r="2.9"/>
<circle class="P" cx="241.6" cy="315.0" r="2.9"/>
<circle class="N" cx="1990.7" cy="182.3" r="2.9"/>
<circle class="P" cx="1920.3" cy="401.0" r="2.9"/>
<circle class="N" cx="882.6" cy="216.4" r="2.9"/>
<circle class="N" cx="1482.3" cy="346.7" r="2.9"/>
<circle class="N" cx="1024.3" cy="197.5" r="2.9"/>
<circle class="P" cx="1412.1" cy="429.3" r="2.9"/>
<circle class="N" cx="663.1" cy="410.2" r="2.9"/>
<circle class="N" cx="1938.3" cy="354.6" r="2.9"/>
<circle class="P" cx="1872.4" cy="416.9" r="2.9"/>
<circle class="N" cx="697.3" cy="306.1" r="2.9"/>
<circle class="N" cx="2095.8" cy="261.1" r="2.9"/>
<circle class="N" cx="2105.5" cy="142.1" r="2.9"/>
<circle class="P" cx="766.5" cy="432.1" r="2.9"/>
<circle class="N" cx="844.1" cy="179.9" r="2.9"/>
<circle class="P" cx="1795.5" cy="417.8" r="2.9"/>
<circle class="N" cx="891.9" cy="307.4" r="2.9"/>
<circle class="N" cx="1215.6" cy="391.7" r="2.9"/>
<circle class="N" cx="851.9" cy="249.6" r="2.9"/>
<circle class="N" cx="164.6" cy="175.2" r="2.9"/>
<circle class="N" cx="905.7" cy="189.1" r="2.9"/>
<circle class="N" cx="1218.4" cy="404.4" r="2.9"/>
<circle class="N" cx="1527.4" cy="314.9" r="2.9"/>
<circle class="P" cx="1402.2" cy="447.8" r="2.9"/>
<circle class="A" cx="1235.4" cy="437.2" r="2.9"/>
<circle class="P" cx="1858.8" cy="419.4" r="2.9"/>
<circle class="B" cx="645.0" cy="440.7" r="2.9"/>
<circle class="P" cx="1867.5" cy="396.1" r="2.9"/>
<circle class="N" cx="1554.2" cy="347.2" r="2.9"/>
<circle class="N" cx="238.5" cy="123.2" r="2.9"/>
<circle class="N" cx="769.9" cy="194.1" r="2.9"/>
<circle class="N" cx="1947.9" cy="228.1" r="2.9"/>
<circle class="D" cx="91.6" cy="450.6" r="2.9"/>
<circle class="N" cx="2076.3" cy="256.8" r="2.9"/>
<circle class="P" cx="1822.9" cy="425.5" r="2.9"/>
<circle class="N" cx="990.8" cy="168.8" r="2.9"/>
<circle class="P" cx="1946.0" cy="358.7" r="2.9"/>
<circle class="N" cx="289.9" cy="152.3" r="2.9"/>
<circle class="N" cx="332.2" cy="79.7" r="2.9"/>
<circle class="N" cx="691.5" cy="382.8" r="2.9"/>
<circle class="P" cx="1340.4" cy="449.7" r="2.9"/>
<circle class="N" cx="2076.7" cy="313.2" r="2.9"/>
<circle class="N" cx="2112.8" cy="148.8" r="2.9"/>
<circle class="P" cx="901.4" cy="376.7" r="2.9"/>
<circle class="P" cx="1451.9" cy="412.1" r="2.9"/>
<circle class="P" cx="827.6" cy="366.6" r="2.9"/>
<circle class="P" cx="1362.0" cy="454.5" r="2.9"/>
<circle class="N" cx="655.4" cy="405.3" r="2.9"/>
<circle class="B" cx="83.6" cy="456.9" r="2.9"/>
<circle class="N" cx="1493.4" cy="315.7" r="2.9"/>
<circle class="N" cx="684.9" cy="358.7" r="2.9"/>
<circle class="N" cx="297.8" cy="141.1" r="2.9"/>
<circle class="P" cx="1870.2" cy="417.9" r="2.9"/>
<circle class="N" cx="1503.2" cy="370.0" r="2.9"/>
<circle class="A" cx="1765.4" cy="460.4" r="2.9"/>
<circle class="N" cx="1883.2" cy="350.5" r="2.9"/>
<circle class="N" cx="1405.7" cy="264.4" r="2.9"/>
<circle class="N" cx="1258.6" cy="266.8" r="2.9"/>
<circle class="P" cx="814.5" cy="421.6" r="2.9"/>
<circle class="N" cx="1486.0" cy="346.1" r="2.9"/>
<circle class="B" cx="1198.0" cy="432.8" r="2.9"/>
<circle class="B" cx="1212.2" cy="442.5" r="2.9"/>
<circle class="N" cx="408.2" cy="93.6" r="2.9"/>
<circle class="N" cx="902.3" cy="194.2" r="2.9"/>
<circle class="N" cx="259.9" cy="137.8" r="2.9"/>
<circle class="N" cx="1433.6" cy="272.3" r="2.9"/>
<circle class="N" cx="1525.0" cy="323.4" r="2.9"/>
<circle class="B" cx="96.5" cy="436.2" r="2.9"/>
<circle class="P" cx="799.5" cy="441.1" r="2.9"/>
<circle class="N" cx="240.4" cy="77.4" r="2.9"/>
<circle class="N" cx="1565.0" cy="382.8" r="2.9"/>
<circle class="P" cx="847.1" cy="386.8" r="2.9"/>
<circle class="N" cx="1958.3" cy="320.5" r="2.9"/>
<circle class="P" cx="243.9" cy="328.7" r="2.9"/>
<circle class="N" cx="1316.0" cy="238.2" r="2.9"/>
<circle class="N" cx="2098.1" cy="272.9" r="2.9"/>
<circle class="P" cx="1451.8" cy="428.5" r="2.9"/>
<circle class="N" cx="899.3" cy="209.9" r="2.9"/>
<circle class="N" cx="273.8" cy="151.0" r="2.9"/>
<circle class="A" cx="1797.7" cy="414.7" r="2.9"/>
<circle class="N" cx="1962.0" cy="355.9" r="2.9"/>
<circle class="N" cx="758.0" cy="134.1" r="2.9"/>
<circle class="P" cx="1983.1" cy="344.9" r="2.9"/>
<circle class="N" cx="2050.8" cy="248.5" r="2.9"/>
<circle class="B" cx="1207.0" cy="453.7" r="2.9"/>
<circle class="N" cx="280.9" cy="126.6" r="2.9"/>
<circle class="N" cx="2004.3" cy="339.3" r="2.9"/>
<circle class="A" cx="71.4" cy="434.9" r="2.9"/>
<circle class="P" cx="281.3" cy="328.7" r="2.9"/>
<circle class="D" cx="651.4" cy="439.2" r="2.9"/>
<circle class="N" cx="1319.3" cy="209.4" r="2.9"/>
<circle class="N" cx="276.6" cy="137.5" r="2.9"/>
<circle class="N" cx="2001.0" cy="447.6" r="2.9"/>
<circle class="P" cx="1399.2" cy="455.2" r="2.9"/>
<circle class="N" cx="65.4" cy="389.7" r="2.9"/>
<circle class="N" cx="1476.4" cy="317.9" r="2.9"/>
<circle class="N" cx="79.2" cy="460.6" r="2.9"/>
<circle class="P" cx="772.0" cy="404.7" r="2.9"/>
<circle class="N" cx="1882.5" cy="320.6" r="2.9"/>
<circle class="N" cx="696.0" cy="341.7" r="2.9"/>
<circle class="N" cx="782.1" cy="272.3" r="2.9"/>
<circle class="N" cx="908.4" cy="230.6" r="2.9"/>
<circle class="P" cx="248.0" cy="340.9" r="2.9"/>
<circle class="N" cx="1493.4" cy="375.1" r="2.9"/>
<circle class="N" cx="2066.1" cy="332.5" r="2.9"/>
<circle class="P" cx="313.5" cy="254.2" r="2.9"/>
<circle class="P" cx="148.6" cy="455.4" r="2.9"/>
<circle class="N" cx="2094.7" cy="151.2" r="2.9"/>
<circle class="N" cx="952.4" cy="159.2" r="2.9"/>
<circle class="N" cx="1992.7" cy="320.0" r="2.9"/>
<circle class="P" cx="1859.8" cy="399.2" r="2.9"/>
<circle class="N" cx="922.4" cy="301.4" r="2.9"/>
<circle class="B" cx="60.3" cy="456.2" r="2.9"/>
<circle class="B" cx="1191.0" cy="432.9" r="2.9"/>
<circle class="B" cx="633.4" cy="428.9" r="2.9"/>
<circle class="N" cx="1486.1" cy="382.4" r="2.9"/>
<circle class="N" cx="1990.2" cy="336.5" r="2.9"/>
<circle class="N" cx="264.2" cy="108.9" r="2.9"/>
<circle class="N" cx="324.2" cy="155.0" r="2.9"/>
<circle class="N" cx="2106.9" cy="324.5" r="2.9"/>
<circle class="N" cx="1260.3" cy="289.6" r="2.9"/>
<circle class="N" cx="1401.5" cy="253.0" r="2.9"/>
<circle class="N" cx="1346.3" cy="285.0" r="2.9"/>
<circle class="N" cx="1246.3" cy="321.9" r="2.9"/>
<circle class="N" cx="402.1" cy="186.7" r="2.9"/>
<circle class="N" cx="282.5" cy="257.0" r="2.9"/>
<circle class="P" cx="917.0" cy="275.0" r="2.9"/>
<circle class="N" cx="2053.6" cy="324.2" r="2.9"/>
<circle class="N" cx="1230.7" cy="398.0" r="2.9"/>
<circle class="N" cx="2029.1" cy="336.1" r="2.9"/>
<circle class="N" cx="303.9" cy="226.8" r="2.9"/>
<circle class="A" cx="1212.8" cy="443.7" r="2.9"/>
<circle class="N" cx="266.7" cy="224.0" r="2.9"/>
<circle class="A" cx="1770.3" cy="395.3" r="2.9"/>
<circle class="N" cx="333.8" cy="156.8" r="2.9"/>
<circle class="N" cx="1396.1" cy="247.1" r="2.9"/>
<circle class="N" cx="2048.6" cy="388.9" r="2.9"/>
<circle class="N" cx="948.7" cy="193.3" r="2.9"/>
<circle class="A" cx="1229.6" cy="434.9" r="2.9"/>
<circle class="N" cx="2045.2" cy="359.1" r="2.9"/>
<circle class="N" cx="908.0" cy="195.2" r="2.9"/>
<circle class="N" cx="200.7" cy="190.0" r="2.9"/>
<circle class="P" cx="1429.1" cy="410.1" r="2.9"/>
<circle class="N" cx="1255.2" cy="313.2" r="2.9"/>
<circle class="P" cx="207.1" cy="387.5" r="2.9"/>
<circle class="N" cx="625.3" cy="404.8" r="2.9"/>
<circle class="N" cx="168.0" cy="225.8" r="2.9"/>
<circle class="P" cx="1389.7" cy="440.4" r="2.9"/>
<circle class="N" cx="1908.4" cy="388.6" r="2.9"/>
<circle class="N" cx="71.3" cy="371.5" r="2.9"/>
<circle class="P" cx="792.9" cy="438.8" r="2.9"/>
<circle class="N" cx="1434.7" cy="261.4" r="2.9"/>
<circle class="N" cx="908.9" cy="181.4" r="2.9"/>
<circle class="N" cx="688.4" cy="386.2" r="2.9"/>
<circle class="N" cx="1216.5" cy="318.1" r="2.9"/>
<circle class="P" cx="231.3" cy="396.8" r="2.9"/>
<circle class="P" cx="1425.6" cy="427.2" r="2.9"/>
<circle class="N" cx="1196.2" cy="423.8" r="2.9"/>
<circle class="N" cx="932.6" cy="240.8" r="2.9"/>
<circle class="P" cx="304.4" cy="285.8" r="2.9"/>
<circle class="A" cx="1796.3" cy="402.2" r="2.9"/>
<circle class="A" cx="674.8" cy="430.4" r="2.9"/>
<circle class="N" cx="2025.4" cy="296.8" r="2.9"/>
<circle class="P" cx="334.1" cy="261.8" r="2.9"/>
<circle class="P" cx="288.0" cy="308.1" r="2.9"/>
<circle class="N" cx="815.4" cy="105.6" r="2.9"/>
<circle class="P" cx="1894.9" cy="420.4" r="2.9"/>
<circle class="N" cx="2045.9" cy="358.3" r="2.9"/>
<circle class="N" cx="2027.9" cy="321.5" r="2.9"/>
<circle class="P" cx="1828.3" cy="412.6" r="2.9"/>
<circle class="B" cx="680.4" cy="440.1" r="2.9"/>
<circle class="N" cx="1387.1" cy="210.8" r="2.9"/>
<circle class="N" cx="1394.0" cy="269.6" r="2.9"/>
<circle class="N" cx="902.7" cy="116.4" r="2.9"/>
<circle class="N" cx="897.1" cy="122.1" r="2.9"/>
<circle class="N" cx="947.9" cy="194.2" r="2.9"/>
<circle class="P" cx="209.1" cy="376.1" r="2.9"/>
<circle class="N" cx="664.6" cy="361.5" r="2.9"/>
<circle class="P" cx="743.8" cy="407.7" r="2.9"/>
<circle class="N" cx="350.1" cy="141.0" r="2.9"/>
<circle class="N" cx="389.2" cy="264.1" r="2.9"/>
<circle class="N" cx="1471.4" cy="446.8" r="2.9"/>
<circle class="N" cx="307.0" cy="154.7" r="2.9"/>
<circle class="N" cx="851.3" cy="219.5" r="2.9"/>
<circle class="P" cx="116.0" cy="432.6" r="2.9"/>
<circle class="N" cx="1472.0" cy="363.4" r="2.9"/>
<circle class="B" cx="628.5" cy="415.5" r="2.9"/>
<circle class="A" cx="1267.6" cy="446.7" r="2.9"/>
<circle class="N" cx="1575.0" cy="323.2" r="2.9"/>
<circle class="A" cx="99.4" cy="454.9" r="2.9"/>
<circle class="N" cx="1518.8" cy="356.0" r="2.9"/>
<circle class="N" cx="1551.4" cy="338.0" r="2.9"/>
<circle class="N" cx="1535.9" cy="335.7" r="2.9"/>
<circle class="P" cx="1364.7" cy="423.2" r="2.9"/>
<circle class="N" cx="1245.9" cy="312.8" r="2.9"/>
<circle class="N" cx="1543.7" cy="280.3" r="2.9"/>
<circle class="N" cx="293.8" cy="197.5" r="2.9"/>
<circle class="B" cx="65.1" cy="437.4" r="2.9"/>
<circle class="P" cx="131.5" cy="448.6" r="2.9"/>
<circle class="N" cx="2009.2" cy="304.2" r="2.9"/>
<circle class="P" cx="1882.7" cy="445.9" r="2.9"/>
<circle class="P" cx="1425.8" cy="402.1" r="2.9"/>
<circle class="P" cx="1433.7" cy="417.5" r="2.9"/>
<circle class="N" cx="153.9" cy="212.6" r="2.9"/>
<circle class="N" cx="314.8" cy="122.4" r="2.9"/>
<circle class="N" cx="113.3" cy="309.6" r="2.9"/>
<circle class="N" cx="1513.0" cy="379.8" r="2.9"/>
<circle class="N" cx="1555.5" cy="290.7" r="2.9"/>
<circle class="N" cx="289.2" cy="160.6" r="2.9"/>
<circle class="N" cx="1000.2" cy="187.7" r="2.9"/>
<circle class="P" cx="1856.6" cy="432.4" r="2.9"/>
<circle class="N" cx="2108.3" cy="265.0" r="2.9"/>
<circle class="P" cx="1297.4" cy="458.5" r="2.9"/>
<circle class="P" cx="1858.2" cy="425.2" r="2.9"/>
<circle class="N" cx="1318.4" cy="334.6" r="2.9"/>
<circle class="P" cx="172.4" cy="407.6" r="2.9"/>
<circle class="B" cx="94.7" cy="443.0" r="2.9"/>
<circle class="N" cx="2071.6" cy="290.6" r="2.9"/>
<circle class="N" cx="1994.8" cy="343.8" r="2.9"/>
<circle class="N" cx="2010.2" cy="329.5" r="2.9"/>
<circle class="N" cx="116.4" cy="273.6" r="2.9"/>
<circle class="N" cx="698.0" cy="308.9" r="2.9"/>
<circle class="N" cx="1511.0" cy="376.6" r="2.9"/>
<circle class="B" cx="1818.6" cy="458.0" r="2.9"/>
<circle class="N" cx="954.5" cy="203.4" r="2.9"/>
<circle class="N" cx="2090.1" cy="281.8" r="2.9"/>
<circle class="N" cx="357.4" cy="186.5" r="2.9"/>
<circle class="N" cx="2052.0" cy="309.6" r="2.9"/>
<circle class="N" cx="2185.8" cy="217.5" r="2.9"/>
<circle class="N" cx="886.7" cy="255.5" r="2.9"/>
<circle class="P" cx="835.4" cy="403.7" r="2.9"/>
<circle class="A" cx="672.6" cy="429.5" r="2.9"/>
<circle class="P" cx="1955.9" cy="381.2" r="2.9"/>
<circle class="N" cx="1757.6" cy="422.9" r="2.9"/>
<circle class="P" cx="746.1" cy="434.8" r="2.9"/>
<circle class="N" cx="309.1" cy="169.7" r="2.9"/>
<circle class="N" cx="1450.9" cy="251.5" r="2.9"/>
<circle class="N" cx="393.9" cy="169.5" r="2.9"/>
<circle class="N" cx="279.4" cy="97.3" r="2.9"/>
<circle class="N" cx="280.6" cy="115.3" r="2.9"/>
<circle class="B" cx="657.7" cy="425.1" r="2.9"/>
<circle class="N" cx="1994.0" cy="345.5" r="2.9"/>
<circle class="N" cx="97.3" cy="297.6" r="2.9"/>
<circle class="N" cx="838.4" cy="178.3" r="2.9"/>
<circle class="N" cx="325.1" cy="120.1" r="2.9"/>
<circle class="P" cx="1245.7" cy="451.6" r="2.9"/>
<circle class="N" cx="921.6" cy="171.9" r="2.9"/>
<circle class="D" cx="1196.2" cy="453.0" r="2.9"/>
<circle class="P" cx="1319.4" cy="423.8" r="2.9"/>
<circle class="P" cx="1912.0" cy="405.0" r="2.9"/>
<circle class="N" cx="283.9" cy="145.9" r="2.9"/>
<circle class="N" cx="188.1" cy="201.5" r="2.9"/>
<circle class="N" cx="909.2" cy="217.5" r="2.9"/>
<circle class="N" cx="860.1" cy="246.3" r="2.9"/>
<circle class="N" cx="304.5" cy="104.3" r="2.9"/>
<circle class="N" cx="877.8" cy="221.9" r="2.9"/>
<circle class="P" cx="1872.7" cy="426.5" r="2.9"/>
<circle class="N" cx="950.1" cy="240.2" r="2.9"/>
<circle class="N" cx="661.5" cy="383.5" r="2.9"/>
<circle class="N" cx="2073.3" cy="302.7" r="2.9"/>
<circle class="N" cx="1971.0" cy="372.1" r="2.9"/>
<circle class="N" cx="1213.4" cy="373.9" r="2.9"/>
<circle class="N" cx="907.2" cy="191.6" r="2.9"/>
<circle class="P" cx="1357.2" cy="441.1" r="2.9"/>
<circle class="N" cx="1217.9" cy="327.9" r="2.9"/>
<circle class="N" cx="2061.1" cy="348.2" r="2.9"/>
<circle class="N" cx="148.1" cy="190.2" r="2.9"/>
<circle class="N" cx="1580.2" cy="323.5" r="2.9"/>
<circle class="N" cx="1256.0" cy="411.5" r="2.9"/>
<circle class="N" cx="1275.7" cy="361.5" r="2.9"/>
<circle class="P" cx="768.3" cy="404.4" r="2.9"/>
<circle class="P" cx="1864.8" cy="400.9" r="2.9"/>
<circle class="N" cx="1428.8" cy="389.6" r="2.9"/>
<circle class="N" cx="269.1" cy="113.7" r="2.9"/>
<circle class="N" cx="2002.1" cy="339.5" r="2.9"/>
<circle class="B" cx="1827.3" cy="406.4" r="2.9"/>
<circle class="P" cx="1413.4" cy="409.1" r="2.9"/>
<circle class="D" cx="60.6" cy="447.2" r="2.9"/>
<circle class="N" cx="2049.5" cy="327.7" r="2.9"/>
<circle class="P" cx="1856.3" cy="377.0" r="2.9"/>
<circle class="P" cx="1869.0" cy="424.0" r="2.9"/>
<circle class="P" cx="861.3" cy="330.9" r="2.9"/>
<circle class="P" cx="1953.8" cy="362.0" r="2.9"/>
<circle class="N" cx="1305.0" cy="301.6" r="2.9"/>
<circle class="N" cx="2092.2" cy="349.0" r="2.9"/>
<circle class="N" cx="318.0" cy="139.8" r="2.9"/>
<circle class="B" cx="1836.6" cy="395.9" r="2.9"/>
<circle class="P" cx="818.0" cy="371.1" r="2.9"/>
<circle class="N" cx="1272.2" cy="252.2" r="2.9"/>
<circle class="B" cx="643.6" cy="449.0" r="2.9"/>
<circle class="N" cx="937.6" cy="212.8" r="2.9"/>
<circle class="N" cx="1293.8" cy="317.6" r="2.9"/>
<circle class="P" cx="1861.7" cy="423.7" r="2.9"/>
<circle class="N" cx="198.3" cy="217.3" r="2.9"/>
<circle class="P" cx="1369.4" cy="419.4" r="2.9"/>
<circle class="N" cx="1495.1" cy="374.9" r="2.9"/>
<circle class="P" cx="187.4" cy="361.9" r="2.9"/>
<circle class="B" cx="636.2" cy="436.0" r="2.9"/>
<circle class="P" cx="1359.4" cy="456.7" r="2.9"/>
<circle class="P" cx="810.3" cy="394.9" r="2.9"/>
<circle class="N" cx="1770.9" cy="395.0" r="2.9"/>
<circle class="N" cx="1939.5" cy="229.9" r="2.9"/>
<circle class="N" cx="1974.7" cy="228.2" r="2.9"/>
<circle class="P" cx="140.6" cy="450.7" r="2.9"/>
<circle class="N" cx="1910.2" cy="405.2" r="2.9"/>
<circle class="N" cx="1374.7" cy="256.1" r="2.9"/>
<circle class="N" cx="258.4" cy="173.0" r="2.9"/>
<circle class="N" cx="250.2" cy="152.3" r="2.9"/>
<circle class="P" cx="228.6" cy="299.8" r="2.9"/>
<circle class="N" cx="1401.7" cy="412.8" r="2.9"/>
<circle class="A" cx="1213.1" cy="457.4" r="2.9"/>
<circle class="N" cx="1468.6" cy="341.2" r="2.9"/>
<circle class="N" cx="1560.3" cy="381.2" r="2.9"/>
<circle class="P" cx="1404.6" cy="431.8" r="2.9"/>
<circle class="P" cx="1408.6" cy="427.7" r="2.9"/>
<circle class="N" cx="2119.2" cy="193.0" r="2.9"/>
<circle class="P" cx="1851.1" cy="417.4" r="2.9"/>
<circle class="N" cx="912.4" cy="211.5" r="2.9"/>
<circle class="N" cx="2070.7" cy="300.9" r="2.9"/>
<circle class="N" cx="1298.9" cy="285.3" r="2.9"/>
<circle class="N" cx="810.9" cy="183.5" r="2.9"/>
<circle class="P" cx="287.4" cy="284.8" r="2.9"/>
<circle class="N" cx="328.7" cy="119.7" r="2.9"/>
<circle class="N" cx="674.2" cy="380.7" r="2.9"/>
<circle class="B" cx="98.6" cy="439.5" r="2.9"/>
<circle class="P" cx="1282.8" cy="431.1" r="2.9"/>
<circle class="N" cx="1325.5" cy="287.3" r="2.9"/>
<circle class="N" cx="359.2" cy="148.0" r="2.9"/>
<circle class="N" cx="1015.9" cy="128.3" r="2.9"/>
<circle class="N" cx="943.8" cy="236.2" r="2.9"/>
<circle class="N" cx="1224.9" cy="405.8" r="2.9"/>
<circle class="N" cx="1316.4" cy="236.0" r="2.9"/>
<circle class="P" cx="1859.6" cy="405.4" r="2.9"/>
<circle class="N" cx="889.0" cy="271.6" r="2.9"/>
<circle class="N" cx="1487.7" cy="286.1" r="2.9"/>
<circle class="N" cx="2019.7" cy="383.6" r="2.9"/>
<circle class="N" cx="1463.8" cy="234.2" r="2.9"/>
<circle class="N" cx="85.0" cy="372.3" r="2.9"/>
<circle class="P" cx="1850.1" cy="420.8" r="2.9"/>
<circle class="N" cx="791.6" cy="127.3" r="2.9"/>
<circle class="B" cx="688.0" cy="400.9" r="2.9"/>
<circle class="N" cx="831.6" cy="182.1" r="2.9"/>
<circle class="A" cx="1769.2" cy="433.4" r="2.9"/>
<circle class="N" cx="898.7" cy="184.0" r="2.9"/>
<circle class="P" cx="637.5" cy="427.2" r="2.9"/>
<circle class="D" cx="1763.1" cy="428.2" r="2.9"/>
<circle class="N" cx="389.6" cy="232.0" r="2.9"/>
<circle class="N" cx="2003.9" cy="270.6" r="2.9"/>
<circle class="P" cx="1437.9" cy="412.6" r="2.9"/>
<circle class="N" cx="1477.1" cy="395.2" r="2.9"/>
<circle class="N" cx="2084.9" cy="216.2" r="2.9"/>
<circle class="N" cx="1482.5" cy="414.0" r="2.9"/>
<circle class="N" cx="2019.5" cy="345.5" r="2.9"/>
<circle class="P" cx="328.8" cy="288.4" r="2.9"/>
<circle class="N" cx="336.5" cy="215.6" r="2.9"/>
<circle class="P" cx="1427.8" cy="433.0" r="2.9"/>
<circle class="N" cx="841.7" cy="275.9" r="2.9"/>
<circle class="N" cx="925.3" cy="224.1" r="2.9"/>
<circle class="N" cx="340.2" cy="218.1" r="2.9"/>
<circle class="N" cx="65.4" cy="404.6" r="2.9"/>
<circle class="N" cx="90.8" cy="413.9" r="2.9"/>
<circle class="N" cx="270.4" cy="123.7" r="2.9"/>
<circle class="N" cx="1368.5" cy="137.0" r="2.9"/>
<circle class="N" cx="1215.8" cy="341.7" r="2.9"/>
<circle class="N" cx="1970.0" cy="387.0" r="2.9"/>
<circle class="P" cx="1448.0" cy="422.5" r="2.9"/>
<circle class="N" cx="1433.7" cy="279.8" r="2.9"/>
<circle class="N" cx="1535.0" cy="310.1" r="2.9"/>
<circle class="N" cx="2041.8" cy="320.3" r="2.9"/>
<circle class="N" cx="872.7" cy="153.1" r="2.9"/>
<circle class="N" cx="944.4" cy="219.9" r="2.9"/>
<circle class="N" cx="1461.0" cy="260.5" r="2.9"/>
<circle class="N" cx="186.2" cy="165.8" r="2.9"/>
<circle class="N" cx="1520.8" cy="369.6" r="2.9"/>
<circle class="N" cx="1381.8" cy="251.2" r="2.9"/>
<circle class="B" cx="665.5" cy="421.6" r="2.9"/>
<circle class="P" cx="762.8" cy="427.6" r="2.9"/>
<circle class="N" cx="2082.7" cy="349.6" r="2.9"/>
<circle class="N" cx="2079.3" cy="236.8" r="2.9"/>
<circle class="N" cx="345.5" cy="142.8" r="2.9"/>
<circle class="P" cx="177.1" cy="396.5" r="2.9"/>
<circle class="N" cx="884.3" cy="145.6" r="2.9"/>
<circle class="D" cx="632.2" cy="427.7" r="2.9"/>
<circle class="N" cx="369.2" cy="135.9" r="2.9"/>
<circle class="N" cx="2054.6" cy="241.6" r="2.9"/>
<circle class="N" cx="979.8" cy="201.9" r="2.9"/>
<circle class="N" cx="2092.3" cy="311.6" r="2.9"/>
<circle class="P" cx="790.6" cy="391.5" r="2.9"/>
<circle class="P" cx="825.4" cy="368.1" r="2.9"/>
<circle class="P" cx="1339.7" cy="457.2" r="2.9"/>
<circle class="A" cx="719.0" cy="458.5" r="2.9"/>
<circle class="N" cx="2015.0" cy="318.5" r="2.9"/>
<circle class="N" cx="1528.0" cy="299.2" r="2.9"/>
<circle class="N" cx="1223.7" cy="390.5" r="2.9"/>
<circle class="N" cx="895.1" cy="205.9" r="2.9"/>
<circle class="N" cx="1203.1" cy="385.3" r="2.9"/>
<circle class="P" cx="1983.6" cy="339.6" r="2.9"/>
<circle class="N" cx="2123.1" cy="258.5" r="2.9"/>
<circle class="N" cx="1998.5" cy="286.4" r="2.9"/>
<circle class="A" cx="97.8" cy="439.5" r="2.9"/>
<circle class="N" cx="1994.8" cy="323.3" r="2.9"/>
<circle class="D" cx="656.2" cy="416.1" r="2.9"/>
<circle class="N" cx="1262.3" cy="330.2" r="2.9"/>
<circle class="P" cx="360.3" cy="279.7" r="2.9"/>
<circle class="N" cx="903.8" cy="171.0" r="2.9"/>
<circle class="N" cx="875.7" cy="303.3" r="2.9"/>
<circle class="A" cx="1756.6" cy="422.9" r="2.9"/>
<circle class="B" cx="1816.4" cy="403.1" r="2.9"/>
<circle class="N" cx="925.3" cy="103.1" r="2.9"/>
<circle class="P" cx="1898.3" cy="348.5" r="2.9"/>
<circle class="B" cx="1835.7" cy="441.8" r="2.9"/>
<circle class="N" cx="399.1" cy="295.8" r="2.9"/>
<circle class="N" cx="2082.1" cy="294.8" r="2.9"/>
<circle class="N" cx="1458.6" cy="347.0" r="2.9"/>
<circle class="N" cx="764.0" cy="135.5" r="2.9"/>
<circle class="N" cx="974.8" cy="217.4" r="2.9"/>
<circle class="P" cx="753.9" cy="415.0" r="2.9"/>
<circle class="N" cx="1894.2" cy="405.8" r="2.9"/>
<circle class="N" cx="153.4" cy="217.7" r="2.9"/>
<circle class="N" cx="2015.8" cy="354.0" r="2.9"/>
<circle class="N" cx="831.8" cy="190.2" r="2.9"/>
<circle class="N" cx="1536.5" cy="383.4" r="2.9"/>
<circle class="N" cx="904.6" cy="143.4" r="2.9"/>
<circle class="N" cx="343.2" cy="126.6" r="2.9"/>
<circle class="N" cx="2039.0" cy="330.9" r="2.9"/>
<circle class="N" cx="1537.7" cy="343.8" r="2.9"/>
<circle class="A" cx="1763.9" cy="412.1" r="2.9"/>
<circle class="N" cx="967.5" cy="226.3" r="2.9"/>
<circle class="N" cx="1488.8" cy="410.4" r="2.9"/>
<circle class="P" cx="821.5" cy="358.2" r="2.9"/>
<circle class="N" cx="1481.5" cy="368.6" r="2.9"/>
<circle class="P" cx="1956.8" cy="344.2" r="2.9"/>
<circle class="N" cx="1508.2" cy="385.0" r="2.9"/>
<circle class="P" cx="824.5" cy="387.6" r="2.9"/>
<circle class="N" cx="2036.7" cy="304.9" r="2.9"/>
<circle class="P" cx="295.4" cy="292.1" r="2.9"/>
<circle class="N" cx="695.4" cy="392.8" r="2.9"/>
<circle class="N" cx="388.2" cy="282.9" r="2.9"/>
<circle class="P" cx="1364.0" cy="429.8" r="2.9"/>
<circle class="P" cx="1347.6" cy="451.7" r="2.9"/>
<circle class="P" cx="1912.9" cy="362.8" r="2.9"/>
<circle class="N" cx="913.2" cy="176.2" r="2.9"/>
<circle class="B" cx="92.1" cy="453.1" r="2.9"/>
<circle class="N" cx="853.2" cy="233.1" r="2.9"/>
<circle class="N" cx="2060.8" cy="252.4" r="2.9"/>
<circle class="N" cx="1521.7" cy="368.2" r="2.9"/>
<circle class="P" cx="1349.3" cy="456.6" r="2.9"/>
<circle class="N" cx="635.9" cy="447.3" r="2.9"/>
<circle class="N" cx="929.4" cy="222.3" r="2.9"/>
<circle class="N" cx="1298.5" cy="201.5" r="2.9"/>
<circle class="N" cx="1966.4" cy="355.2" r="2.9"/>
<circle class="N" cx="2101.2" cy="242.0" r="2.9"/>
<circle class="N" cx="2047.1" cy="178.9" r="2.9"/>
<circle class="N" cx="1294.3" cy="289.0" r="2.9"/>
<circle class="N" cx="2033.5" cy="385.1" r="2.9"/>
<circle class="P" cx="394.8" cy="214.9" r="2.9"/>
<circle class="N" cx="990.5" cy="206.7" r="2.9"/>
<circle class="N" cx="2023.8" cy="231.6" r="2.9"/>
<circle class="P" cx="655.8" cy="444.5" r="2.9"/>
<circle class="N" cx="1354.0" cy="217.2" r="2.9"/>
<circle class="P" cx="200.1" cy="409.2" r="2.9"/>
<circle class="P" cx="766.8" cy="457.2" r="2.9"/>
<circle class="N" cx="1329.3" cy="184.7" r="2.9"/>
<circle class="P" cx="1833.4" cy="405.7" r="2.9"/>
<circle class="N" cx="1517.1" cy="338.0" r="2.9"/>
<circle class="P" cx="1873.4" cy="390.0" r="2.9"/>
<circle class="N" cx="137.5" cy="221.9" r="2.9"/>
<circle class="P" cx="787.4" cy="432.4" r="2.9"/>
<circle class="A" cx="1766.6" cy="454.0" r="2.9"/>
<circle class="P" cx="234.4" cy="381.0" r="2.9"/>
<circle class="N" cx="346.9" cy="148.7" r="2.9"/>
<circle class="N" cx="1487.1" cy="355.2" r="2.9"/>
<circle class="N" cx="360.5" cy="179.3" r="2.9"/>
<circle class="N" cx="687.7" cy="368.2" r="2.9"/>
<circle class="N" cx="1485.5" cy="407.4" r="2.9"/>
<circle class="P" cx="211.8" cy="381.7" r="2.9"/>
<circle class="P" cx="1863.9" cy="431.3" r="2.9"/>
<circle class="N" cx="875.3" cy="197.9" r="2.9"/>
<circle class="P" cx="1970.0" cy="366.9" r="2.9"/>
<circle class="N" cx="1920.1" cy="331.5" r="2.9"/>
<circle class="A" cx="1210.4" cy="433.7" r="2.9"/>
<circle class="N" cx="219.7" cy="151.2" r="2.9"/>
<circle class="N" cx="2058.9" cy="346.4" r="2.9"/>
<circle class="N" cx="131.1" cy="264.3" r="2.9"/>
<circle class="N" cx="2086.1" cy="325.2" r="2.9"/>
<circle class="N" cx="2016.4" cy="296.3" r="2.9"/>
<circle class="N" cx="2083.2" cy="177.9" r="2.9"/>
<circle class="N" cx="887.5" cy="133.3" r="2.9"/>
<circle class="N" cx="1449.5" cy="360.0" r="2.9"/>
<circle class="N" cx="1250.9" cy="335.0" r="2.9"/>
<circle class="N" cx="314.2" cy="241.6" r="2.9"/>
<circle class="N" cx="1413.4" cy="298.7" r="2.9"/>
<circle class="N" cx="1502.6" cy="362.4" r="2.9"/>
<circle class="N" cx="1308.9" cy="201.9" r="2.9"/>
<circle class="N" cx="1222.1" cy="396.3" r="2.9"/>
<circle class="A" cx="1771.3" cy="402.6" r="2.9"/>
<circle class="N" cx="1458.0" cy="327.4" r="2.9"/>
<circle class="N" cx="2033.2" cy="238.3" r="2.9"/>
<circle class="N" cx="938.2" cy="242.1" r="2.9"/>
<circle class="N" cx="682.5" cy="297.4" r="2.9"/>
<circle class="N" cx="1371.3" cy="193.3" r="2.9"/>
<circle class="N" cx="97.6" cy="262.7" r="2.9"/>
<circle class="N" cx="194.3" cy="122.0" r="2.9"/>
<circle class="N" cx="304.9" cy="110.4" r="2.9"/>
<circle class="P" cx="783.6" cy="428.3" r="2.9"/>
<circle class="N" cx="1918.1" cy="361.9" r="2.9"/>
<circle class="P" cx="1939.0" cy="332.1" r="2.9"/>
<circle class="N" cx="2062.9" cy="315.6" r="2.9"/>
<circle class="P" cx="117.5" cy="439.4" r="2.9"/>
<circle class="N" cx="873.7" cy="214.4" r="2.9"/>
<circle class="A" cx="1758.3" cy="446.2" r="2.9"/>
<circle class="N" cx="1994.9" cy="361.7" r="2.9"/>
<circle class="P" cx="215.8" cy="340.5" r="2.9"/>
<circle class="N" cx="838.4" cy="123.4" r="2.9"/>
<circle class="P" cx="296.5" cy="297.4" r="2.9"/>
<circle class="P" cx="1910.4" cy="408.9" r="2.9"/>
<circle class="N" cx="1869.0" cy="376.4" r="2.9"/>
<circle class="P" cx="1408.9" cy="423.8" r="2.9"/>
<circle class="N" cx="2058.7" cy="285.3" r="2.9"/>
<circle class="N" cx="1476.2" cy="341.2" r="2.9"/>
<circle class="P" cx="797.8" cy="424.1" r="2.9"/>
<circle class="P" cx="1907.2" cy="364.7" r="2.9"/>
<circle class="N" cx="121.4" cy="244.8" r="2.9"/>
<circle class="P" cx="771.9" cy="441.7" r="2.9"/>
<circle class="N" cx="901.1" cy="216.7" r="2.9"/>
<circle class="N" cx="1247.8" cy="264.0" r="2.9"/>
<circle class="P" cx="335.3" cy="303.0" r="2.9"/>
<circle class="P" cx="1870.5" cy="369.7" r="2.9"/>
<circle class="N" cx="297.5" cy="108.6" r="2.9"/>
<circle class="P" cx="1414.2" cy="428.7" r="2.9"/>
<circle class="N" cx="300.5" cy="125.2" r="2.9"/>
<circle class="N" cx="2134.9" cy="248.8" r="2.9"/>
<circle class="B" cx="1806.3" cy="422.1" r="2.9"/>
<circle class="N" cx="257.1" cy="193.9" r="2.9"/>
<circle class="N" cx="2062.7" cy="239.9" r="2.9"/>
<circle class="P" cx="1420.1" cy="402.2" r="2.9"/>
<circle class="N" cx="2018.4" cy="210.7" r="2.9"/>
<circle class="P" cx="163.2" cy="416.1" r="2.9"/>
<circle class="N" cx="1972.5" cy="322.6" r="2.9"/>
<circle class="N" cx="1271.3" cy="255.2" r="2.9"/>
<circle class="P" cx="1849.8" cy="460.4" r="2.9"/>
<circle class="N" cx="364.5" cy="127.0" r="2.9"/>
<circle class="N" cx="1447.5" cy="272.9" r="2.9"/>
<circle class="N" cx="1444.8" cy="269.5" r="2.9"/>
<circle class="N" cx="1454.3" cy="339.2" r="2.9"/>
<circle class="A" cx="1246.6" cy="447.9" r="2.9"/>
<circle class="N" cx="2065.3" cy="268.3" r="2.9"/>
<circle class="D" cx="639.3" cy="413.3" r="2.9"/>
<circle class="N" cx="70.4" cy="388.5" r="2.9"/>
<circle class="P" cx="129.5" cy="451.9" r="2.9"/>
<circle class="N" cx="890.9" cy="158.3" r="2.9"/>
<circle class="N" cx="292.6" cy="139.0" r="2.9"/>
<circle class="N" cx="310.4" cy="131.6" r="2.9"/>
<circle class="P" cx="304.8" cy="311.0" r="2.9"/>
<circle class="P" cx="755.8" cy="432.3" r="2.9"/>
<circle class="N" cx="2049.9" cy="282.8" r="2.9"/>
<circle class="P" cx="1382.0" cy="457.3" r="2.9"/>
<circle class="P" cx="1963.8" cy="335.2" r="2.9"/>
<circle class="N" cx="796.4" cy="76.9" r="2.9"/>
<circle class="N" cx="2032.6" cy="266.5" r="2.9"/>
<circle class="P" cx="317.6" cy="228.9" r="2.9"/>
<circle class="A" cx="1799.8" cy="406.4" r="2.9"/>
<circle class="A" cx="653.6" cy="423.3" r="2.9"/>
<circle class="B" cx="1230.9" cy="436.6" r="2.9"/>
<circle class="N" cx="1581.9" cy="286.3" r="2.9"/>
<circle class="N" cx="914.7" cy="160.6" r="2.9"/>
<circle class="N" cx="1426.9" cy="417.4" r="2.9"/>
<circle class="N" cx="161.1" cy="165.2" r="2.9"/>
<circle class="A" cx="1824.9" cy="408.2" r="2.9"/>
<circle class="N" cx="201.3" cy="295.3" r="2.9"/>
<circle class="N" cx="344.3" cy="152.1" r="2.9"/>
<circle class="N" cx="2020.0" cy="145.6" r="2.9"/>
<circle class="N" cx="321.4" cy="115.7" r="2.9"/>
<circle class="N" cx="127.7" cy="271.6" r="2.9"/>
<circle class="N" cx="879.8" cy="212.1" r="2.9"/>
<circle class="A" cx="668.6" cy="411.3" r="2.9"/>
<circle class="P" cx="120.5" cy="438.1" r="2.9"/>
<circle class="N" cx="841.4" cy="95.7" r="2.9"/>
<circle class="P" cx="727.2" cy="414.6" r="2.9"/>
<circle class="N" cx="2007.4" cy="359.7" r="2.9"/>
<circle class="N" cx="360.8" cy="191.6" r="2.9"/>
<circle class="N" cx="2078.4" cy="210.9" r="2.9"/>
<circle class="P" cx="1933.8" cy="398.5" r="2.9"/>
<circle class="N" cx="168.7" cy="272.0" r="2.9"/>
<circle class="N" cx="953.2" cy="181.4" r="2.9"/>
<circle class="N" cx="1213.7" cy="394.7" r="2.9"/>
<circle class="N" cx="1218.7" cy="363.1" r="2.9"/>
<circle class="N" cx="311.1" cy="141.4" r="2.9"/>
<circle class="N" cx="2065.5" cy="279.8" r="2.9"/>
<circle class="N" cx="1434.8" cy="400.2" r="2.9"/>
<circle class="P" cx="201.4" cy="320.8" r="2.9"/>
<circle class="P" cx="1916.1" cy="370.9" r="2.9"/>
<circle class="P" cx="1403.0" cy="428.4" r="2.9"/>
<circle class="B" cx="633.2" cy="439.4" r="2.9"/>
<circle class="P" cx="805.2" cy="389.6" r="2.9"/>
<circle class="N" cx="2092.2" cy="186.0" r="2.9"/>
<circle class="N" cx="2018.5" cy="359.5" r="2.9"/>
<circle class="P" cx="163.3" cy="447.8" r="2.9"/>
<circle class="N" cx="1236.7" cy="347.0" r="2.9"/>
<circle class="N" cx="2020.7" cy="289.1" r="2.9"/>
<circle class="P" cx="1884.0" cy="437.4" r="2.9"/>
<circle class="P" cx="1830.6" cy="435.4" r="2.9"/>
<circle class="N" cx="939.3" cy="266.6" r="2.9"/>
<circle class="N" cx="768.5" cy="197.2" r="2.9"/>
<circle class="A" cx="1208.8" cy="455.7" r="2.9"/>
<circle class="N" cx="293.2" cy="76.1" r="2.9"/>
<circle class="N" cx="1537.4" cy="362.2" r="2.9"/>
<circle class="P" cx="1448.3" cy="415.2" r="2.9"/>
<circle class="N" cx="2151.9" cy="238.9" r="2.9"/>
<circle class="N" cx="697.0" cy="366.2" r="2.9"/>
<circle class="N" cx="661.1" cy="384.1" r="2.9"/>
<circle class="N" cx="1317.7" cy="193.3" r="2.9"/>
<circle class="B" cx="1206.5" cy="452.9" r="2.9"/>
<circle class="N" cx="1274.7" cy="269.4" r="2.9"/>
<circle class="B" cx="1830.6" cy="429.4" r="2.9"/>
<circle class="P" cx="150.2" cy="423.0" r="2.9"/>
<circle class="B" cx="1229.0" cy="432.4" r="2.9"/>
<circle class="P" cx="812.0" cy="383.7" r="2.9"/>
<circle class="N" cx="162.7" cy="187.0" r="2.9"/>
<circle class="N" cx="819.6" cy="161.3" r="2.9"/>
<circle class="A" cx="1215.0" cy="447.4" r="2.9"/>
<circle class="N" cx="282.3" cy="117.6" r="2.9"/>
<circle class="B" cx="685.7" cy="419.3" r="2.9"/>
<circle class="N" cx="937.4" cy="226.2" r="2.9"/>
<circle class="A" cx="650.6" cy="421.8" r="2.9"/>
<circle class="N" cx="121.5" cy="284.0" r="2.9"/>
<circle class="N" cx="1515.0" cy="348.2" r="2.9"/>
<circle class="N" cx="355.2" cy="140.5" r="2.9"/>
<circle class="P" cx="1857.3" cy="431.2" r="2.9"/>
<circle class="B" cx="671.0" cy="452.3" r="2.9"/>
<circle class="P" cx="1891.8" cy="382.9" r="2.9"/>
<circle class="N" cx="1496.5" cy="411.8" r="2.9"/>
<circle class="N" cx="2032.5" cy="309.1" r="2.9"/>
<circle class="P" cx="1907.4" cy="402.5" r="2.9"/>
<circle class="N" cx="279.6" cy="179.8" r="2.9"/>
<circle class="N" cx="1975.2" cy="307.8" r="2.9"/>
<circle class="P" cx="1441.6" cy="434.7" r="2.9"/>
<circle class="N" cx="108.9" cy="333.2" r="2.9"/>
<circle class="N" cx="1354.5" cy="317.0" r="2.9"/>
<circle class="P" cx="1889.3" cy="366.9" r="2.9"/>
<circle class="A" cx="1216.1" cy="458.6" r="2.9"/>
<circle class="N" cx="2128.5" cy="310.5" r="2.9"/>
<circle class="P" cx="1927.0" cy="336.1" r="2.9"/>
<circle class="P" cx="364.8" cy="311.8" r="2.9"/>
<circle class="N" cx="298.7" cy="117.4" r="2.9"/>
<circle class="N" cx="1376.1" cy="300.6" r="2.9"/>
<circle class="P" cx="820.6" cy="337.8" r="2.9"/>
<circle class="N" cx="1492.5" cy="331.5" r="2.9"/>
<circle class="N" cx="2090.6" cy="285.3" r="2.9"/>
<circle class="N" cx="2084.0" cy="205.1" r="2.9"/>
<circle class="P" cx="328.6" cy="218.9" r="2.9"/>
<circle class="N" cx="95.7" cy="460.0" r="2.9"/>
<circle class="N" cx="934.3" cy="248.7" r="2.9"/>
<circle class="P" cx="1883.4" cy="441.9" r="2.9"/>
<circle class="P" cx="831.5" cy="384.2" r="2.9"/>
<circle class="P" cx="806.5" cy="369.2" r="2.9"/>
<circle class="N" cx="2136.2" cy="299.2" r="2.9"/>
<circle class="N" cx="652.4" cy="439.6" r="2.9"/>
<circle class="E" cx="103.6" cy="447.7" r="2.9"/>
<circle class="E" cx="1278.6" cy="442.4" r="2.9"/>
<circle class="E" cx="1337.2" cy="408.9" r="2.9"/>
<circle class="E" cx="686.9" cy="423.9" r="2.9"/>
<circle class="E" cx="146.4" cy="364.8" r="2.9"/>
<circle class="E" cx="661.7" cy="436.3" r="2.9"/>
<circle class="E" cx="1232.6" cy="443.0" r="2.9"/>
<circle class="E" cx="1237.2" cy="456.3" r="2.9"/>
<circle class="E" cx="696.5" cy="430.0" r="2.9"/>
<circle class="E" cx="668.4" cy="414.0" r="2.9"/>
<circle class="T" cx="703.9" cy="424.6" r="2.9"/>
<circle class="E" cx="1361.4" cy="394.2" r="2.9"/>
<circle class="T" cx="89.9" cy="421.6" r="2.9"/>
<circle class="T" cx="685.3" cy="436.0" r="2.9"/>
<circle class="E" cx="1350.1" cy="404.1" r="2.9"/>
<circle class="E" cx="1273.0" cy="450.9" r="2.9"/>
<circle class="E" cx="691.7" cy="458.5" r="2.9"/>
<circle class="E" cx="1848.4" cy="439.6" r="2.9"/>
<circle class="T" cx="104.4" cy="418.8" r="2.9"/>
<circle class="E" cx="1366.8" cy="405.2" r="2.9"/>
<circle class="E" cx="1389.4" cy="408.3" r="2.9"/>
<circle class="E" cx="1852.5" cy="440.7" r="2.9"/>
<circle class="E" cx="1333.9" cy="427.2" r="2.9"/>
<circle class="E" cx="1315.9" cy="410.5" r="2.9"/>
<circle class="E" cx="1343.7" cy="411.1" r="2.9"/>
<circle class="E" cx="1353.8" cy="426.1" r="2.9"/>
<circle class="T" cx="114.1" cy="415.1" r="2.9"/>
<circle class="E" cx="147.8" cy="350.2" r="2.9"/>
<circle class="E" cx="1280.1" cy="411.4" r="2.9"/>
<circle class="T" cx="103.9" cy="421.8" r="2.9"/>
<circle class="E" cx="1317.9" cy="408.3" r="2.9"/>
<circle class="E" cx="1860.7" cy="449.0" r="2.9"/>
<circle class="E" cx="1915.8" cy="446.2" r="2.9"/>
<circle class="T" cx="690.9" cy="425.4" r="2.9"/>
<circle class="E" cx="128.2" cy="342.2" r="2.9"/>
<circle class="E" cx="1238.6" cy="456.1" r="2.9"/>
<circle class="T" cx="108.2" cy="411.4" r="2.9"/>
<circle class="E" cx="1237.5" cy="440.4" r="2.9"/>
<circle class="E" cx="1851.0" cy="456.2" r="2.9"/>
<circle class="E" cx="1410.1" cy="413.2" r="2.9"/>
<circle class="E" cx="717.2" cy="425.9" r="2.9"/>
<circle class="E" cx="1846.4" cy="458.8" r="2.9"/>
<circle class="T" cx="712.5" cy="413.3" r="2.9"/>
<circle class="T" cx="96.9" cy="414.4" r="2.9"/>
<circle class="E" cx="125.6" cy="339.3" r="2.9"/>
<circle class="E" cx="1891.3" cy="457.1" r="2.9"/>
<circle class="E" cx="139.9" cy="395.4" r="2.9"/>
<circle class="E" cx="701.8" cy="436.5" r="2.9"/>
<circle class="T" cx="1820.3" cy="459.9" r="2.9"/>
<circle class="E" cx="136.5" cy="349.9" r="2.9"/>
<circle class="E" cx="1244.9" cy="446.5" r="2.9"/>
<circle class="E" cx="1383.0" cy="405.6" r="2.9"/>
<circle class="E" cx="118.0" cy="339.1" r="2.9"/>
<circle class="T" cx="120.0" cy="430.8" r="2.9"/>
<circle class="E" cx="1900.0" cy="457.6" r="2.9"/>
<circle class="E" cx="650.9" cy="458.5" r="2.9"/>
<circle class="T" cx="700.4" cy="424.1" r="2.9"/>
<circle class="E" cx="1358.8" cy="424.0" r="2.9"/>
<circle class="T" cx="117.8" cy="412.2" r="2.9"/>
<circle class="E" cx="1326.6" cy="418.6" r="2.9"/>
<circle class="E" cx="1854.1" cy="457.3" r="2.9"/>
<circle class="E" cx="1902.5" cy="445.1" r="2.9"/>
<circle class="T" cx="110.9" cy="414.0" r="2.9"/>
<circle class="E" cx="701.7" cy="429.0" r="2.9"/>
<circle class="E" cx="128.8" cy="386.1" r="2.9"/>
<circle class="E" cx="144.9" cy="359.9" r="2.9"/>
<circle class="E" cx="1375.4" cy="410.9" r="2.9"/>
<circle class="E" cx="1909.9" cy="451.6" r="2.9"/>
<circle class="E" cx="688.0" cy="445.7" r="2.9"/>
<circle class="E" cx="67.3" cy="438.9" r="2.9"/>
<circle class="E" cx="112.4" cy="388.0" r="2.9"/>
<circle class="E" cx="1354.6" cy="407.8" r="2.9"/>
<circle class="E" cx="134.4" cy="355.8" r="2.9"/>
<circle class="T" cx="674.4" cy="410.0" r="2.9"/>
<circle class="E" cx="81.9" cy="441.6" r="2.9"/>
<circle class="E" cx="1343.2" cy="408.2" r="2.9"/>
<circle class="E" cx="1376.4" cy="414.3" r="2.9"/>
<circle class="E" cx="647.8" cy="401.1" r="2.9"/>
<circle class="E" cx="135.7" cy="364.8" r="2.9"/>
<circle class="E" cx="1269.2" cy="453.1" r="2.9"/>
<circle class="E" cx="1265.6" cy="437.5" r="2.9"/>
<circle class="T" cx="107.1" cy="422.8" r="2.9"/>
<circle class="E" cx="1394.7" cy="408.5" r="2.9"/>
<circle class="T" cx="671.0" cy="426.1" r="2.9"/>
<circle class="E" cx="1311.6" cy="426.8" r="2.9"/>
<circle class="E" cx="1378.1" cy="414.4" r="2.9"/>
<circle class="E" cx="1307.5" cy="391.9" r="2.9"/>
<circle class="E" cx="1248.7" cy="445.2" r="2.9"/>
<circle class="E" cx="689.2" cy="433.2" r="2.9"/>
<circle class="E" cx="1918.1" cy="446.4" r="2.9"/>
<circle class="T" cx="692.3" cy="428.3" r="2.9"/>
<circle class="T" cx="120.4" cy="425.9" r="2.9"/>
<circle class="T" cx="100.5" cy="431.2" r="2.9"/>
<circle class="E" cx="72.2" cy="448.8" r="2.9"/>
<circle class="T" cx="693.3" cy="426.8" r="2.9"/>
<circle class="T" cx="103.7" cy="412.4" r="2.9"/>
<circle class="E" cx="1901.8" cy="448.8" r="2.9"/>
<circle class="T" cx="98.3" cy="416.0" r="2.9"/>
<circle class="E" cx="1894.8" cy="459.5" r="2.9"/>
<circle class="T" cx="100.4" cy="425.9" r="2.9"/>
<circle class="E" cx="1254.8" cy="455.6" r="2.9"/>
<circle class="E" cx="641.0" cy="446.4" r="2.9"/>
<circle class="E" cx="1250.0" cy="432.3" r="2.9"/>
<circle class="E" cx="1850.8" cy="455.4" r="2.9"/>
<circle class="T" cx="681.7" cy="420.7" r="2.9"/>
<circle class="E" cx="1306.7" cy="412.2" r="2.9"/>
<circle class="E" cx="1411.4" cy="413.7" r="2.9"/>
<circle class="T" cx="703.2" cy="414.2" r="2.9"/>
<circle class="T" cx="671.1" cy="422.4" r="2.9"/>
<circle class="T" cx="1760.3" cy="403.3" r="2.9"/>
<circle class="E" cx="1389.5" cy="420.0" r="2.9"/>
<circle class="E" cx="703.7" cy="435.4" r="2.9"/>
<circle class="E" cx="1259.5" cy="434.2" r="2.9"/>
<circle class="E" cx="1353.4" cy="414.4" r="2.9"/>
<circle class="E" cx="1400.1" cy="396.1" r="2.9"/>
<circle class="E" cx="86.6" cy="455.3" r="2.9"/>
<circle class="E" cx="1856.7" cy="444.9" r="2.9"/>
<circle class="E" cx="129.9" cy="386.1" r="2.9"/>
<circle class="E" cx="1248.9" cy="446.7" r="2.9"/>
<circle class="E" cx="1279.7" cy="447.6" r="2.9"/>
<circle class="E" cx="1317.3" cy="400.8" r="2.9"/>
<circle class="E" cx="65.9" cy="456.2" r="2.9"/>
<circle class="T" cx="95.8" cy="422.4" r="2.9"/>
<circle class="T" cx="103.2" cy="422.7" r="2.9"/>
<circle class="E" cx="734.2" cy="458.5" r="2.9"/>
<circle class="E" cx="1254.5" cy="447.9" r="2.9"/>
<circle class="E" cx="1235.5" cy="457.6" r="2.9"/>
<circle class="E" cx="119.2" cy="361.3" r="2.9"/>
<circle class="E" cx="1340.3" cy="419.8" r="2.9"/>
<circle class="T" cx="95.5" cy="424.1" r="2.9"/>
<circle class="E" cx="1273.2" cy="438.1" r="2.9"/>
<circle class="T" cx="691.9" cy="426.9" r="2.9"/>
<circle class="T" cx="103.9" cy="416.4" r="2.9"/>
<circle class="E" cx="1350.9" cy="412.2" r="2.9"/>
<circle class="T" cx="1763.4" cy="452.9" r="2.9"/>
<circle class="E" cx="99.0" cy="446.0" r="2.9"/>
<circle class="E" cx="1888.5" cy="459.5" r="2.9"/>
<circle class="E" cx="1363.0" cy="411.1" r="2.9"/>
<circle class="E" cx="106.2" cy="459.9" r="2.9"/>
<circle class="E" cx="123.9" cy="372.7" r="2.9"/>
<circle class="E" cx="686.6" cy="425.3" r="2.9"/>
<circle class="E" cx="682.7" cy="417.8" r="2.9"/>
<circle class="E" cx="87.4" cy="456.7" r="2.9"/>
<circle class="E" cx="1267.0" cy="432.4" r="2.9"/>
<circle class="E" cx="1915.3" cy="450.0" r="2.9"/>
<circle class="T" cx="99.9" cy="415.2" r="2.9"/>
<circle class="E" cx="690.6" cy="428.8" r="2.9"/>
<circle class="E" cx="1844.3" cy="438.3" r="2.9"/>
<circle class="E" cx="1367.3" cy="402.6" r="2.9"/>
<circle class="E" cx="709.8" cy="449.1" r="2.9"/>
<circle class="E" cx="1893.8" cy="445.4" r="2.9"/>
<circle class="E" cx="1343.9" cy="409.2" r="2.9"/>
<circle class="T" cx="701.6" cy="427.1" r="2.9"/>
<circle class="E" cx="1879.9" cy="445.8" r="2.9"/>
<circle class="E" cx="1374.5" cy="407.6" r="2.9"/>
<circle class="T" cx="703.6" cy="423.0" r="2.9"/>
<circle class="E" cx="712.0" cy="450.3" r="2.9"/>
<circle class="E" cx="136.0" cy="382.4" r="2.9"/>
<circle class="E" cx="1324.6" cy="415.9" r="2.9"/>
<circle class="E" cx="149.1" cy="347.6" r="2.9"/>
<circle class="T" cx="708.3" cy="420.1" r="2.9"/>
<circle class="E" cx="1238.2" cy="458.8" r="2.9"/>
<circle class="E" cx="691.4" cy="431.2" r="2.9"/>
<circle class="T" cx="695.9" cy="428.1" r="2.9"/>
<circle class="E" cx="665.6" cy="431.3" r="2.9"/>
<circle class="E" cx="1260.0" cy="437.8" r="2.9"/>
<circle class="E" cx="1861.4" cy="444.9" r="2.9"/>
<circle class="E" cx="1289.1" cy="426.7" r="2.9"/>
<circle class="T" cx="107.1" cy="409.4" r="2.9"/>
<circle class="E" cx="1358.4" cy="411.9" r="2.9"/>
<circle class="E" cx="111.9" cy="384.0" r="2.9"/>
<circle class="T" cx="115.2" cy="430.0" r="2.9"/>
<circle class="E" cx="1350.2" cy="414.0" r="2.9"/>
<circle class="E" cx="1281.5" cy="451.1" r="2.9"/>
<circle class="E" cx="1383.9" cy="396.7" r="2.9"/>
<circle class="T" cx="119.1" cy="414.6" r="2.9"/>
<circle class="E" cx="1342.4" cy="408.3" r="2.9"/>
<circle class="E" cx="125.2" cy="374.0" r="2.9"/>
<circle class="E" cx="698.0" cy="425.5" r="2.9"/>
<circle class="T" cx="679.0" cy="421.5" r="2.9"/>
<circle class="T" cx="678.3" cy="414.1" r="2.9"/>
<circle class="E" cx="1299.0" cy="409.5" r="2.9"/>
<circle class="E" cx="1267.2" cy="447.7" r="2.9"/>
<circle class="E" cx="674.2" cy="445.6" r="2.9"/>
<circle class="E" cx="696.9" cy="429.8" r="2.9"/>
<circle class="E" cx="1340.2" cy="409.6" r="2.9"/>
<circle class="E" cx="1292.0" cy="435.0" r="2.9"/>
<circle class="E" cx="1335.6" cy="391.9" r="2.9"/>
<circle class="T" cx="99.6" cy="420.5" r="2.9"/>
<circle class="E" cx="1349.0" cy="405.9" r="2.9"/>
<circle class="T" cx="699.0" cy="440.3" r="2.9"/>
<circle class="E" cx="1347.8" cy="403.3" r="2.9"/>
<circle class="T" cx="685.8" cy="429.3" r="2.9"/>
<circle class="E" cx="1365.5" cy="408.2" r="2.9"/>
<circle class="E" cx="116.5" cy="369.0" r="2.9"/>
<circle class="E" cx="715.7" cy="445.2" r="2.9"/>
<circle class="E" cx="139.1" cy="369.2" r="2.9"/>
<circle class="E" cx="1361.3" cy="416.8" r="2.9"/>
<circle class="E" cx="1251.4" cy="437.2" r="2.9"/>
<circle class="T" cx="685.1" cy="432.9" r="2.9"/>
<circle class="E" cx="1391.8" cy="402.9" r="2.9"/>
<circle class="T" cx="102.2" cy="417.4" r="2.9"/>
<circle class="E" cx="120.6" cy="392.0" r="2.9"/>
<circle class="E" cx="1326.5" cy="417.3" r="2.9"/>
<circle class="E" cx="79.8" cy="453.4" r="2.9"/></g>
<g stroke="#000" stroke-width="2.2" fill="none"><path d="M42.4 88V489M33.9 480.4H435.4"/><path d="M608.1 88V489M599.6 480.4H1001.1"/><path d="M1173.8 88V489M1165.3 480.4H1566.8"/><path d="M1739.5 88V489M1731.0 480.4H2132.5"/></g>
<g fill="#000"><polygon points="36.8,89.5 48.0,89.5 42.4,78.6"/><polygon points="434.2,475 434.2,485.8 443.7,480.4"/><polygon points="602.5,89.5 613.7,89.5 608.1,78.6"/><polygon points="999.9,475 999.9,485.8 1009.4,480.4"/><polygon points="1168.2,89.5 1179.4,89.5 1173.8,78.6"/><polygon points="1565.6,475 1565.6,485.8 1575.1,480.4"/><polygon points="1733.9,89.5 1745.1,89.5 1739.5,78.6"/><polygon points="2131.3,475 2131.3,485.8 2140.8,480.4"/></g>
<text class="t" x="261.7" y="29.3" text-anchor="middle">Rbfox3</text>
<text x="237.7" y="521.6" text-anchor="middle">Spliced</text>
<text transform="translate(31.2,284.7) rotate(-90)" text-anchor="middle">Unspliced</text>
<text class="t" x="828.0" y="29.3" text-anchor="middle">Sulf2</text>
<text x="803.4" y="521.6" text-anchor="middle">Spliced</text>
<text transform="translate(596.9,284.7) rotate(-90)" text-anchor="middle">Unspliced</text>
<text class="t" x="1405.0" y="29.3" text-anchor="middle">Igfbpl1</text>
<text x="1369.1" y="521.6" text-anchor="middle">Spliced</text>
<text transform="translate(1162.6,284.7) rotate(-90)" text-anchor="middle">Unspliced</text>
<text class="t" x="1982.0" y="29.3" text-anchor="middle">Cbfa2t3</text>
<text x="1934.8" y="521.6" text-anchor="middle">Spliced</text>
<text transform="translate(1728.3,284.7) rotate(-90)" text-anchor="middle">Unspliced</text>
<rect x="354.0" y="567" width="32.4" height="32.4" fill="#8fbc8f"/>
<text x="389.8" y="595.2">Ductal</text>
<rect x="542.7" y="567" width="32.4" height="32.4" fill="#fdbf6f"/>
<text x="578.5" y="595.2">Ngn3 high EP</text>
<rect x="854.0" y="567" width="32.4" height="32.4" fill="#ff7f00"/>
<text x="889.8" y="595.2">Pre-endocrine</text>
<rect x="1169.8" y="567" width="32.4" height="32.4" fill="#1f78b4"/>
<text x="1204.5" y="595.2">Alpha</text>
<rect x="1350.3" y="567" width="32.4" height="32.4" fill="#b2df8a"/>
<text x="1386.7" y="595.2">Beta</text>
<rect x="1510.3" y="567" width="32.4" height="32.4" fill="#6a3d9a"/>
<text x="1546.2" y="595.2">Delta</text>
<rect x="1682.5" y="567" width="32.4" height="32.4" fill="#cab2d6"/>
<text x="1718.9" y="595.2">Epsilon</text>
</svg>
</body></html>
